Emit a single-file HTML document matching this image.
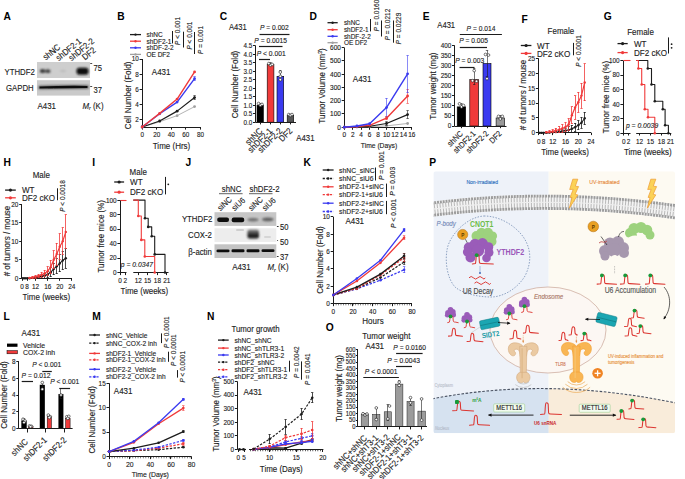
<!DOCTYPE html><html><head><meta charset="utf-8"><style>html,body{margin:0;padding:0;background:#fff;overflow:hidden;width:685px;height:479px;}svg{display:block;font-family:"Liberation Sans",sans-serif;}</style></head><body><svg width="685" height="479" viewBox="0 0 685 479" font-family="Liberation Sans, sans-serif" fill="#1c1c1c"><defs><filter id="bl" x="-20%" y="-50%" width="140%" height="200%"><feGaussianBlur stdDeviation="0.8"/></filter><filter id="bl2" x="-20%" y="-50%" width="140%" height="200%"><feGaussianBlur stdDeviation="0.5"/></filter><filter id="bl3" x="-20%" y="-50%" width="140%" height="200%"><feGaussianBlur stdDeviation="0.35"/></filter></defs>
<text font-size="11.29" font-weight="bold" fill="#000" transform="translate(3.6 19.8) scale(0.9090909090909091 1)">A</text>
<text font-size="8.78" stroke="#1c1c1c" stroke-width="0.13" transform="translate(45.8 60.6) rotate(-39) scale(0.8899521531100479 1)">shNC</text>
<text font-size="8.78" stroke="#1c1c1c" stroke-width="0.13" transform="translate(58.8 61.2) rotate(-39) scale(0.8899521531100479 1)">shDF2-1</text>
<text font-size="8.78" stroke="#1c1c1c" stroke-width="0.13" transform="translate(71.6 61.2) rotate(-39) scale(0.8899521531100479 1)">shDF2-2</text>
<text font-size="8.78" stroke="#1c1c1c" stroke-width="0.13" transform="translate(85 60.6) rotate(-39) scale(0.8899521531100479 1)">DF2</text>
<rect x="37" y="62" width="53" height="16" fill="#cecece"/>
<rect x="37" y="80.2" width="53" height="15.4" fill="#cacaca"/>
<g filter="url(#bl)"><ellipse cx="42.6" cy="71" rx="2.8" ry="2.0" fill="#3a3a3a"/><ellipse cx="47.8" cy="71.2" rx="2.6" ry="1.9" fill="#404040"/><rect x="76.5" y="67.8" width="12" height="7" rx="3" fill="#0a0a0a"/><ellipse cx="63" cy="71" rx="3" ry="1.2" fill="#bdbdbd"/></g>
<g filter="url(#bl)"><path d="M38.5,85.8 Q63,84.8 88.5,85.2 L88.5,88.8 Q63,89.2 38.5,89.2 Z" fill="#5a5a5a"/></g>
<g filter="url(#bl3)"><path d="M39.5,86.4 Q63,85.6 87.5,85.9 L87.5,88.0 Q63,88.4 39.5,88.4 Z" fill="#111"/></g>
<text font-size="8.78" stroke="#1c1c1c" stroke-width="0.13" transform="translate(4.5 74.6) scale(0.8899521531100479 1)">YTHDF2</text>
<text font-size="8.78" stroke="#1c1c1c" stroke-width="0.13" transform="translate(6 90.9) scale(0.8899521531100479 1)">GAPDH</text>
<line x1="90.2" y1="63.5" x2="92.2" y2="63.5" stroke="#1c1c1c" stroke-width="0.8"/>
<line x1="90.2" y1="86.5" x2="92.2" y2="86.5" stroke="#1c1c1c" stroke-width="0.8"/>
<text font-size="8.57" stroke="#1c1c1c" stroke-width="0.13" transform="translate(93.5 71.2) scale(0.8899521531100479 1)">75</text>
<text font-size="8.57" stroke="#1c1c1c" stroke-width="0.13" transform="translate(93.5 93) scale(0.8899521531100479 1)">37</text>
<text font-size="8.88" stroke="#1c1c1c" stroke-width="0.13" transform="translate(37.5 109) scale(0.8899521531100479 1)">A431</text>
<text font-size="8.88" stroke="#1c1c1c" stroke-width="0.13" transform="translate(82.5 108.6) scale(0.8899521531100479 1)"><tspan font-style="italic">M</tspan><tspan font-size="5.8" font-style="italic" dy="1.6">r</tspan><tspan dy="-1.6"> (K)</tspan></text>
<text font-size="11.29" font-weight="bold" fill="#000" transform="translate(117.3 19.8) scale(0.9090909090909091 1)">B</text>
<line x1="130" y1="34.6" x2="141" y2="34.6" stroke="#1c1c1c" stroke-width="1.3"/>
<circle cx="135.5" cy="34.6" r="1.2" fill="#1c1c1c"/>
<text font-size="7.31" stroke="#1c1c1c" stroke-width="0.13" transform="translate(146.5 37.1) scale(0.8899521531100479 1)">shNC</text>
<line x1="130" y1="41.2" x2="141" y2="41.2" stroke="#f03a3a" stroke-width="1.3"/>
<circle cx="135.5" cy="41.2" r="1.2" fill="#f03a3a"/>
<text font-size="7.31" stroke="#1c1c1c" stroke-width="0.13" transform="translate(146.5 43.7) scale(0.8899521531100479 1)">shDF2-1</text>
<line x1="130" y1="47.8" x2="141" y2="47.8" stroke="#3a3af0" stroke-width="1.3"/>
<circle cx="135.5" cy="47.8" r="1.2" fill="#3a3af0"/>
<text font-size="7.31" stroke="#1c1c1c" stroke-width="0.13" transform="translate(146.5 50.3) scale(0.8899521531100479 1)">shDF-2-2</text>
<line x1="130" y1="54.4" x2="141" y2="54.4" stroke="#a0a0a0" stroke-width="1.3"/>
<circle cx="135.5" cy="54.4" r="1.2" fill="#a0a0a0"/>
<text font-size="7.31" stroke="#1c1c1c" stroke-width="0.13" transform="translate(146.5 56.9) scale(0.8899521531100479 1)">OE DF2</text>
<line x1="172.5" y1="31" x2="172.5" y2="43.4" stroke="#1c1c1c" stroke-width="1"/>
<line x1="183.5" y1="31.7" x2="183.5" y2="47.5" stroke="#1c1c1c" stroke-width="1"/>
<line x1="194.5" y1="32" x2="194.5" y2="54" stroke="#1c1c1c" stroke-width="1"/>
<text font-size="7.31" text-anchor="middle" stroke="#1c1c1c" stroke-width="0.13" transform="translate(180.11 31) rotate(-90) scale(0.8899521531100479 1)"><tspan font-style="italic">P</tspan> &lt; 0.001</text>
<text font-size="7.31" text-anchor="middle" stroke="#1c1c1c" stroke-width="0.13" transform="translate(192.31 35.6) rotate(-90) scale(0.8899521531100479 1)"><tspan font-style="italic">P</tspan> &lt; 0.001</text>
<text font-size="7.31" text-anchor="middle" stroke="#1c1c1c" stroke-width="0.13" transform="translate(202.71 40) rotate(-90) scale(0.8899521531100479 1)"><tspan font-style="italic">P</tspan> = 0.001</text>
<line x1="142.5" y1="59" x2="142.5" y2="127" stroke="#1c1c1c" stroke-width="1"/>
<line x1="139.6" y1="119.5" x2="142.2" y2="119.5" stroke="#1c1c1c" stroke-width="1"/>
<text font-size="7.11" text-anchor="end" stroke="#1c1c1c" stroke-width="0.13" transform="translate(138.8 121.83) scale(0.8899521531100479 1)">2</text>
<line x1="139.6" y1="104.5" x2="142.2" y2="104.5" stroke="#1c1c1c" stroke-width="1"/>
<text font-size="7.11" text-anchor="end" stroke="#1c1c1c" stroke-width="0.13" transform="translate(138.8 106.73) scale(0.8899521531100479 1)">4</text>
<line x1="139.6" y1="89.5" x2="142.2" y2="89.5" stroke="#1c1c1c" stroke-width="1"/>
<text font-size="7.11" text-anchor="end" stroke="#1c1c1c" stroke-width="0.13" transform="translate(138.8 91.63) scale(0.8899521531100479 1)">6</text>
<line x1="139.6" y1="74.5" x2="142.2" y2="74.5" stroke="#1c1c1c" stroke-width="1"/>
<text font-size="7.11" text-anchor="end" stroke="#1c1c1c" stroke-width="0.13" transform="translate(138.8 76.53) scale(0.8899521531100479 1)">8</text>
<line x1="139.6" y1="59.5" x2="142.2" y2="59.5" stroke="#1c1c1c" stroke-width="1"/>
<text font-size="7.11" text-anchor="end" stroke="#1c1c1c" stroke-width="0.13" transform="translate(138.8 61.43) scale(0.8899521531100479 1)">10</text>
<line x1="142.2" y1="127.5" x2="200.3" y2="127.5" stroke="#1c1c1c" stroke-width="1"/>
<line x1="142.5" y1="127" x2="142.5" y2="129.6" stroke="#1c1c1c" stroke-width="1"/>
<text font-size="7.11" text-anchor="middle" stroke="#1c1c1c" stroke-width="0.13" transform="translate(142.2 136.9) scale(0.8899521531100479 1)">0</text>
<line x1="156.5" y1="127" x2="156.5" y2="129.6" stroke="#1c1c1c" stroke-width="1"/>
<text font-size="7.11" text-anchor="middle" stroke="#1c1c1c" stroke-width="0.13" transform="translate(156.75 136.9) scale(0.8899521531100479 1)">20</text>
<line x1="171.5" y1="127" x2="171.5" y2="129.6" stroke="#1c1c1c" stroke-width="1"/>
<text font-size="7.11" text-anchor="middle" stroke="#1c1c1c" stroke-width="0.13" transform="translate(171.3 136.9) scale(0.8899521531100479 1)">40</text>
<line x1="185.5" y1="127" x2="185.5" y2="129.6" stroke="#1c1c1c" stroke-width="1"/>
<text font-size="7.11" text-anchor="middle" stroke="#1c1c1c" stroke-width="0.13" transform="translate(185.85 136.9) scale(0.8899521531100479 1)">60</text>
<line x1="200.5" y1="127" x2="200.5" y2="129.6" stroke="#1c1c1c" stroke-width="1"/>
<text font-size="7.11" text-anchor="middle" stroke="#1c1c1c" stroke-width="0.13" transform="translate(200.4 136.9) scale(0.8899521531100479 1)">80</text>
<text font-size="8.99" text-anchor="middle" stroke="#1c1c1c" stroke-width="0.13" transform="translate(131.08 95.4) rotate(-90) scale(0.8899521531100479 1)">Cell Number (Fold)</text>
<text font-size="8.99" text-anchor="middle" stroke="#1c1c1c" stroke-width="0.13" transform="translate(171.5 148.5) scale(0.8899521531100479 1)">Time (Hrs)</text>
<text font-size="8.99" stroke="#1c1c1c" stroke-width="0.13" transform="translate(151.8 75) scale(0.8899521531100479 1)">A431</text>
<polyline points="142.2,127 159.66,121.72 177.12,115.67 194.58,106.61" fill="none" stroke="#a0a0a0" stroke-width="0.8" stroke-linejoin="round"/>
<circle cx="142.2" cy="127" r="1.4" fill="#a0a0a0"/>
<circle cx="159.66" cy="121.72" r="1.4" fill="#a0a0a0"/>
<circle cx="177.12" cy="115.67" r="1.4" fill="#a0a0a0"/>
<circle cx="194.58" cy="106.61" r="1.4" fill="#a0a0a0"/>
<polyline points="142.2,127 159.66,120.96 177.12,111.14 194.58,97.56" fill="none" stroke="#1c1c1c" stroke-width="1.2" stroke-linejoin="round"/>
<circle cx="142.2" cy="127" r="1.4" fill="#1c1c1c"/>
<circle cx="159.66" cy="120.96" r="1.4" fill="#1c1c1c"/>
<circle cx="177.12" cy="111.14" r="1.4" fill="#1c1c1c"/>
<circle cx="194.58" cy="97.56" r="1.4" fill="#1c1c1c"/>
<polyline points="142.2,127 159.66,113.79 177.12,102.09 194.58,78.68" fill="none" stroke="#3a3af0" stroke-width="1.4" stroke-linejoin="round"/>
<circle cx="142.2" cy="127" r="1.4" fill="#3a3af0"/>
<circle cx="159.66" cy="113.79" r="1.4" fill="#3a3af0"/>
<circle cx="177.12" cy="102.09" r="1.4" fill="#3a3af0"/>
<circle cx="194.58" cy="78.68" r="1.4" fill="#3a3af0"/>
<polyline points="142.2,127 159.66,113.41 177.12,99.06 194.58,71.88" fill="none" stroke="#f03a3a" stroke-width="1.4" stroke-linejoin="round"/>
<circle cx="142.2" cy="127" r="1.4" fill="#f03a3a"/>
<circle cx="159.66" cy="113.41" r="1.4" fill="#f03a3a"/>
<circle cx="177.12" cy="99.06" r="1.4" fill="#f03a3a"/>
<circle cx="194.58" cy="71.88" r="1.4" fill="#f03a3a"/>
<line x1="194.5" y1="99.44" x2="194.5" y2="95.67" stroke="#1c1c1c" stroke-width="0.6"/>
<line x1="193.38" y1="95.5" x2="195.78" y2="95.5" stroke="#1c1c1c" stroke-width="0.6"/>
<line x1="193.38" y1="99.5" x2="195.78" y2="99.5" stroke="#1c1c1c" stroke-width="0.6"/>
<line x1="194.5" y1="80.57" x2="194.5" y2="76.79" stroke="#3a3af0" stroke-width="0.6"/>
<line x1="193.38" y1="76.5" x2="195.78" y2="76.5" stroke="#3a3af0" stroke-width="0.6"/>
<line x1="193.38" y1="80.5" x2="195.78" y2="80.5" stroke="#3a3af0" stroke-width="0.6"/>
<text font-size="11.29" font-weight="bold" fill="#000" transform="translate(219.8 19.8) scale(0.9090909090909091 1)">C</text>
<text font-size="8.57" stroke="#1c1c1c" stroke-width="0.13" transform="translate(229 30.2) scale(0.8899521531100479 1)">A431</text>
<text font-size="7.52" text-anchor="middle" stroke="#1c1c1c" stroke-width="0.13" transform="translate(274.4 29.7) scale(0.8899521531100479 1)"><tspan font-style="italic">P</tspan> = 0.002</text>
<line x1="259.5" y1="34.5" x2="289.5" y2="34.5" stroke="#1c1c1c" stroke-width="1.2"/>
<text font-size="7.52" text-anchor="middle" stroke="#1c1c1c" stroke-width="0.13" transform="translate(270.6 42.6) scale(0.8899521531100479 1)"><tspan font-style="italic">P</tspan> = 0.0015</text>
<line x1="259" y1="46.5" x2="282.5" y2="46.5" stroke="#1c1c1c" stroke-width="1.2"/>
<text font-size="7.52" text-anchor="middle" stroke="#1c1c1c" stroke-width="0.13" transform="translate(271.2 56.3) scale(0.8899521531100479 1)"><tspan font-style="italic">P</tspan> &lt; 0.001</text>
<line x1="259" y1="59.5" x2="270" y2="59.5" stroke="#1c1c1c" stroke-width="1.2"/>
<line x1="255.5" y1="45.7" x2="255.5" y2="122.2" stroke="#1c1c1c" stroke-width="1"/>
<line x1="253" y1="122.5" x2="255.6" y2="122.5" stroke="#1c1c1c" stroke-width="1"/>
<text font-size="7.11" text-anchor="end" stroke="#1c1c1c" stroke-width="0.13" transform="translate(252.2 124.58) scale(0.8899521531100479 1)">0.0</text>
<line x1="253" y1="113.5" x2="255.6" y2="113.5" stroke="#1c1c1c" stroke-width="1"/>
<text font-size="7.11" text-anchor="end" stroke="#1c1c1c" stroke-width="0.13" transform="translate(252.2 116.08) scale(0.8899521531100479 1)">0.5</text>
<line x1="253" y1="105.5" x2="255.6" y2="105.5" stroke="#1c1c1c" stroke-width="1"/>
<text font-size="7.11" text-anchor="end" stroke="#1c1c1c" stroke-width="0.13" transform="translate(252.2 107.58) scale(0.8899521531100479 1)">1.0</text>
<line x1="253" y1="96.5" x2="255.6" y2="96.5" stroke="#1c1c1c" stroke-width="1"/>
<text font-size="7.11" text-anchor="end" stroke="#1c1c1c" stroke-width="0.13" transform="translate(252.2 99.08) scale(0.8899521531100479 1)">1.5</text>
<line x1="253" y1="88.5" x2="255.6" y2="88.5" stroke="#1c1c1c" stroke-width="1"/>
<text font-size="7.11" text-anchor="end" stroke="#1c1c1c" stroke-width="0.13" transform="translate(252.2 90.58) scale(0.8899521531100479 1)">2.0</text>
<line x1="253" y1="79.5" x2="255.6" y2="79.5" stroke="#1c1c1c" stroke-width="1"/>
<text font-size="7.11" text-anchor="end" stroke="#1c1c1c" stroke-width="0.13" transform="translate(252.2 82.08) scale(0.8899521531100479 1)">2.5</text>
<line x1="253" y1="71.5" x2="255.6" y2="71.5" stroke="#1c1c1c" stroke-width="1"/>
<text font-size="7.11" text-anchor="end" stroke="#1c1c1c" stroke-width="0.13" transform="translate(252.2 73.58) scale(0.8899521531100479 1)">3.0</text>
<line x1="253" y1="62.5" x2="255.6" y2="62.5" stroke="#1c1c1c" stroke-width="1"/>
<text font-size="7.11" text-anchor="end" stroke="#1c1c1c" stroke-width="0.13" transform="translate(252.2 65.08) scale(0.8899521531100479 1)">3.5</text>
<line x1="253" y1="54.5" x2="255.6" y2="54.5" stroke="#1c1c1c" stroke-width="1"/>
<text font-size="7.11" text-anchor="end" stroke="#1c1c1c" stroke-width="0.13" transform="translate(252.2 56.58) scale(0.8899521531100479 1)">4.0</text>
<line x1="253" y1="45.5" x2="255.6" y2="45.5" stroke="#1c1c1c" stroke-width="1"/>
<text font-size="7.11" text-anchor="end" stroke="#1c1c1c" stroke-width="0.13" transform="translate(252.2 48.08) scale(0.8899521531100479 1)">4.5</text>
<rect x="257" y="105.2" width="6.4" height="17" fill="#000" stroke="#000" stroke-width="0.6"/>
<rect x="267.2" y="64.4" width="6.7" height="57.8" fill="#f03a3a" stroke="#000" stroke-width="0.6"/>
<rect x="277" y="76.3" width="6.7" height="45.9" fill="#3a3af0" stroke="#000" stroke-width="0.6"/>
<rect x="287.2" y="115.4" width="6.5" height="6.8" fill="#555" stroke="#000" stroke-width="0.6"/>
<line x1="260.5" y1="106.05" x2="260.5" y2="103.5" stroke="#1c1c1c" stroke-width="0.6"/>
<line x1="259" y1="103.5" x2="261.4" y2="103.5" stroke="#1c1c1c" stroke-width="0.6"/>
<line x1="259" y1="106.5" x2="261.4" y2="106.5" stroke="#1c1c1c" stroke-width="0.6"/>
<line x1="270.5" y1="65.25" x2="270.5" y2="62.7" stroke="#1c1c1c" stroke-width="0.6"/>
<line x1="269.3" y1="62.5" x2="271.7" y2="62.5" stroke="#1c1c1c" stroke-width="0.6"/>
<line x1="269.3" y1="65.5" x2="271.7" y2="65.5" stroke="#1c1c1c" stroke-width="0.6"/>
<line x1="280.5" y1="80.55" x2="280.5" y2="70.35" stroke="#1c1c1c" stroke-width="0.6"/>
<line x1="279.1" y1="70.5" x2="281.5" y2="70.5" stroke="#1c1c1c" stroke-width="0.6"/>
<line x1="279.1" y1="80.5" x2="281.5" y2="80.5" stroke="#1c1c1c" stroke-width="0.6"/>
<line x1="290.5" y1="116.25" x2="290.5" y2="114.55" stroke="#1c1c1c" stroke-width="0.6"/>
<line x1="289.2" y1="114.5" x2="291.6" y2="114.5" stroke="#1c1c1c" stroke-width="0.6"/>
<line x1="289.2" y1="116.5" x2="291.6" y2="116.5" stroke="#1c1c1c" stroke-width="0.6"/>
<circle cx="258.6" cy="103.5" r="1.35" fill="#fff" stroke="#1c1c1c" stroke-width="0.6"/>
<circle cx="260.5" cy="105.2" r="1.35" fill="#fff" stroke="#1c1c1c" stroke-width="0.6"/>
<circle cx="262" cy="104.35" r="1.35" fill="#fff" stroke="#1c1c1c" stroke-width="0.6"/>
<circle cx="268.8" cy="63.55" r="1.35" fill="#fff" stroke="#1c1c1c" stroke-width="0.6"/>
<circle cx="270.6" cy="65.25" r="1.35" fill="#fff" stroke="#1c1c1c" stroke-width="0.6"/>
<circle cx="272.2" cy="64.4" r="1.35" fill="#fff" stroke="#1c1c1c" stroke-width="0.6"/>
<circle cx="280.3" cy="72.05" r="1.35" fill="#fff" stroke="#1c1c1c" stroke-width="0.6"/>
<circle cx="280.3" cy="79.7" r="1.35" fill="#fff" stroke="#1c1c1c" stroke-width="0.6"/>
<circle cx="280.3" cy="76.3" r="1.35" fill="#fff" stroke="#1c1c1c" stroke-width="0.6"/>
<circle cx="288.8" cy="114.55" r="1.35" fill="#fff" stroke="#1c1c1c" stroke-width="0.6"/>
<circle cx="290.4" cy="115.4" r="1.35" fill="#fff" stroke="#1c1c1c" stroke-width="0.6"/>
<circle cx="292" cy="114.55" r="1.35" fill="#fff" stroke="#1c1c1c" stroke-width="0.6"/>
<line x1="255.6" y1="122.5" x2="296" y2="122.5" stroke="#1c1c1c" stroke-width="1"/>
<line x1="260.5" y1="122.2" x2="260.5" y2="124.4" stroke="#1c1c1c" stroke-width="1"/>
<line x1="270.5" y1="122.2" x2="270.5" y2="124.4" stroke="#1c1c1c" stroke-width="1"/>
<line x1="280.5" y1="122.2" x2="280.5" y2="124.4" stroke="#1c1c1c" stroke-width="1"/>
<line x1="290.5" y1="122.2" x2="290.5" y2="124.4" stroke="#1c1c1c" stroke-width="1"/>
<text font-size="8.99" text-anchor="end" stroke="#1c1c1c" stroke-width="0.13" transform="translate(263 131.6) rotate(-45) scale(0.8899521531100479 1)">shNC</text>
<text font-size="8.99" text-anchor="end" stroke="#1c1c1c" stroke-width="0.13" transform="translate(273 131.6) rotate(-45) scale(0.8899521531100479 1)">shDF2-1</text>
<text font-size="8.99" text-anchor="end" stroke="#1c1c1c" stroke-width="0.13" transform="translate(283 131.6) rotate(-45) scale(0.8899521531100479 1)">shDF2-2</text>
<text font-size="8.99" text-anchor="end" stroke="#1c1c1c" stroke-width="0.13" transform="translate(293 131.6) rotate(-45) scale(0.8899521531100479 1)">DF2</text>
<text font-size="8.99" text-anchor="middle" stroke="#1c1c1c" stroke-width="0.13" transform="translate(238.08 84.5) rotate(-90) scale(0.8899521531100479 1)">Cell Number (Fold)</text>
<text font-size="8.78" stroke="#1c1c1c" stroke-width="0.13" transform="translate(296.3 141) scale(0.8899521531100479 1)">A431</text>
<text font-size="11.29" font-weight="bold" fill="#000" transform="translate(309.6 19.9) scale(0.9090909090909091 1)">D</text>
<line x1="327.5" y1="22.7" x2="337.7" y2="22.7" stroke="#1c1c1c" stroke-width="1.3"/>
<circle cx="332.6" cy="22.7" r="1.2" fill="#1c1c1c"/>
<text font-size="7.26" stroke="#1c1c1c" stroke-width="0.13" transform="translate(343.9 25.2) scale(0.8899521531100479 1)">shNC</text>
<line x1="327.5" y1="29.7" x2="337.7" y2="29.7" stroke="#f03a3a" stroke-width="1.3"/>
<circle cx="332.6" cy="29.7" r="1.2" fill="#f03a3a"/>
<text font-size="7.26" stroke="#1c1c1c" stroke-width="0.13" transform="translate(343.9 32.2) scale(0.8899521531100479 1)">shDF2-1</text>
<line x1="327.5" y1="36.3" x2="337.7" y2="36.3" stroke="#3a3af0" stroke-width="1.3"/>
<circle cx="332.6" cy="36.3" r="1.2" fill="#3a3af0"/>
<text font-size="7.26" stroke="#1c1c1c" stroke-width="0.13" transform="translate(343.9 38.8) scale(0.8899521531100479 1)">shDF-2-2</text>
<line x1="327.5" y1="42.7" x2="337.7" y2="42.7" stroke="#a0a0a0" stroke-width="1.3"/>
<circle cx="332.6" cy="42.7" r="1.2" fill="#a0a0a0"/>
<text font-size="7.26" stroke="#1c1c1c" stroke-width="0.13" transform="translate(343.9 45.2) scale(0.8899521531100479 1)">OE DF2</text>
<line x1="370.5" y1="19" x2="370.5" y2="31.4" stroke="#1c1c1c" stroke-width="1"/>
<line x1="381.5" y1="20.5" x2="381.5" y2="36.5" stroke="#1c1c1c" stroke-width="1"/>
<line x1="393.5" y1="20.5" x2="393.5" y2="42.7" stroke="#1c1c1c" stroke-width="1"/>
<text font-size="7.31" text-anchor="middle" stroke="#1c1c1c" stroke-width="0.13" transform="translate(379.11 15.5) rotate(-90) scale(0.8899521531100479 1)"><tspan font-style="italic">P</tspan> = 0.0160</text>
<text font-size="7.31" text-anchor="middle" stroke="#1c1c1c" stroke-width="0.13" transform="translate(389.51 24.5) rotate(-90) scale(0.8899521531100479 1)"><tspan font-style="italic">P</tspan> = 0.0212</text>
<text font-size="7.31" text-anchor="middle" stroke="#1c1c1c" stroke-width="0.13" transform="translate(400.51 28.5) rotate(-90) scale(0.8899521531100479 1)"><tspan font-style="italic">P</tspan> = 0.0229</text>
<line x1="344.5" y1="47.6" x2="344.5" y2="127.2" stroke="#1c1c1c" stroke-width="1"/>
<line x1="341.7" y1="127.5" x2="344.3" y2="127.5" stroke="#1c1c1c" stroke-width="1"/>
<text font-size="7.31" text-anchor="end" stroke="#1c1c1c" stroke-width="0.13" transform="translate(340.9 129.65) scale(0.8899521531100479 1)">0</text>
<line x1="341.7" y1="113.5" x2="344.3" y2="113.5" stroke="#1c1c1c" stroke-width="1"/>
<text font-size="7.31" text-anchor="end" stroke="#1c1c1c" stroke-width="0.13" transform="translate(340.9 116.38) scale(0.8899521531100479 1)">100</text>
<line x1="341.7" y1="100.5" x2="344.3" y2="100.5" stroke="#1c1c1c" stroke-width="1"/>
<text font-size="7.31" text-anchor="end" stroke="#1c1c1c" stroke-width="0.13" transform="translate(340.9 103.11) scale(0.8899521531100479 1)">200</text>
<line x1="341.7" y1="87.5" x2="344.3" y2="87.5" stroke="#1c1c1c" stroke-width="1"/>
<text font-size="7.31" text-anchor="end" stroke="#1c1c1c" stroke-width="0.13" transform="translate(340.9 89.84) scale(0.8899521531100479 1)">300</text>
<line x1="341.7" y1="74.5" x2="344.3" y2="74.5" stroke="#1c1c1c" stroke-width="1"/>
<text font-size="7.31" text-anchor="end" stroke="#1c1c1c" stroke-width="0.13" transform="translate(340.9 76.57) scale(0.8899521531100479 1)">400</text>
<line x1="341.7" y1="60.5" x2="344.3" y2="60.5" stroke="#1c1c1c" stroke-width="1"/>
<text font-size="7.31" text-anchor="end" stroke="#1c1c1c" stroke-width="0.13" transform="translate(340.9 63.3) scale(0.8899521531100479 1)">500</text>
<line x1="341.7" y1="47.5" x2="344.3" y2="47.5" stroke="#1c1c1c" stroke-width="1"/>
<text font-size="7.31" text-anchor="end" stroke="#1c1c1c" stroke-width="0.13" transform="translate(340.9 50.03) scale(0.8899521531100479 1)">600</text>
<line x1="344.3" y1="127.5" x2="412" y2="127.5" stroke="#1c1c1c" stroke-width="1"/>
<line x1="344.5" y1="127.2" x2="344.5" y2="129.8" stroke="#1c1c1c" stroke-width="1"/>
<text font-size="7.31" text-anchor="middle" stroke="#1c1c1c" stroke-width="0.13" transform="translate(344.3 137.04) scale(0.8899521531100479 1)">0</text>
<line x1="352.5" y1="127.2" x2="352.5" y2="129.8" stroke="#1c1c1c" stroke-width="1"/>
<text font-size="7.31" text-anchor="middle" stroke="#1c1c1c" stroke-width="0.13" transform="translate(352.74 137.04) scale(0.8899521531100479 1)">2</text>
<line x1="361.5" y1="127.2" x2="361.5" y2="129.8" stroke="#1c1c1c" stroke-width="1"/>
<text font-size="7.31" text-anchor="middle" stroke="#1c1c1c" stroke-width="0.13" transform="translate(361.18 137.04) scale(0.8899521531100479 1)">4</text>
<line x1="369.5" y1="127.2" x2="369.5" y2="129.8" stroke="#1c1c1c" stroke-width="1"/>
<text font-size="7.31" text-anchor="middle" stroke="#1c1c1c" stroke-width="0.13" transform="translate(369.62 137.04) scale(0.8899521531100479 1)">6</text>
<line x1="378.5" y1="127.2" x2="378.5" y2="129.8" stroke="#1c1c1c" stroke-width="1"/>
<text font-size="7.31" text-anchor="middle" stroke="#1c1c1c" stroke-width="0.13" transform="translate(378.06 137.04) scale(0.8899521531100479 1)">8</text>
<line x1="386.5" y1="127.2" x2="386.5" y2="129.8" stroke="#1c1c1c" stroke-width="1"/>
<text font-size="7.31" text-anchor="middle" stroke="#1c1c1c" stroke-width="0.13" transform="translate(386.5 137.04) scale(0.8899521531100479 1)">10</text>
<line x1="394.5" y1="127.2" x2="394.5" y2="129.8" stroke="#1c1c1c" stroke-width="1"/>
<text font-size="7.31" text-anchor="middle" stroke="#1c1c1c" stroke-width="0.13" transform="translate(394.94 137.04) scale(0.8899521531100479 1)">12</text>
<line x1="403.5" y1="127.2" x2="403.5" y2="129.8" stroke="#1c1c1c" stroke-width="1"/>
<text font-size="7.31" text-anchor="middle" stroke="#1c1c1c" stroke-width="0.13" transform="translate(403.38 137.04) scale(0.8899521531100479 1)">14</text>
<line x1="411.5" y1="127.2" x2="411.5" y2="129.8" stroke="#1c1c1c" stroke-width="1"/>
<text font-size="7.31" text-anchor="middle" stroke="#1c1c1c" stroke-width="0.13" transform="translate(411.82 137.04) scale(0.8899521531100479 1)">16</text>
<text font-size="8.99" text-anchor="middle" stroke="#1c1c1c" stroke-width="0.13" transform="translate(325.28 86) rotate(-90) scale(0.8899521531100479 1)">Tumor Volume (mm<tspan font-size="5.5" dy="-3">3</tspan><tspan dy="3">)</tspan></text>
<text font-size="7.58" text-anchor="middle" stroke="#1c1c1c" stroke-width="0.13" transform="translate(379 148.1) scale(0.8899521531100479 1)">Time (Days)</text>
<text font-size="8.99" stroke="#1c1c1c" stroke-width="0.13" transform="translate(352.8 82) scale(0.8899521531100479 1)">A431</text>
<polyline points="344.3,127.2 356.96,126.93 369.62,126.67 386.5,125.87 407.6,123.48" fill="none" stroke="#a0a0a0" stroke-width="0.8" stroke-linejoin="round"/>
<circle cx="344.3" cy="127.2" r="1.4" fill="#a0a0a0"/>
<circle cx="356.96" cy="126.93" r="1.4" fill="#a0a0a0"/>
<circle cx="369.62" cy="126.67" r="1.4" fill="#a0a0a0"/>
<circle cx="386.5" cy="125.87" r="1.4" fill="#a0a0a0"/>
<circle cx="407.6" cy="123.48" r="1.4" fill="#a0a0a0"/>
<polyline points="344.3,127.2 356.96,126.8 369.62,126.27 386.5,123.48 407.6,114.59" fill="none" stroke="#1c1c1c" stroke-width="1.2" stroke-linejoin="round"/>
<circle cx="344.3" cy="127.2" r="1.4" fill="#1c1c1c"/>
<circle cx="356.96" cy="126.8" r="1.4" fill="#1c1c1c"/>
<circle cx="369.62" cy="126.27" r="1.4" fill="#1c1c1c"/>
<circle cx="386.5" cy="123.48" r="1.4" fill="#1c1c1c"/>
<circle cx="407.6" cy="114.59" r="1.4" fill="#1c1c1c"/>
<line x1="407.5" y1="118.57" x2="407.5" y2="110.61" stroke="#1c1c1c" stroke-width="0.6"/>
<line x1="406.4" y1="110.5" x2="408.8" y2="110.5" stroke="#1c1c1c" stroke-width="0.6"/>
<line x1="406.4" y1="118.5" x2="408.8" y2="118.5" stroke="#1c1c1c" stroke-width="0.6"/>
<polyline points="344.3,127.2 356.96,126.54 369.62,125.34 386.5,118.18 407.6,96.02" fill="none" stroke="#f03a3a" stroke-width="1.4" stroke-linejoin="round"/>
<circle cx="344.3" cy="127.2" r="1.4" fill="#f03a3a"/>
<circle cx="356.96" cy="126.54" r="1.4" fill="#f03a3a"/>
<circle cx="369.62" cy="125.34" r="1.4" fill="#f03a3a"/>
<circle cx="386.5" cy="118.18" r="1.4" fill="#f03a3a"/>
<circle cx="407.6" cy="96.02" r="1.4" fill="#f03a3a"/>
<line x1="407.5" y1="103.31" x2="407.5" y2="89.38" stroke="#f03a3a" stroke-width="0.6"/>
<line x1="406.4" y1="89.5" x2="408.8" y2="89.5" stroke="#f03a3a" stroke-width="0.6"/>
<line x1="406.4" y1="103.5" x2="408.8" y2="103.5" stroke="#f03a3a" stroke-width="0.6"/>
<polyline points="344.3,127.2 356.96,126.01 369.62,123.75 386.5,107.56 407.6,73.85" fill="none" stroke="#3a3af0" stroke-width="1.4" stroke-linejoin="round"/>
<circle cx="344.3" cy="127.2" r="1.4" fill="#3a3af0"/>
<circle cx="356.96" cy="126.01" r="1.4" fill="#3a3af0"/>
<circle cx="369.62" cy="123.75" r="1.4" fill="#3a3af0"/>
<circle cx="386.5" cy="107.56" r="1.4" fill="#3a3af0"/>
<circle cx="407.6" cy="73.85" r="1.4" fill="#3a3af0"/>
<line x1="407.5" y1="92.7" x2="407.5" y2="55.54" stroke="#3a3af0" stroke-width="0.6"/>
<line x1="406.4" y1="55.5" x2="408.8" y2="55.5" stroke="#3a3af0" stroke-width="0.6"/>
<line x1="406.4" y1="92.5" x2="408.8" y2="92.5" stroke="#3a3af0" stroke-width="0.6"/>
<line x1="386.5" y1="116.58" x2="386.5" y2="98.27" stroke="#3a3af0" stroke-width="0.6"/>
<line x1="385.3" y1="98.5" x2="387.7" y2="98.5" stroke="#3a3af0" stroke-width="0.6"/>
<line x1="385.3" y1="116.5" x2="387.7" y2="116.5" stroke="#3a3af0" stroke-width="0.6"/>
<line x1="386.5" y1="119.9" x2="386.5" y2="116.58" stroke="#f03a3a" stroke-width="0.6"/>
<line x1="385.3" y1="116.5" x2="387.7" y2="116.5" stroke="#f03a3a" stroke-width="0.6"/>
<line x1="385.3" y1="119.5" x2="387.7" y2="119.5" stroke="#f03a3a" stroke-width="0.6"/>
<line x1="386.5" y1="125.21" x2="386.5" y2="121.89" stroke="#1c1c1c" stroke-width="0.6"/>
<line x1="385.3" y1="121.5" x2="387.7" y2="121.5" stroke="#1c1c1c" stroke-width="0.6"/>
<line x1="385.3" y1="125.5" x2="387.7" y2="125.5" stroke="#1c1c1c" stroke-width="0.6"/>
<text font-size="11.29" font-weight="bold" fill="#000" transform="translate(422.8 19.8) scale(0.9090909090909091 1)">E</text>
<text font-size="8.57" stroke="#1c1c1c" stroke-width="0.13" transform="translate(437.3 27.7) scale(0.8899521531100479 1)">A431</text>
<text font-size="7.52" text-anchor="middle" stroke="#1c1c1c" stroke-width="0.13" transform="translate(481 30.6) scale(0.8899521531100479 1)"><tspan font-style="italic">P</tspan> = 0.014</text>
<line x1="459.8" y1="34.5" x2="501.9" y2="34.5" stroke="#1c1c1c" stroke-width="1.2"/>
<text font-size="7.52" text-anchor="middle" stroke="#1c1c1c" stroke-width="0.13" transform="translate(473.6 43.1) scale(0.8899521531100479 1)"><tspan font-style="italic">P</tspan> = 0.005</text>
<line x1="459.8" y1="47.5" x2="487" y2="47.5" stroke="#1c1c1c" stroke-width="1.2"/>
<text font-size="7.52" text-anchor="middle" stroke="#1c1c1c" stroke-width="0.13" transform="translate(469.7 63.2) scale(0.8899521531100479 1)"><tspan font-style="italic">P</tspan> = 0.003</text>
<line x1="459.5" y1="67.5" x2="474.5" y2="67.5" stroke="#1c1c1c" stroke-width="1.2"/>
<line x1="454.5" y1="45.4" x2="454.5" y2="126" stroke="#1c1c1c" stroke-width="1"/>
<line x1="452" y1="126.5" x2="454.6" y2="126.5" stroke="#1c1c1c" stroke-width="1"/>
<text font-size="7.11" text-anchor="end" stroke="#1c1c1c" stroke-width="0.13" transform="translate(451.2 128.38) scale(0.8899521531100479 1)">0</text>
<line x1="452" y1="115.5" x2="454.6" y2="115.5" stroke="#1c1c1c" stroke-width="1"/>
<text font-size="7.11" text-anchor="end" stroke="#1c1c1c" stroke-width="0.13" transform="translate(451.2 118.3) scale(0.8899521531100479 1)">50</text>
<line x1="452" y1="105.5" x2="454.6" y2="105.5" stroke="#1c1c1c" stroke-width="1"/>
<text font-size="7.11" text-anchor="end" stroke="#1c1c1c" stroke-width="0.13" transform="translate(451.2 108.23) scale(0.8899521531100479 1)">100</text>
<line x1="452" y1="95.5" x2="454.6" y2="95.5" stroke="#1c1c1c" stroke-width="1"/>
<text font-size="7.11" text-anchor="end" stroke="#1c1c1c" stroke-width="0.13" transform="translate(451.2 98.16) scale(0.8899521531100479 1)">150</text>
<line x1="452" y1="85.5" x2="454.6" y2="85.5" stroke="#1c1c1c" stroke-width="1"/>
<text font-size="7.11" text-anchor="end" stroke="#1c1c1c" stroke-width="0.13" transform="translate(451.2 88.08) scale(0.8899521531100479 1)">200</text>
<line x1="452" y1="75.5" x2="454.6" y2="75.5" stroke="#1c1c1c" stroke-width="1"/>
<text font-size="7.11" text-anchor="end" stroke="#1c1c1c" stroke-width="0.13" transform="translate(451.2 78) scale(0.8899521531100479 1)">250</text>
<line x1="452" y1="65.5" x2="454.6" y2="65.5" stroke="#1c1c1c" stroke-width="1"/>
<text font-size="7.11" text-anchor="end" stroke="#1c1c1c" stroke-width="0.13" transform="translate(451.2 67.93) scale(0.8899521531100479 1)">300</text>
<line x1="452" y1="55.5" x2="454.6" y2="55.5" stroke="#1c1c1c" stroke-width="1"/>
<text font-size="7.11" text-anchor="end" stroke="#1c1c1c" stroke-width="0.13" transform="translate(451.2 57.85) scale(0.8899521531100479 1)">350</text>
<line x1="452" y1="45.5" x2="454.6" y2="45.5" stroke="#1c1c1c" stroke-width="1"/>
<text font-size="7.11" text-anchor="end" stroke="#1c1c1c" stroke-width="0.13" transform="translate(451.2 47.78) scale(0.8899521531100479 1)">400</text>
<rect x="457.2" y="106.86" width="8.5" height="19.14" fill="#000" stroke="#000" stroke-width="0.6"/>
<rect x="469.8" y="79.66" width="8.8" height="46.34" fill="#f03a3a" stroke="#000" stroke-width="0.6"/>
<rect x="483" y="63.53" width="8" height="62.47" fill="#3a3af0" stroke="#000" stroke-width="0.6"/>
<rect x="496.1" y="117.94" width="8.5" height="8.06" fill="#999" stroke="#000" stroke-width="0.6"/>
<line x1="461.5" y1="108.27" x2="461.5" y2="103.83" stroke="#1c1c1c" stroke-width="0.6"/>
<line x1="460.2" y1="103.5" x2="462.6" y2="103.5" stroke="#1c1c1c" stroke-width="0.6"/>
<line x1="460.2" y1="108.5" x2="462.6" y2="108.5" stroke="#1c1c1c" stroke-width="0.6"/>
<line x1="474.5" y1="84.69" x2="474.5" y2="68.57" stroke="#1c1c1c" stroke-width="0.6"/>
<line x1="473" y1="68.5" x2="475.4" y2="68.5" stroke="#1c1c1c" stroke-width="0.6"/>
<line x1="473" y1="84.5" x2="475.4" y2="84.5" stroke="#1c1c1c" stroke-width="0.6"/>
<line x1="487.5" y1="76.63" x2="487.5" y2="50.44" stroke="#1c1c1c" stroke-width="0.6"/>
<line x1="485.8" y1="50.5" x2="488.2" y2="50.5" stroke="#1c1c1c" stroke-width="0.6"/>
<line x1="485.8" y1="76.5" x2="488.2" y2="76.5" stroke="#1c1c1c" stroke-width="0.6"/>
<line x1="500.5" y1="119.95" x2="500.5" y2="115.52" stroke="#1c1c1c" stroke-width="0.6"/>
<line x1="499.1" y1="115.5" x2="501.5" y2="115.5" stroke="#1c1c1c" stroke-width="0.6"/>
<line x1="499.1" y1="119.5" x2="501.5" y2="119.5" stroke="#1c1c1c" stroke-width="0.6"/>
<circle cx="459.5" cy="103.83" r="1.35" fill="#fff" stroke="#1c1c1c" stroke-width="0.6"/>
<circle cx="461.5" cy="106.86" r="1.35" fill="#fff" stroke="#1c1c1c" stroke-width="0.6"/>
<circle cx="463.5" cy="105.45" r="1.35" fill="#fff" stroke="#1c1c1c" stroke-width="0.6"/>
<circle cx="472.5" cy="80.66" r="1.35" fill="#fff" stroke="#1c1c1c" stroke-width="0.6"/>
<circle cx="474.2" cy="70.59" r="1.35" fill="#fff" stroke="#1c1c1c" stroke-width="0.6"/>
<circle cx="476.5" cy="81.27" r="1.35" fill="#fff" stroke="#1c1c1c" stroke-width="0.6"/>
<circle cx="487" cy="78.65" r="1.35" fill="#fff" stroke="#1c1c1c" stroke-width="0.6"/>
<circle cx="485.5" cy="54.47" r="1.35" fill="#fff" stroke="#1c1c1c" stroke-width="0.6"/>
<circle cx="488.5" cy="55.07" r="1.35" fill="#fff" stroke="#1c1c1c" stroke-width="0.6"/>
<circle cx="498.5" cy="116.33" r="1.35" fill="#fff" stroke="#1c1c1c" stroke-width="0.6"/>
<circle cx="500.3" cy="118.95" r="1.35" fill="#fff" stroke="#1c1c1c" stroke-width="0.6"/>
<circle cx="502.3" cy="116.33" r="1.35" fill="#fff" stroke="#1c1c1c" stroke-width="0.6"/>
<line x1="454.6" y1="126.5" x2="506.5" y2="126.5" stroke="#1c1c1c" stroke-width="1"/>
<line x1="461.5" y1="126" x2="461.5" y2="128.2" stroke="#1c1c1c" stroke-width="1"/>
<line x1="474.5" y1="126" x2="474.5" y2="128.2" stroke="#1c1c1c" stroke-width="1"/>
<line x1="487.5" y1="126" x2="487.5" y2="128.2" stroke="#1c1c1c" stroke-width="1"/>
<line x1="500.5" y1="126" x2="500.5" y2="128.2" stroke="#1c1c1c" stroke-width="1"/>
<text font-size="8.15" text-anchor="end" stroke="#1c1c1c" stroke-width="0.13" transform="translate(463.4 134.2) rotate(-45) scale(0.8899521531100479 1)">shNC</text>
<text font-size="8.15" text-anchor="end" stroke="#1c1c1c" stroke-width="0.13" transform="translate(476.2 134.2) rotate(-45) scale(0.8899521531100479 1)">shDF2-1</text>
<text font-size="8.15" text-anchor="end" stroke="#1c1c1c" stroke-width="0.13" transform="translate(489 134.2) rotate(-45) scale(0.8899521531100479 1)">shDF2-2</text>
<text font-size="8.15" text-anchor="end" stroke="#1c1c1c" stroke-width="0.13" transform="translate(502.2 134.2) rotate(-45) scale(0.8899521531100479 1)">DF2</text>
<text font-size="8.99" text-anchor="middle" stroke="#1c1c1c" stroke-width="0.13" transform="translate(435.88 86) rotate(-90) scale(0.8899521531100479 1)">Tumor weight (mg)</text>
<text font-size="11.29" font-weight="bold" fill="#000" transform="translate(521.6 23.4) scale(0.9090909090909091 1)">F</text>
<text font-size="8.99" text-anchor="middle" stroke="#1c1c1c" stroke-width="0.13" transform="translate(560.9 33.6) scale(0.8899521531100479 1)">Female</text>
<line x1="520.8" y1="45.5" x2="531.4" y2="45.5" stroke="#1c1c1c" stroke-width="1.3"/>
<circle cx="526.1" cy="45.5" r="1.6" fill="#1c1c1c"/>
<line x1="520.8" y1="53.4" x2="531.4" y2="53.4" stroke="#f03a3a" stroke-width="1.3"/>
<circle cx="526.1" cy="53.4" r="1.6" fill="#f03a3a"/>
<text font-size="9.09" stroke="#1c1c1c" stroke-width="0.13" transform="translate(537 48.6) scale(0.8899521531100479 1)">WT</text>
<text font-size="9.09" stroke="#1c1c1c" stroke-width="0.13" transform="translate(537 56.5) scale(0.8899521531100479 1)">DF2 cKO</text>
<line x1="573.5" y1="42.9" x2="573.5" y2="55.3" stroke="#1c1c1c" stroke-width="1"/>
<text font-size="7.31" text-anchor="middle" stroke="#1c1c1c" stroke-width="0.13" transform="translate(581.11 51) rotate(-90) scale(0.8899521531100479 1)"><tspan font-style="italic">P</tspan> &lt; 0.0001</text>
<line x1="538.5" y1="58.3" x2="538.5" y2="132.9" stroke="#1c1c1c" stroke-width="1"/>
<line x1="535.9" y1="132.5" x2="538.5" y2="132.5" stroke="#1c1c1c" stroke-width="1"/>
<text font-size="7.21" text-anchor="end" stroke="#1c1c1c" stroke-width="0.13" transform="translate(535.1 135.31) scale(0.8899521531100479 1)">0</text>
<line x1="535.9" y1="117.5" x2="538.5" y2="117.5" stroke="#1c1c1c" stroke-width="1"/>
<text font-size="7.21" text-anchor="end" stroke="#1c1c1c" stroke-width="0.13" transform="translate(535.1 120.4) scale(0.8899521531100479 1)">5</text>
<line x1="535.9" y1="103.5" x2="538.5" y2="103.5" stroke="#1c1c1c" stroke-width="1"/>
<text font-size="7.21" text-anchor="end" stroke="#1c1c1c" stroke-width="0.13" transform="translate(535.1 105.48) scale(0.8899521531100479 1)">10</text>
<line x1="535.9" y1="88.5" x2="538.5" y2="88.5" stroke="#1c1c1c" stroke-width="1"/>
<text font-size="7.21" text-anchor="end" stroke="#1c1c1c" stroke-width="0.13" transform="translate(535.1 90.56) scale(0.8899521531100479 1)">15</text>
<line x1="535.9" y1="73.5" x2="538.5" y2="73.5" stroke="#1c1c1c" stroke-width="1"/>
<text font-size="7.21" text-anchor="end" stroke="#1c1c1c" stroke-width="0.13" transform="translate(535.1 75.64) scale(0.8899521531100479 1)">20</text>
<line x1="535.9" y1="58.5" x2="538.5" y2="58.5" stroke="#1c1c1c" stroke-width="1"/>
<text font-size="7.21" text-anchor="end" stroke="#1c1c1c" stroke-width="0.13" transform="translate(535.1 60.72) scale(0.8899521531100479 1)">25</text>
<line x1="538.5" y1="132.5" x2="545.5" y2="132.5" stroke="#1c1c1c" stroke-width="1"/>
<line x1="547.5" y1="132.5" x2="591.3" y2="132.5" stroke="#1c1c1c" stroke-width="1"/>
<line x1="538.5" y1="132.9" x2="538.5" y2="135.1" stroke="#1c1c1c" stroke-width="1"/>
<text font-size="7.21" text-anchor="middle" stroke="#1c1c1c" stroke-width="0.13" transform="translate(538.7 144.1) scale(0.8899521531100479 1)">0</text>
<line x1="543.5" y1="132.9" x2="543.5" y2="135.1" stroke="#1c1c1c" stroke-width="1"/>
<text font-size="7.21" text-anchor="middle" stroke="#1c1c1c" stroke-width="0.13" transform="translate(543.5 144.1) scale(0.8899521531100479 1)">8</text>
<line x1="552.5" y1="132.9" x2="552.5" y2="135.1" stroke="#1c1c1c" stroke-width="1"/>
<text font-size="7.21" text-anchor="middle" stroke="#1c1c1c" stroke-width="0.13" transform="translate(552.7 144.1) scale(0.8899521531100479 1)">12</text>
<line x1="565.5" y1="132.9" x2="565.5" y2="135.1" stroke="#1c1c1c" stroke-width="1"/>
<text font-size="7.21" text-anchor="middle" stroke="#1c1c1c" stroke-width="0.13" transform="translate(565.5 144.1) scale(0.8899521531100479 1)">16</text>
<line x1="578.5" y1="132.9" x2="578.5" y2="135.1" stroke="#1c1c1c" stroke-width="1"/>
<text font-size="7.21" text-anchor="middle" stroke="#1c1c1c" stroke-width="0.13" transform="translate(578.3 144.1) scale(0.8899521531100479 1)">20</text>
<line x1="591.5" y1="132.9" x2="591.5" y2="135.1" stroke="#1c1c1c" stroke-width="1"/>
<text font-size="7.21" text-anchor="middle" stroke="#1c1c1c" stroke-width="0.13" transform="translate(591.1 144.1) scale(0.8899521531100479 1)">24</text>
<text font-size="8.99" text-anchor="middle" stroke="#1c1c1c" stroke-width="0.13" transform="translate(565 154.6) scale(0.8899521531100479 1)">Time (weeks)</text>
<text font-size="8.99" text-anchor="middle" stroke="#1c1c1c" stroke-width="0.13" transform="translate(525.78 95) rotate(-90) scale(0.8899521531100479 1)"># of tumors / mouse</text>
<circle cx="539.5" cy="132.9" r="1.2" fill="#1c1c1c"/>
<circle cx="541.5" cy="132.9" r="1.2" fill="#1c1c1c"/>
<circle cx="543.5" cy="132.9" r="1.2" fill="#1c1c1c"/>
<line x1="539" y1="132.5" x2="545" y2="132.5" stroke="#1c1c1c" stroke-width="1.2"/>
<line x1="546.5" y1="132.9" x2="546.5" y2="132.6" stroke="#1c1c1c" stroke-width="0.8"/>
<line x1="545.2" y1="132.5" x2="547.4" y2="132.5" stroke="#1c1c1c" stroke-width="0.8"/>
<line x1="545.2" y1="132.5" x2="547.4" y2="132.5" stroke="#1c1c1c" stroke-width="0.8"/>
<line x1="549.5" y1="132.9" x2="549.5" y2="132" stroke="#1c1c1c" stroke-width="0.8"/>
<line x1="548.4" y1="132.5" x2="550.6" y2="132.5" stroke="#1c1c1c" stroke-width="0.8"/>
<line x1="548.4" y1="132.5" x2="550.6" y2="132.5" stroke="#1c1c1c" stroke-width="0.8"/>
<line x1="552.5" y1="132.9" x2="552.5" y2="131.41" stroke="#1c1c1c" stroke-width="0.8"/>
<line x1="551.6" y1="131.5" x2="553.8" y2="131.5" stroke="#1c1c1c" stroke-width="0.8"/>
<line x1="551.6" y1="132.5" x2="553.8" y2="132.5" stroke="#1c1c1c" stroke-width="0.8"/>
<line x1="555.5" y1="132.9" x2="555.5" y2="130.81" stroke="#1c1c1c" stroke-width="0.8"/>
<line x1="554.8" y1="130.5" x2="557" y2="130.5" stroke="#1c1c1c" stroke-width="0.8"/>
<line x1="554.8" y1="132.5" x2="557" y2="132.5" stroke="#1c1c1c" stroke-width="0.8"/>
<line x1="559.5" y1="132.9" x2="559.5" y2="130.21" stroke="#1c1c1c" stroke-width="0.8"/>
<line x1="558" y1="130.5" x2="560.2" y2="130.5" stroke="#1c1c1c" stroke-width="0.8"/>
<line x1="558" y1="132.5" x2="560.2" y2="132.5" stroke="#1c1c1c" stroke-width="0.8"/>
<line x1="562.5" y1="132.9" x2="562.5" y2="129.32" stroke="#1c1c1c" stroke-width="0.8"/>
<line x1="561.2" y1="129.5" x2="563.4" y2="129.5" stroke="#1c1c1c" stroke-width="0.8"/>
<line x1="561.2" y1="132.5" x2="563.4" y2="132.5" stroke="#1c1c1c" stroke-width="0.8"/>
<line x1="565.5" y1="132.9" x2="565.5" y2="128.13" stroke="#1c1c1c" stroke-width="0.8"/>
<line x1="564.4" y1="128.5" x2="566.6" y2="128.5" stroke="#1c1c1c" stroke-width="0.8"/>
<line x1="564.4" y1="132.5" x2="566.6" y2="132.5" stroke="#1c1c1c" stroke-width="0.8"/>
<line x1="568.5" y1="132.9" x2="568.5" y2="126.93" stroke="#1c1c1c" stroke-width="0.8"/>
<line x1="567.6" y1="126.5" x2="569.8" y2="126.5" stroke="#1c1c1c" stroke-width="0.8"/>
<line x1="567.6" y1="132.5" x2="569.8" y2="132.5" stroke="#1c1c1c" stroke-width="0.8"/>
<line x1="571.5" y1="132.3" x2="571.5" y2="125.14" stroke="#1c1c1c" stroke-width="0.8"/>
<line x1="570.8" y1="125.5" x2="573" y2="125.5" stroke="#1c1c1c" stroke-width="0.8"/>
<line x1="570.8" y1="132.5" x2="573" y2="132.5" stroke="#1c1c1c" stroke-width="0.8"/>
<line x1="575.5" y1="131.41" x2="575.5" y2="123.05" stroke="#1c1c1c" stroke-width="0.8"/>
<line x1="574" y1="123.5" x2="576.2" y2="123.5" stroke="#1c1c1c" stroke-width="0.8"/>
<line x1="574" y1="131.5" x2="576.2" y2="131.5" stroke="#1c1c1c" stroke-width="0.8"/>
<line x1="578.5" y1="129.92" x2="578.5" y2="120.37" stroke="#1c1c1c" stroke-width="0.8"/>
<line x1="577.2" y1="120.5" x2="579.4" y2="120.5" stroke="#1c1c1c" stroke-width="0.8"/>
<line x1="577.2" y1="129.5" x2="579.4" y2="129.5" stroke="#1c1c1c" stroke-width="0.8"/>
<line x1="581.5" y1="128.13" x2="581.5" y2="117.38" stroke="#1c1c1c" stroke-width="0.8"/>
<line x1="580.4" y1="117.5" x2="582.6" y2="117.5" stroke="#1c1c1c" stroke-width="0.8"/>
<line x1="580.4" y1="128.5" x2="582.6" y2="128.5" stroke="#1c1c1c" stroke-width="0.8"/>
<line x1="584.5" y1="124.54" x2="584.5" y2="112.01" stroke="#1c1c1c" stroke-width="0.8"/>
<line x1="583.6" y1="112.5" x2="585.8" y2="112.5" stroke="#1c1c1c" stroke-width="0.8"/>
<line x1="583.6" y1="124.5" x2="585.8" y2="124.5" stroke="#1c1c1c" stroke-width="0.8"/>
<polyline points="546.3,132.9 549.5,132.6 552.7,132.3 555.9,132 559.1,131.71 562.3,131.11 565.5,130.51 568.7,129.92 571.9,128.72 575.1,127.23 578.3,125.14 581.5,122.75 584.7,118.28" fill="none" stroke="#1c1c1c" stroke-width="1.1" stroke-linejoin="round"/>
<circle cx="546.3" cy="132.9" r="1.2" fill="#1c1c1c"/>
<circle cx="549.5" cy="132.6" r="1.2" fill="#1c1c1c"/>
<circle cx="552.7" cy="132.3" r="1.2" fill="#1c1c1c"/>
<circle cx="555.9" cy="132" r="1.2" fill="#1c1c1c"/>
<circle cx="559.1" cy="131.71" r="1.2" fill="#1c1c1c"/>
<circle cx="562.3" cy="131.11" r="1.2" fill="#1c1c1c"/>
<circle cx="565.5" cy="130.51" r="1.2" fill="#1c1c1c"/>
<circle cx="568.7" cy="129.92" r="1.2" fill="#1c1c1c"/>
<circle cx="571.9" cy="128.72" r="1.2" fill="#1c1c1c"/>
<circle cx="575.1" cy="127.23" r="1.2" fill="#1c1c1c"/>
<circle cx="578.3" cy="125.14" r="1.2" fill="#1c1c1c"/>
<circle cx="581.5" cy="122.75" r="1.2" fill="#1c1c1c"/>
<circle cx="584.7" cy="118.28" r="1.2" fill="#1c1c1c"/>
<line x1="546.5" y1="132.9" x2="546.5" y2="131.41" stroke="#f03a3a" stroke-width="0.8"/>
<line x1="545.2" y1="131.5" x2="547.4" y2="131.5" stroke="#f03a3a" stroke-width="0.8"/>
<line x1="545.2" y1="132.5" x2="547.4" y2="132.5" stroke="#f03a3a" stroke-width="0.8"/>
<line x1="549.5" y1="132.9" x2="549.5" y2="130.81" stroke="#f03a3a" stroke-width="0.8"/>
<line x1="548.4" y1="130.5" x2="550.6" y2="130.5" stroke="#f03a3a" stroke-width="0.8"/>
<line x1="548.4" y1="132.5" x2="550.6" y2="132.5" stroke="#f03a3a" stroke-width="0.8"/>
<line x1="552.5" y1="132.9" x2="552.5" y2="129.62" stroke="#f03a3a" stroke-width="0.8"/>
<line x1="551.6" y1="129.5" x2="553.8" y2="129.5" stroke="#f03a3a" stroke-width="0.8"/>
<line x1="551.6" y1="132.5" x2="553.8" y2="132.5" stroke="#f03a3a" stroke-width="0.8"/>
<line x1="555.5" y1="132.9" x2="555.5" y2="128.13" stroke="#f03a3a" stroke-width="0.8"/>
<line x1="554.8" y1="128.5" x2="557" y2="128.5" stroke="#f03a3a" stroke-width="0.8"/>
<line x1="554.8" y1="132.5" x2="557" y2="132.5" stroke="#f03a3a" stroke-width="0.8"/>
<line x1="559.5" y1="132.6" x2="559.5" y2="126.63" stroke="#f03a3a" stroke-width="0.8"/>
<line x1="558" y1="126.5" x2="560.2" y2="126.5" stroke="#f03a3a" stroke-width="0.8"/>
<line x1="558" y1="132.5" x2="560.2" y2="132.5" stroke="#f03a3a" stroke-width="0.8"/>
<line x1="562.5" y1="132.3" x2="562.5" y2="124.54" stroke="#f03a3a" stroke-width="0.8"/>
<line x1="561.2" y1="124.5" x2="563.4" y2="124.5" stroke="#f03a3a" stroke-width="0.8"/>
<line x1="561.2" y1="132.5" x2="563.4" y2="132.5" stroke="#f03a3a" stroke-width="0.8"/>
<line x1="565.5" y1="131.41" x2="565.5" y2="122.46" stroke="#f03a3a" stroke-width="0.8"/>
<line x1="564.4" y1="122.5" x2="566.6" y2="122.5" stroke="#f03a3a" stroke-width="0.8"/>
<line x1="564.4" y1="131.5" x2="566.6" y2="131.5" stroke="#f03a3a" stroke-width="0.8"/>
<line x1="568.5" y1="130.51" x2="568.5" y2="118.58" stroke="#f03a3a" stroke-width="0.8"/>
<line x1="567.6" y1="118.5" x2="569.8" y2="118.5" stroke="#f03a3a" stroke-width="0.8"/>
<line x1="567.6" y1="130.5" x2="569.8" y2="130.5" stroke="#f03a3a" stroke-width="0.8"/>
<line x1="571.5" y1="123.65" x2="571.5" y2="106.94" stroke="#f03a3a" stroke-width="0.8"/>
<line x1="570.8" y1="106.5" x2="573" y2="106.5" stroke="#f03a3a" stroke-width="0.8"/>
<line x1="570.8" y1="123.5" x2="573" y2="123.5" stroke="#f03a3a" stroke-width="0.8"/>
<line x1="575.5" y1="119.17" x2="575.5" y2="95.9" stroke="#f03a3a" stroke-width="0.8"/>
<line x1="574" y1="95.5" x2="576.2" y2="95.5" stroke="#f03a3a" stroke-width="0.8"/>
<line x1="574" y1="119.5" x2="576.2" y2="119.5" stroke="#f03a3a" stroke-width="0.8"/>
<line x1="578.5" y1="112.31" x2="578.5" y2="92.02" stroke="#f03a3a" stroke-width="0.8"/>
<line x1="577.2" y1="92.5" x2="579.4" y2="92.5" stroke="#f03a3a" stroke-width="0.8"/>
<line x1="577.2" y1="112.5" x2="579.4" y2="112.5" stroke="#f03a3a" stroke-width="0.8"/>
<line x1="581.5" y1="108.13" x2="581.5" y2="83.07" stroke="#f03a3a" stroke-width="0.8"/>
<line x1="580.4" y1="83.5" x2="582.6" y2="83.5" stroke="#f03a3a" stroke-width="0.8"/>
<line x1="580.4" y1="108.5" x2="582.6" y2="108.5" stroke="#f03a3a" stroke-width="0.8"/>
<line x1="584.5" y1="100.97" x2="584.5" y2="63.97" stroke="#f03a3a" stroke-width="0.8"/>
<line x1="583.6" y1="63.5" x2="585.8" y2="63.5" stroke="#f03a3a" stroke-width="0.8"/>
<line x1="583.6" y1="100.5" x2="585.8" y2="100.5" stroke="#f03a3a" stroke-width="0.8"/>
<polyline points="546.3,132.3 549.5,132 552.7,131.41 555.9,130.51 559.1,129.62 562.3,128.42 565.5,126.93 568.7,124.54 571.9,115.29 575.1,107.54 578.3,102.16 581.5,95.6 584.7,82.47" fill="none" stroke="#f03a3a" stroke-width="1.2" stroke-linejoin="round"/>
<circle cx="546.3" cy="132.3" r="1.2" fill="#f03a3a"/>
<circle cx="549.5" cy="132" r="1.2" fill="#f03a3a"/>
<circle cx="552.7" cy="131.41" r="1.2" fill="#f03a3a"/>
<circle cx="555.9" cy="130.51" r="1.2" fill="#f03a3a"/>
<circle cx="559.1" cy="129.62" r="1.2" fill="#f03a3a"/>
<circle cx="562.3" cy="128.42" r="1.2" fill="#f03a3a"/>
<circle cx="565.5" cy="126.93" r="1.2" fill="#f03a3a"/>
<circle cx="568.7" cy="124.54" r="1.2" fill="#f03a3a"/>
<circle cx="571.9" cy="115.29" r="1.2" fill="#f03a3a"/>
<circle cx="575.1" cy="107.54" r="1.2" fill="#f03a3a"/>
<circle cx="578.3" cy="102.16" r="1.2" fill="#f03a3a"/>
<circle cx="581.5" cy="95.6" r="1.2" fill="#f03a3a"/>
<circle cx="584.7" cy="82.47" r="1.2" fill="#f03a3a"/>
<text font-size="11.29" font-weight="bold" fill="#000" transform="translate(603.8 20.3) scale(0.9090909090909091 1)">G</text>
<text font-size="8.99" text-anchor="middle" stroke="#1c1c1c" stroke-width="0.13" transform="translate(640.5 34.7) scale(0.8899521531100479 1)">Female</text>
<line x1="617.5" y1="43.6" x2="627.7" y2="43.6" stroke="#1c1c1c" stroke-width="1.3"/>
<circle cx="622.6" cy="43.6" r="1.6" fill="#1c1c1c"/>
<line x1="617.5" y1="52.6" x2="627.7" y2="52.6" stroke="#f03a3a" stroke-width="1.3"/>
<circle cx="622.6" cy="52.6" r="1.6" fill="#f03a3a"/>
<text font-size="9.09" stroke="#1c1c1c" stroke-width="0.13" transform="translate(633.9 46.7) scale(0.8899521531100479 1)">WT</text>
<text font-size="9.09" stroke="#1c1c1c" stroke-width="0.13" transform="translate(633.9 55.7) scale(0.8899521531100479 1)">DF2 cKO</text>
<line x1="668.5" y1="37.4" x2="668.5" y2="53.5" stroke="#1c1c1c" stroke-width="1"/>
<circle cx="671.6" cy="44.2" r="0.9" fill="#1c1c1c"/>
<circle cx="671.6" cy="47.8" r="0.9" fill="#1c1c1c"/>
<line x1="623.5" y1="60.5" x2="623.5" y2="133.3" stroke="#1c1c1c" stroke-width="1"/>
<line x1="620.4" y1="133.5" x2="623" y2="133.5" stroke="#1c1c1c" stroke-width="1"/>
<text font-size="7.21" text-anchor="end" stroke="#1c1c1c" stroke-width="0.13" transform="translate(619.6 135.72) scale(0.8899521531100479 1)">0</text>
<line x1="620.4" y1="118.5" x2="623" y2="118.5" stroke="#1c1c1c" stroke-width="1"/>
<text font-size="7.21" text-anchor="end" stroke="#1c1c1c" stroke-width="0.13" transform="translate(619.6 121.16) scale(0.8899521531100479 1)">20</text>
<line x1="620.4" y1="104.5" x2="623" y2="104.5" stroke="#1c1c1c" stroke-width="1"/>
<text font-size="7.21" text-anchor="end" stroke="#1c1c1c" stroke-width="0.13" transform="translate(619.6 106.6) scale(0.8899521531100479 1)">40</text>
<line x1="620.4" y1="89.5" x2="623" y2="89.5" stroke="#1c1c1c" stroke-width="1"/>
<text font-size="7.21" text-anchor="end" stroke="#1c1c1c" stroke-width="0.13" transform="translate(619.6 92.04) scale(0.8899521531100479 1)">60</text>
<line x1="620.4" y1="75.5" x2="623" y2="75.5" stroke="#1c1c1c" stroke-width="1"/>
<text font-size="7.21" text-anchor="end" stroke="#1c1c1c" stroke-width="0.13" transform="translate(619.6 77.48) scale(0.8899521531100479 1)">80</text>
<line x1="620.4" y1="60.5" x2="623" y2="60.5" stroke="#1c1c1c" stroke-width="1"/>
<text font-size="7.21" text-anchor="end" stroke="#1c1c1c" stroke-width="0.13" transform="translate(619.6 62.92) scale(0.8899521531100479 1)">100</text>
<line x1="623" y1="133.5" x2="630.5" y2="133.5" stroke="#1c1c1c" stroke-width="1"/>
<line x1="636.2" y1="133.5" x2="671.3" y2="133.5" stroke="#1c1c1c" stroke-width="1"/>
<line x1="623.5" y1="133.3" x2="623.5" y2="135.5" stroke="#1c1c1c" stroke-width="1"/>
<text font-size="7.21" text-anchor="middle" stroke="#1c1c1c" stroke-width="0.13" transform="translate(623.7 144.3) scale(0.8899521531100479 1)">0</text>
<line x1="628.5" y1="133.3" x2="628.5" y2="135.5" stroke="#1c1c1c" stroke-width="1"/>
<text font-size="7.21" text-anchor="middle" stroke="#1c1c1c" stroke-width="0.13" transform="translate(628.5 144.3) scale(0.8899521531100479 1)">2</text>
<line x1="639.5" y1="133.3" x2="639.5" y2="135.5" stroke="#1c1c1c" stroke-width="1"/>
<text font-size="7.21" text-anchor="middle" stroke="#1c1c1c" stroke-width="0.13" transform="translate(639.5 144.3) scale(0.8899521531100479 1)">12</text>
<line x1="650.5" y1="133.3" x2="650.5" y2="135.5" stroke="#1c1c1c" stroke-width="1"/>
<text font-size="7.21" text-anchor="middle" stroke="#1c1c1c" stroke-width="0.13" transform="translate(650.4 144.3) scale(0.8899521531100479 1)">15</text>
<line x1="661.5" y1="133.3" x2="661.5" y2="135.5" stroke="#1c1c1c" stroke-width="1"/>
<text font-size="7.21" text-anchor="middle" stroke="#1c1c1c" stroke-width="0.13" transform="translate(661.4 144.3) scale(0.8899521531100479 1)">18</text>
<line x1="670.5" y1="133.3" x2="670.5" y2="135.5" stroke="#1c1c1c" stroke-width="1"/>
<text font-size="7.21" text-anchor="middle" stroke="#1c1c1c" stroke-width="0.13" transform="translate(670.6 144.3) scale(0.8899521531100479 1)">21</text>
<text font-size="8.99" text-anchor="middle" stroke="#1c1c1c" stroke-width="0.13" transform="translate(647.8 154.6) scale(0.8899521531100479 1)">Time (weeks)</text>
<text font-size="8.99" text-anchor="middle" stroke="#1c1c1c" stroke-width="0.13" transform="translate(609.18 97) rotate(-90) scale(0.8899521531100479 1)">Tumor free mice (%)</text>
<polyline points="636.2,60.5 647.8,60.5 647.8,68.51 651.5,68.51 651.5,84.52 654.8,84.52 654.8,101.27 662.8,101.27 662.8,109.28 665.1,109.28 665.1,125.29 668.4,125.29 668.4,133.3" fill="none" stroke="#1c1c1c" stroke-width="1.1" stroke-linejoin="round"/>
<circle cx="647.8" cy="68.51" r="1.3" fill="#1c1c1c"/>
<circle cx="651.5" cy="84.52" r="1.3" fill="#1c1c1c"/>
<circle cx="654.8" cy="101.27" r="1.3" fill="#1c1c1c"/>
<circle cx="662.8" cy="109.28" r="1.3" fill="#1c1c1c"/>
<circle cx="665.1" cy="125.29" r="1.3" fill="#1c1c1c"/>
<circle cx="668.4" cy="133.3" r="1.3" fill="#1c1c1c"/>
<polyline points="636.2,60.5 638.4,60.5 638.4,68.51 641.7,68.51 641.7,84.52 644.8,84.52 644.8,109.28 648,109.28 648,117.28 654.8,117.28 654.8,133.3" fill="none" stroke="#f03a3a" stroke-width="1.1" stroke-linejoin="round"/>
<circle cx="638.4" cy="68.51" r="1.3" fill="#f03a3a"/>
<circle cx="641.7" cy="84.52" r="1.3" fill="#f03a3a"/>
<circle cx="644.8" cy="109.28" r="1.3" fill="#f03a3a"/>
<circle cx="648" cy="117.28" r="1.3" fill="#f03a3a"/>
<circle cx="654.8" cy="133.3" r="1.3" fill="#f03a3a"/>
<line x1="623.5" y1="60.5" x2="630.5" y2="60.5" stroke="#f03a3a" stroke-width="1.1"/>
<text font-size="7.63" font-style="italic" stroke="#1c1c1c" stroke-width="0.13" transform="translate(625.9 128.3) scale(0.8899521531100479 1)">p = 0.0039</text>
<text font-size="11.29" font-weight="bold" fill="#000" transform="translate(3.6 165.9) scale(0.9090909090909091 1)">H</text>
<text font-size="8.99" text-anchor="middle" stroke="#1c1c1c" stroke-width="0.13" transform="translate(41.3 178.1) scale(0.8899521531100479 1)">Male</text>
<line x1="5.1" y1="190.1" x2="15.8" y2="190.1" stroke="#1c1c1c" stroke-width="1.3"/>
<circle cx="10.45" cy="190.1" r="1.6" fill="#1c1c1c"/>
<line x1="5.1" y1="197.8" x2="15.8" y2="197.8" stroke="#f03a3a" stroke-width="1.3"/>
<circle cx="10.45" cy="197.8" r="1.6" fill="#f03a3a"/>
<text font-size="9.09" stroke="#1c1c1c" stroke-width="0.13" transform="translate(21.9 193.2) scale(0.8899521531100479 1)">WT</text>
<text font-size="9.09" stroke="#1c1c1c" stroke-width="0.13" transform="translate(21.9 200.9) scale(0.8899521531100479 1)">DF2 cKO</text>
<line x1="57.5" y1="188.3" x2="57.5" y2="200.3" stroke="#1c1c1c" stroke-width="1"/>
<text font-size="7.31" text-anchor="middle" stroke="#1c1c1c" stroke-width="0.13" transform="translate(65.11 196) rotate(-90) scale(0.8899521531100479 1)"><tspan font-style="italic">P</tspan> &lt; 0.0018</text>
<line x1="21.5" y1="204.1" x2="21.5" y2="278.2" stroke="#1c1c1c" stroke-width="1"/>
<line x1="19.2" y1="278.5" x2="21.8" y2="278.5" stroke="#1c1c1c" stroke-width="1"/>
<text font-size="7.21" text-anchor="end" stroke="#1c1c1c" stroke-width="0.13" transform="translate(18.4 280.62) scale(0.8899521531100479 1)">0</text>
<line x1="19.2" y1="259.5" x2="21.8" y2="259.5" stroke="#1c1c1c" stroke-width="1"/>
<text font-size="7.21" text-anchor="end" stroke="#1c1c1c" stroke-width="0.13" transform="translate(18.4 262.09) scale(0.8899521531100479 1)">5</text>
<line x1="19.2" y1="241.5" x2="21.8" y2="241.5" stroke="#1c1c1c" stroke-width="1"/>
<text font-size="7.21" text-anchor="end" stroke="#1c1c1c" stroke-width="0.13" transform="translate(18.4 243.56) scale(0.8899521531100479 1)">10</text>
<line x1="19.2" y1="222.5" x2="21.8" y2="222.5" stroke="#1c1c1c" stroke-width="1"/>
<text font-size="7.21" text-anchor="end" stroke="#1c1c1c" stroke-width="0.13" transform="translate(18.4 225.04) scale(0.8899521531100479 1)">15</text>
<line x1="19.2" y1="204.5" x2="21.8" y2="204.5" stroke="#1c1c1c" stroke-width="1"/>
<text font-size="7.21" text-anchor="end" stroke="#1c1c1c" stroke-width="0.13" transform="translate(18.4 206.51) scale(0.8899521531100479 1)">20</text>
<line x1="21.8" y1="278.5" x2="28.6" y2="278.5" stroke="#1c1c1c" stroke-width="1"/>
<line x1="31" y1="278.5" x2="72" y2="278.5" stroke="#1c1c1c" stroke-width="1"/>
<line x1="22.5" y1="278.2" x2="22.5" y2="280.8" stroke="#1c1c1c" stroke-width="1"/>
<text font-size="7.21" text-anchor="middle" stroke="#1c1c1c" stroke-width="0.13" transform="translate(22 289.4) scale(0.8899521531100479 1)">0</text>
<line x1="27.5" y1="278.2" x2="27.5" y2="280.8" stroke="#1c1c1c" stroke-width="1"/>
<text font-size="7.21" text-anchor="middle" stroke="#1c1c1c" stroke-width="0.13" transform="translate(27.1 289.4) scale(0.8899521531100479 1)">8</text>
<line x1="35.5" y1="278.2" x2="35.5" y2="280.8" stroke="#1c1c1c" stroke-width="1"/>
<text font-size="7.21" text-anchor="middle" stroke="#1c1c1c" stroke-width="0.13" transform="translate(35.6 289.4) scale(0.8899521531100479 1)">12</text>
<line x1="47.5" y1="278.2" x2="47.5" y2="280.8" stroke="#1c1c1c" stroke-width="1"/>
<text font-size="7.21" text-anchor="middle" stroke="#1c1c1c" stroke-width="0.13" transform="translate(47.7 289.4) scale(0.8899521531100479 1)">16</text>
<line x1="59.5" y1="278.2" x2="59.5" y2="280.8" stroke="#1c1c1c" stroke-width="1"/>
<text font-size="7.21" text-anchor="middle" stroke="#1c1c1c" stroke-width="0.13" transform="translate(59.8 289.4) scale(0.8899521531100479 1)">20</text>
<line x1="71.5" y1="278.2" x2="71.5" y2="280.8" stroke="#1c1c1c" stroke-width="1"/>
<text font-size="7.21" text-anchor="middle" stroke="#1c1c1c" stroke-width="0.13" transform="translate(71.8 289.4) scale(0.8899521531100479 1)">24</text>
<text font-size="8.99" text-anchor="middle" stroke="#1c1c1c" stroke-width="0.13" transform="translate(46.3 300.3) scale(0.8899521531100479 1)">Time (weeks)</text>
<text font-size="8.99" text-anchor="middle" stroke="#1c1c1c" stroke-width="0.13" transform="translate(9.98 241) rotate(-90) scale(0.8899521531100479 1)"># of tumors / mouse</text>
<circle cx="23" cy="278.2" r="1.2" fill="#1c1c1c"/>
<circle cx="25" cy="278.2" r="1.2" fill="#1c1c1c"/>
<circle cx="27.1" cy="278.2" r="1.2" fill="#1c1c1c"/>
<line x1="22" y1="278.5" x2="28.5" y2="278.5" stroke="#1c1c1c" stroke-width="1.2"/>
<line x1="29.5" y1="278.2" x2="29.5" y2="277.83" stroke="#1c1c1c" stroke-width="0.8"/>
<line x1="28.46" y1="277.5" x2="30.66" y2="277.5" stroke="#1c1c1c" stroke-width="0.8"/>
<line x1="28.46" y1="278.5" x2="30.66" y2="278.5" stroke="#1c1c1c" stroke-width="0.8"/>
<line x1="32.5" y1="278.2" x2="32.5" y2="277.09" stroke="#1c1c1c" stroke-width="0.8"/>
<line x1="31.48" y1="277.5" x2="33.68" y2="277.5" stroke="#1c1c1c" stroke-width="0.8"/>
<line x1="31.48" y1="278.5" x2="33.68" y2="278.5" stroke="#1c1c1c" stroke-width="0.8"/>
<line x1="35.5" y1="278.2" x2="35.5" y2="276.35" stroke="#1c1c1c" stroke-width="0.8"/>
<line x1="34.5" y1="276.5" x2="36.7" y2="276.5" stroke="#1c1c1c" stroke-width="0.8"/>
<line x1="34.5" y1="278.5" x2="36.7" y2="278.5" stroke="#1c1c1c" stroke-width="0.8"/>
<line x1="38.5" y1="278.2" x2="38.5" y2="275.61" stroke="#1c1c1c" stroke-width="0.8"/>
<line x1="37.52" y1="275.5" x2="39.72" y2="275.5" stroke="#1c1c1c" stroke-width="0.8"/>
<line x1="37.52" y1="278.5" x2="39.72" y2="278.5" stroke="#1c1c1c" stroke-width="0.8"/>
<line x1="41.5" y1="278.2" x2="41.5" y2="274.5" stroke="#1c1c1c" stroke-width="0.8"/>
<line x1="40.54" y1="274.5" x2="42.74" y2="274.5" stroke="#1c1c1c" stroke-width="0.8"/>
<line x1="40.54" y1="278.5" x2="42.74" y2="278.5" stroke="#1c1c1c" stroke-width="0.8"/>
<line x1="44.5" y1="278.2" x2="44.5" y2="273.01" stroke="#1c1c1c" stroke-width="0.8"/>
<line x1="43.56" y1="273.5" x2="45.76" y2="273.5" stroke="#1c1c1c" stroke-width="0.8"/>
<line x1="43.56" y1="278.5" x2="45.76" y2="278.5" stroke="#1c1c1c" stroke-width="0.8"/>
<line x1="47.5" y1="277.83" x2="47.5" y2="271.16" stroke="#1c1c1c" stroke-width="0.8"/>
<line x1="46.58" y1="271.5" x2="48.78" y2="271.5" stroke="#1c1c1c" stroke-width="0.8"/>
<line x1="46.58" y1="277.5" x2="48.78" y2="277.5" stroke="#1c1c1c" stroke-width="0.8"/>
<line x1="50.5" y1="276.72" x2="50.5" y2="267.83" stroke="#1c1c1c" stroke-width="0.8"/>
<line x1="49.6" y1="267.5" x2="51.8" y2="267.5" stroke="#1c1c1c" stroke-width="0.8"/>
<line x1="49.6" y1="276.5" x2="51.8" y2="276.5" stroke="#1c1c1c" stroke-width="0.8"/>
<line x1="53.5" y1="274.87" x2="53.5" y2="263.01" stroke="#1c1c1c" stroke-width="0.8"/>
<line x1="52.62" y1="263.5" x2="54.82" y2="263.5" stroke="#1c1c1c" stroke-width="0.8"/>
<line x1="52.62" y1="274.5" x2="54.82" y2="274.5" stroke="#1c1c1c" stroke-width="0.8"/>
<line x1="56.5" y1="273.75" x2="56.5" y2="258.93" stroke="#1c1c1c" stroke-width="0.8"/>
<line x1="55.64" y1="258.5" x2="57.84" y2="258.5" stroke="#1c1c1c" stroke-width="0.8"/>
<line x1="55.64" y1="273.5" x2="57.84" y2="273.5" stroke="#1c1c1c" stroke-width="0.8"/>
<line x1="59.5" y1="271.9" x2="59.5" y2="254.86" stroke="#1c1c1c" stroke-width="0.8"/>
<line x1="58.66" y1="254.5" x2="60.86" y2="254.5" stroke="#1c1c1c" stroke-width="0.8"/>
<line x1="58.66" y1="271.5" x2="60.86" y2="271.5" stroke="#1c1c1c" stroke-width="0.8"/>
<line x1="62.5" y1="269.68" x2="62.5" y2="251.15" stroke="#1c1c1c" stroke-width="0.8"/>
<line x1="61.68" y1="251.5" x2="63.88" y2="251.5" stroke="#1c1c1c" stroke-width="0.8"/>
<line x1="61.68" y1="269.5" x2="63.88" y2="269.5" stroke="#1c1c1c" stroke-width="0.8"/>
<line x1="65.5" y1="268.2" x2="65.5" y2="248.19" stroke="#1c1c1c" stroke-width="0.8"/>
<line x1="64.7" y1="248.5" x2="66.9" y2="248.5" stroke="#1c1c1c" stroke-width="0.8"/>
<line x1="64.7" y1="268.5" x2="66.9" y2="268.5" stroke="#1c1c1c" stroke-width="0.8"/>
<polyline points="29.56,278.2 32.58,277.83 35.6,277.46 38.62,277.09 41.64,276.35 44.66,275.61 47.68,274.5 50.7,272.27 53.72,268.94 56.74,266.34 59.76,263.38 62.78,260.42 65.8,258.19" fill="none" stroke="#1c1c1c" stroke-width="1.1" stroke-linejoin="round"/>
<circle cx="29.56" cy="278.2" r="1.2" fill="#1c1c1c"/>
<circle cx="32.58" cy="277.83" r="1.2" fill="#1c1c1c"/>
<circle cx="35.6" cy="277.46" r="1.2" fill="#1c1c1c"/>
<circle cx="38.62" cy="277.09" r="1.2" fill="#1c1c1c"/>
<circle cx="41.64" cy="276.35" r="1.2" fill="#1c1c1c"/>
<circle cx="44.66" cy="275.61" r="1.2" fill="#1c1c1c"/>
<circle cx="47.68" cy="274.5" r="1.2" fill="#1c1c1c"/>
<circle cx="50.7" cy="272.27" r="1.2" fill="#1c1c1c"/>
<circle cx="53.72" cy="268.94" r="1.2" fill="#1c1c1c"/>
<circle cx="56.74" cy="266.34" r="1.2" fill="#1c1c1c"/>
<circle cx="59.76" cy="263.38" r="1.2" fill="#1c1c1c"/>
<circle cx="62.78" cy="260.42" r="1.2" fill="#1c1c1c"/>
<circle cx="65.8" cy="258.19" r="1.2" fill="#1c1c1c"/>
<line x1="29.5" y1="278.2" x2="29.5" y2="277.09" stroke="#f03a3a" stroke-width="0.8"/>
<line x1="28.46" y1="277.5" x2="30.66" y2="277.5" stroke="#f03a3a" stroke-width="0.8"/>
<line x1="28.46" y1="278.5" x2="30.66" y2="278.5" stroke="#f03a3a" stroke-width="0.8"/>
<line x1="32.5" y1="278.2" x2="32.5" y2="276.35" stroke="#f03a3a" stroke-width="0.8"/>
<line x1="31.48" y1="276.5" x2="33.68" y2="276.5" stroke="#f03a3a" stroke-width="0.8"/>
<line x1="31.48" y1="278.5" x2="33.68" y2="278.5" stroke="#f03a3a" stroke-width="0.8"/>
<line x1="35.5" y1="278.2" x2="35.5" y2="275.24" stroke="#f03a3a" stroke-width="0.8"/>
<line x1="34.5" y1="275.5" x2="36.7" y2="275.5" stroke="#f03a3a" stroke-width="0.8"/>
<line x1="34.5" y1="278.5" x2="36.7" y2="278.5" stroke="#f03a3a" stroke-width="0.8"/>
<line x1="38.5" y1="277.83" x2="38.5" y2="274.12" stroke="#f03a3a" stroke-width="0.8"/>
<line x1="37.52" y1="274.5" x2="39.72" y2="274.5" stroke="#f03a3a" stroke-width="0.8"/>
<line x1="37.52" y1="277.5" x2="39.72" y2="277.5" stroke="#f03a3a" stroke-width="0.8"/>
<line x1="41.5" y1="277.46" x2="41.5" y2="272.27" stroke="#f03a3a" stroke-width="0.8"/>
<line x1="40.54" y1="272.5" x2="42.74" y2="272.5" stroke="#f03a3a" stroke-width="0.8"/>
<line x1="40.54" y1="277.5" x2="42.74" y2="277.5" stroke="#f03a3a" stroke-width="0.8"/>
<line x1="44.5" y1="276.72" x2="44.5" y2="270.05" stroke="#f03a3a" stroke-width="0.8"/>
<line x1="43.56" y1="270.5" x2="45.76" y2="270.5" stroke="#f03a3a" stroke-width="0.8"/>
<line x1="43.56" y1="276.5" x2="45.76" y2="276.5" stroke="#f03a3a" stroke-width="0.8"/>
<line x1="47.5" y1="275.61" x2="47.5" y2="266.71" stroke="#f03a3a" stroke-width="0.8"/>
<line x1="46.58" y1="266.5" x2="48.78" y2="266.5" stroke="#f03a3a" stroke-width="0.8"/>
<line x1="46.58" y1="275.5" x2="48.78" y2="275.5" stroke="#f03a3a" stroke-width="0.8"/>
<line x1="50.5" y1="273.75" x2="50.5" y2="260.42" stroke="#f03a3a" stroke-width="0.8"/>
<line x1="49.6" y1="260.5" x2="51.8" y2="260.5" stroke="#f03a3a" stroke-width="0.8"/>
<line x1="49.6" y1="273.5" x2="51.8" y2="273.5" stroke="#f03a3a" stroke-width="0.8"/>
<line x1="53.5" y1="268.57" x2="53.5" y2="250.78" stroke="#f03a3a" stroke-width="0.8"/>
<line x1="52.62" y1="250.5" x2="54.82" y2="250.5" stroke="#f03a3a" stroke-width="0.8"/>
<line x1="52.62" y1="268.5" x2="54.82" y2="268.5" stroke="#f03a3a" stroke-width="0.8"/>
<line x1="56.5" y1="265.23" x2="56.5" y2="243" stroke="#f03a3a" stroke-width="0.8"/>
<line x1="55.64" y1="243.5" x2="57.84" y2="243.5" stroke="#f03a3a" stroke-width="0.8"/>
<line x1="55.64" y1="265.5" x2="57.84" y2="265.5" stroke="#f03a3a" stroke-width="0.8"/>
<line x1="59.5" y1="259.68" x2="59.5" y2="233.74" stroke="#f03a3a" stroke-width="0.8"/>
<line x1="58.66" y1="233.5" x2="60.86" y2="233.5" stroke="#f03a3a" stroke-width="0.8"/>
<line x1="58.66" y1="259.5" x2="60.86" y2="259.5" stroke="#f03a3a" stroke-width="0.8"/>
<line x1="62.5" y1="254.49" x2="62.5" y2="227.81" stroke="#f03a3a" stroke-width="0.8"/>
<line x1="61.68" y1="227.5" x2="63.88" y2="227.5" stroke="#f03a3a" stroke-width="0.8"/>
<line x1="61.68" y1="254.5" x2="63.88" y2="254.5" stroke="#f03a3a" stroke-width="0.8"/>
<line x1="65.5" y1="248.93" x2="65.5" y2="214.84" stroke="#f03a3a" stroke-width="0.8"/>
<line x1="64.7" y1="214.5" x2="66.9" y2="214.5" stroke="#f03a3a" stroke-width="0.8"/>
<line x1="64.7" y1="248.5" x2="66.9" y2="248.5" stroke="#f03a3a" stroke-width="0.8"/>
<polyline points="29.56,277.83 32.58,277.46 35.6,276.72 38.62,275.98 41.64,274.87 44.66,273.38 47.68,271.16 50.7,267.08 53.72,259.68 56.74,254.12 59.76,246.71 62.78,241.15 65.8,231.89" fill="none" stroke="#f03a3a" stroke-width="1.2" stroke-linejoin="round"/>
<circle cx="29.56" cy="277.83" r="1.2" fill="#f03a3a"/>
<circle cx="32.58" cy="277.46" r="1.2" fill="#f03a3a"/>
<circle cx="35.6" cy="276.72" r="1.2" fill="#f03a3a"/>
<circle cx="38.62" cy="275.98" r="1.2" fill="#f03a3a"/>
<circle cx="41.64" cy="274.87" r="1.2" fill="#f03a3a"/>
<circle cx="44.66" cy="273.38" r="1.2" fill="#f03a3a"/>
<circle cx="47.68" cy="271.16" r="1.2" fill="#f03a3a"/>
<circle cx="50.7" cy="267.08" r="1.2" fill="#f03a3a"/>
<circle cx="53.72" cy="259.68" r="1.2" fill="#f03a3a"/>
<circle cx="56.74" cy="254.12" r="1.2" fill="#f03a3a"/>
<circle cx="59.76" cy="246.71" r="1.2" fill="#f03a3a"/>
<circle cx="62.78" cy="241.15" r="1.2" fill="#f03a3a"/>
<circle cx="65.8" cy="231.89" r="1.2" fill="#f03a3a"/>
<text font-size="11.29" font-weight="bold" fill="#000" transform="translate(92.3 165.6) scale(0.9090909090909091 1)">I</text>
<text font-size="8.99" text-anchor="middle" stroke="#1c1c1c" stroke-width="0.13" transform="translate(138.2 175.2) scale(0.8899521531100479 1)">Male</text>
<line x1="114.2" y1="182" x2="124.1" y2="182" stroke="#1c1c1c" stroke-width="1.3"/>
<circle cx="119.15" cy="182" r="1.6" fill="#1c1c1c"/>
<line x1="114.2" y1="192.2" x2="124.1" y2="192.2" stroke="#f03a3a" stroke-width="1.3"/>
<circle cx="119.15" cy="192.2" r="1.6" fill="#f03a3a"/>
<text font-size="9.09" stroke="#1c1c1c" stroke-width="0.13" transform="translate(130 185.1) scale(0.8899521531100479 1)">WT</text>
<text font-size="9.09" stroke="#1c1c1c" stroke-width="0.13" transform="translate(130 195.3) scale(0.8899521531100479 1)">DF2 cKO</text>
<line x1="165.5" y1="176.9" x2="165.5" y2="194.4" stroke="#1c1c1c" stroke-width="1"/>
<circle cx="168.3" cy="184.3" r="0.9" fill="#1c1c1c"/>
<line x1="120.5" y1="200.1" x2="120.5" y2="272.5" stroke="#1c1c1c" stroke-width="1"/>
<line x1="117.4" y1="272.5" x2="120" y2="272.5" stroke="#1c1c1c" stroke-width="1"/>
<text font-size="7.21" text-anchor="end" stroke="#1c1c1c" stroke-width="0.13" transform="translate(116.6 274.92) scale(0.8899521531100479 1)">0</text>
<line x1="117.4" y1="258.5" x2="120" y2="258.5" stroke="#1c1c1c" stroke-width="1"/>
<text font-size="7.21" text-anchor="end" stroke="#1c1c1c" stroke-width="0.13" transform="translate(116.6 260.44) scale(0.8899521531100479 1)">20</text>
<line x1="117.4" y1="243.5" x2="120" y2="243.5" stroke="#1c1c1c" stroke-width="1"/>
<text font-size="7.21" text-anchor="end" stroke="#1c1c1c" stroke-width="0.13" transform="translate(116.6 245.95) scale(0.8899521531100479 1)">40</text>
<line x1="117.4" y1="229.5" x2="120" y2="229.5" stroke="#1c1c1c" stroke-width="1"/>
<text font-size="7.21" text-anchor="end" stroke="#1c1c1c" stroke-width="0.13" transform="translate(116.6 231.47) scale(0.8899521531100479 1)">60</text>
<line x1="117.4" y1="214.5" x2="120" y2="214.5" stroke="#1c1c1c" stroke-width="1"/>
<text font-size="7.21" text-anchor="end" stroke="#1c1c1c" stroke-width="0.13" transform="translate(116.6 216.99) scale(0.8899521531100479 1)">80</text>
<line x1="117.4" y1="200.5" x2="120" y2="200.5" stroke="#1c1c1c" stroke-width="1"/>
<text font-size="7.21" text-anchor="end" stroke="#1c1c1c" stroke-width="0.13" transform="translate(116.6 202.52) scale(0.8899521531100479 1)">100</text>
<line x1="120" y1="272.5" x2="126.5" y2="272.5" stroke="#1c1c1c" stroke-width="1"/>
<line x1="133.3" y1="272.5" x2="168.5" y2="272.5" stroke="#1c1c1c" stroke-width="1"/>
<line x1="120.5" y1="272.5" x2="120.5" y2="275.1" stroke="#1c1c1c" stroke-width="1"/>
<text font-size="7.21" text-anchor="middle" stroke="#1c1c1c" stroke-width="0.13" transform="translate(120 283.3) scale(0.8899521531100479 1)">0</text>
<line x1="125.5" y1="272.5" x2="125.5" y2="275.1" stroke="#1c1c1c" stroke-width="1"/>
<text font-size="7.21" text-anchor="middle" stroke="#1c1c1c" stroke-width="0.13" transform="translate(125.2 283.3) scale(0.8899521531100479 1)">2</text>
<line x1="138.5" y1="272.5" x2="138.5" y2="275.1" stroke="#1c1c1c" stroke-width="1"/>
<text font-size="7.21" text-anchor="middle" stroke="#1c1c1c" stroke-width="0.13" transform="translate(138.3 283.3) scale(0.8899521531100479 1)">12</text>
<line x1="147.5" y1="272.5" x2="147.5" y2="275.1" stroke="#1c1c1c" stroke-width="1"/>
<text font-size="7.21" text-anchor="middle" stroke="#1c1c1c" stroke-width="0.13" transform="translate(147.5 283.3) scale(0.8899521531100479 1)">15</text>
<line x1="157.5" y1="272.5" x2="157.5" y2="275.1" stroke="#1c1c1c" stroke-width="1"/>
<text font-size="7.21" text-anchor="middle" stroke="#1c1c1c" stroke-width="0.13" transform="translate(157.4 283.3) scale(0.8899521531100479 1)">18</text>
<line x1="166.5" y1="272.5" x2="166.5" y2="275.1" stroke="#1c1c1c" stroke-width="1"/>
<text font-size="7.21" text-anchor="middle" stroke="#1c1c1c" stroke-width="0.13" transform="translate(166.8 283.3) scale(0.8899521531100479 1)">21</text>
<text font-size="8.99" text-anchor="middle" stroke="#1c1c1c" stroke-width="0.13" transform="translate(144.4 293.5) scale(0.8899521531100479 1)">Time (weeks)</text>
<text font-size="8.99" text-anchor="middle" stroke="#1c1c1c" stroke-width="0.13" transform="translate(103.68 236.3) rotate(-90) scale(0.8899521531100479 1)">Tumor free mice (%)</text>
<polyline points="133.3,200.1 145,200.1 145,218.2 148.2,218.2 148.2,226.89 151.7,226.89 151.7,236.3 154.7,236.3 154.7,254.4 165,254.4 165,272.5" fill="none" stroke="#1c1c1c" stroke-width="1.1" stroke-linejoin="round"/>
<circle cx="145" cy="218.2" r="1.3" fill="#1c1c1c"/>
<circle cx="148.2" cy="226.89" r="1.3" fill="#1c1c1c"/>
<circle cx="151.7" cy="236.3" r="1.3" fill="#1c1c1c"/>
<circle cx="154.7" cy="254.4" r="1.3" fill="#1c1c1c"/>
<circle cx="165" cy="272.5" r="1.3" fill="#1c1c1c"/>
<polyline points="133.3,200.1 138.3,200.1 138.3,216.03 141.3,216.03 141.3,239.92 144.8,239.92 144.8,256.57 154.7,256.57 154.7,272.5" fill="none" stroke="#f03a3a" stroke-width="1.1" stroke-linejoin="round"/>
<circle cx="138.3" cy="216.03" r="1.3" fill="#f03a3a"/>
<circle cx="141.3" cy="239.92" r="1.3" fill="#f03a3a"/>
<circle cx="144.8" cy="256.57" r="1.3" fill="#f03a3a"/>
<circle cx="154.7" cy="272.5" r="1.3" fill="#f03a3a"/>
<line x1="120.5" y1="200.5" x2="126.5" y2="200.5" stroke="#f03a3a" stroke-width="1.1"/>
<text font-size="7.63" font-style="italic" stroke="#1c1c1c" stroke-width="0.13" transform="translate(120.8 267) scale(0.8899521531100479 1)">p = 0.0347</text>
<text font-size="11.29" font-weight="bold" fill="#000" transform="translate(185.5 165.9) scale(0.9090909090909091 1)">J</text>
<text font-size="8.78" text-anchor="middle" stroke="#1c1c1c" stroke-width="0.13" transform="translate(231.6 191.8) scale(0.8899521531100479 1)">shNC</text>
<line x1="219" y1="193.6" x2="242.6" y2="193.6" stroke="#808080" stroke-width="1.3"/>
<text font-size="8.78" stroke="#1c1c1c" stroke-width="0.13" transform="translate(249.6 191.8) scale(0.8899521531100479 1)">shDF2-2</text>
<line x1="249" y1="193.6" x2="272.5" y2="193.6" stroke="#808080" stroke-width="1.3"/>
<text font-size="8.36" stroke="#1c1c1c" stroke-width="0.13" transform="translate(220.6 211.2) rotate(-42) scale(0.8899521531100479 1)">siNC</text>
<text font-size="8.36" stroke="#1c1c1c" stroke-width="0.13" transform="translate(234.8 211.2) rotate(-42) scale(0.8899521531100479 1)">siU6</text>
<text font-size="8.36" stroke="#1c1c1c" stroke-width="0.13" transform="translate(251.4 211.2) rotate(-42) scale(0.8899521531100479 1)">siNC</text>
<text font-size="8.36" stroke="#1c1c1c" stroke-width="0.13" transform="translate(265.2 211.2) rotate(-42) scale(0.8899521531100479 1)">siU6</text>
<rect x="214.5" y="212.2" width="61.8" height="13.7" fill="#c6c6c6"/>
<rect x="214.5" y="228.3" width="61.8" height="13.6" fill="#ededed"/>
<rect x="214.5" y="244.3" width="61.8" height="13.7" fill="#c4c4c4"/>
<g filter="url(#bl2)"><rect x="217.2" y="217.6" width="11.8" height="4.4" rx="2" fill="#0a0a0a"/><rect x="231.7" y="217.4" width="12.5" height="4.8" rx="2" fill="#080808"/></g><g filter="url(#bl)"><ellipse cx="253" cy="219.8" rx="5.6" ry="1.7" fill="#6e6e6e"/><ellipse cx="267.8" cy="219.4" rx="5.8" ry="1.9" fill="#606060"/></g><g filter="url(#bl2)"></g><defs><linearGradient id="cg" x1="0" y1="0" x2="0" y2="1"><stop offset="0" stop-color="#8a8a8a"/><stop offset="0.55" stop-color="#2a2a2a"/><stop offset="1" stop-color="#151515"/></linearGradient></defs><g filter="url(#bl)"><rect x="247.4" y="229.6" width="11.6" height="9" rx="2.5" fill="url(#cg)"/></g><g filter="url(#bl2)"><rect x="236" y="229" width="8" height="2" rx="1" fill="#cfcfcf"/><rect x="264" y="236" width="7" height="2" rx="1" fill="#d6d6d6"/><rect x="216.5" y="249.4" width="13" height="2.8" rx="1.3" fill="#111"/><rect x="231.5" y="249.3" width="13" height="2.9" rx="1.3" fill="#111"/><rect x="246.5" y="249.3" width="13" height="2.9" rx="1.3" fill="#111"/><rect x="261.5" y="249.2" width="13" height="2.9" rx="1.3" fill="#111"/></g>
<text font-size="8.78" stroke="#1c1c1c" stroke-width="0.13" transform="translate(181.9 222.2) scale(0.8899521531100479 1)">YTHDF2</text>
<text font-size="8.78" stroke="#1c1c1c" stroke-width="0.13" transform="translate(188 237.8) scale(0.8899521531100479 1)">COX-2</text>
<text font-size="8.78" stroke="#1c1c1c" stroke-width="0.13" transform="translate(188.3 254.9) scale(0.8899521531100479 1)">&#946;-actin</text>
<line x1="276.9" y1="226.5" x2="278.6" y2="226.5" stroke="#1c1c1c" stroke-width="0.9"/>
<text font-size="8.57" stroke="#1c1c1c" stroke-width="0.13" transform="translate(280 229.8) scale(0.8899521531100479 1)">50</text>
<circle cx="277.6" cy="240.6" r="0.5" fill="#1c1c1c"/>
<text font-size="8.57" stroke="#1c1c1c" stroke-width="0.13" transform="translate(280 245.3) scale(0.8899521531100479 1)">50</text>
<line x1="276.9" y1="256.5" x2="278.6" y2="256.5" stroke="#1c1c1c" stroke-width="0.9"/>
<text font-size="8.57" stroke="#1c1c1c" stroke-width="0.13" transform="translate(280 259.8) scale(0.8899521531100479 1)">37</text>
<text font-size="8.88" stroke="#1c1c1c" stroke-width="0.13" transform="translate(232.2 270.4) scale(0.8899521531100479 1)">A431</text>
<text font-size="8.88" stroke="#1c1c1c" stroke-width="0.13" transform="translate(267.5 270.2) scale(0.8899521531100479 1)"><tspan font-style="italic">M</tspan><tspan font-size="5.8" font-style="italic" dy="1.6">r</tspan><tspan dy="-1.6"> (K)</tspan></text>
<text font-size="11.29" font-weight="bold" fill="#000" transform="translate(303.5 165.7) scale(0.9090909090909091 1)">K</text>
<line x1="322.7" y1="170" x2="333.6" y2="170" stroke="#1c1c1c" stroke-width="1.3"/>
<circle cx="328.15" cy="170" r="1.2" fill="#1c1c1c"/>
<text font-size="7.63" stroke="#1c1c1c" stroke-width="0.13" transform="translate(339.1 172.6) scale(0.8899521531100479 1)">shNC_siNC</text>
<line x1="322.7" y1="178.5" x2="333.6" y2="178.5" stroke="#1c1c1c" stroke-width="1.3" stroke-dasharray="2.2 1.4"/>
<circle cx="328.15" cy="178.5" r="1.2" fill="#1c1c1c"/>
<text font-size="7.63" stroke="#1c1c1c" stroke-width="0.13" transform="translate(339.1 181.1) scale(0.8899521531100479 1)">shNC_siU6</text>
<line x1="322.7" y1="186.8" x2="333.6" y2="186.8" stroke="#f03a3a" stroke-width="1.3"/>
<circle cx="328.15" cy="186.8" r="1.2" fill="#f03a3a"/>
<text font-size="7.63" stroke="#1c1c1c" stroke-width="0.13" transform="translate(339.1 189.4) scale(0.8899521531100479 1)">shDF2-1+siNC</text>
<line x1="322.7" y1="194.6" x2="333.6" y2="194.6" stroke="#f03a3a" stroke-width="1.3" stroke-dasharray="2.2 1.4"/>
<circle cx="328.15" cy="194.6" r="1.2" fill="#f03a3a"/>
<text font-size="7.63" stroke="#1c1c1c" stroke-width="0.13" transform="translate(339.1 197.2) scale(0.8899521531100479 1)">shDF2-1+siU6</text>
<line x1="322.7" y1="203.2" x2="333.6" y2="203.2" stroke="#3a3af0" stroke-width="1.3"/>
<circle cx="328.15" cy="203.2" r="1.2" fill="#3a3af0"/>
<text font-size="7.63" stroke="#1c1c1c" stroke-width="0.13" transform="translate(339.1 205.8) scale(0.8899521531100479 1)">shDF2-2+siNC</text>
<line x1="322.7" y1="211.5" x2="333.6" y2="211.5" stroke="#3a3af0" stroke-width="1.3" stroke-dasharray="2.2 1.4"/>
<circle cx="328.15" cy="211.5" r="1.2" fill="#3a3af0"/>
<text font-size="7.63" stroke="#1c1c1c" stroke-width="0.13" transform="translate(339.1 214.1) scale(0.8899521531100479 1)">shDF2-2+siU6</text>
<line x1="375.5" y1="167.5" x2="375.5" y2="180.5" stroke="#1c1c1c" stroke-width="1"/>
<line x1="386.5" y1="183.6" x2="386.5" y2="197" stroke="#1c1c1c" stroke-width="1"/>
<line x1="386.5" y1="200.9" x2="386.5" y2="214.2" stroke="#1c1c1c" stroke-width="1"/>
<text font-size="7.52" text-anchor="middle" stroke="#1c1c1c" stroke-width="0.13" transform="translate(383.98 165.6) rotate(-90) scale(0.8899521531100479 1)"><tspan font-style="italic">P</tspan> = 0.001</text>
<text font-size="7.52" text-anchor="middle" stroke="#1c1c1c" stroke-width="0.13" transform="translate(395.18 181.3) rotate(-90) scale(0.8899521531100479 1)"><tspan font-style="italic">P</tspan> = 0.003</text>
<text font-size="7.52" text-anchor="middle" stroke="#1c1c1c" stroke-width="0.13" transform="translate(395.68 213.5) rotate(-90) scale(0.8899521531100479 1)"><tspan font-style="italic">P</tspan> &lt; 0.001</text>
<line x1="333.5" y1="216.9" x2="333.5" y2="303.6" stroke="#1c1c1c" stroke-width="1"/>
<line x1="330.7" y1="303.5" x2="333.3" y2="303.5" stroke="#1c1c1c" stroke-width="1"/>
<text font-size="7.21" text-anchor="end" stroke="#1c1c1c" stroke-width="0.13" transform="translate(329.9 306.02) scale(0.8899521531100479 1)">0</text>
<line x1="330.7" y1="286.5" x2="333.3" y2="286.5" stroke="#1c1c1c" stroke-width="1"/>
<text font-size="7.21" text-anchor="end" stroke="#1c1c1c" stroke-width="0.13" transform="translate(329.9 288.68) scale(0.8899521531100479 1)">2</text>
<line x1="330.7" y1="268.5" x2="333.3" y2="268.5" stroke="#1c1c1c" stroke-width="1"/>
<text font-size="7.21" text-anchor="end" stroke="#1c1c1c" stroke-width="0.13" transform="translate(329.9 271.34) scale(0.8899521531100479 1)">4</text>
<line x1="330.7" y1="251.5" x2="333.3" y2="251.5" stroke="#1c1c1c" stroke-width="1"/>
<text font-size="7.21" text-anchor="end" stroke="#1c1c1c" stroke-width="0.13" transform="translate(329.9 254) scale(0.8899521531100479 1)">6</text>
<line x1="330.7" y1="234.5" x2="333.3" y2="234.5" stroke="#1c1c1c" stroke-width="1"/>
<text font-size="7.21" text-anchor="end" stroke="#1c1c1c" stroke-width="0.13" transform="translate(329.9 236.66) scale(0.8899521531100479 1)">8</text>
<line x1="330.7" y1="216.5" x2="333.3" y2="216.5" stroke="#1c1c1c" stroke-width="1"/>
<text font-size="7.21" text-anchor="end" stroke="#1c1c1c" stroke-width="0.13" transform="translate(329.9 219.32) scale(0.8899521531100479 1)">10</text>
<line x1="333.3" y1="303.5" x2="412" y2="303.5" stroke="#1c1c1c" stroke-width="1"/>
<line x1="333.5" y1="303.6" x2="333.5" y2="306.2" stroke="#1c1c1c" stroke-width="1"/>
<text font-size="7.21" text-anchor="middle" stroke="#1c1c1c" stroke-width="0.13" transform="translate(333.3 313.57) scale(0.8899521531100479 1)">0</text>
<line x1="352.5" y1="303.6" x2="352.5" y2="306.2" stroke="#1c1c1c" stroke-width="1"/>
<text font-size="7.21" text-anchor="middle" stroke="#1c1c1c" stroke-width="0.13" transform="translate(352.96 313.57) scale(0.8899521531100479 1)">20</text>
<line x1="372.5" y1="303.6" x2="372.5" y2="306.2" stroke="#1c1c1c" stroke-width="1"/>
<text font-size="7.21" text-anchor="middle" stroke="#1c1c1c" stroke-width="0.13" transform="translate(372.62 313.57) scale(0.8899521531100479 1)">40</text>
<line x1="392.5" y1="303.6" x2="392.5" y2="306.2" stroke="#1c1c1c" stroke-width="1"/>
<text font-size="7.21" text-anchor="middle" stroke="#1c1c1c" stroke-width="0.13" transform="translate(392.28 313.57) scale(0.8899521531100479 1)">60</text>
<line x1="411.5" y1="303.6" x2="411.5" y2="306.2" stroke="#1c1c1c" stroke-width="1"/>
<text font-size="7.21" text-anchor="middle" stroke="#1c1c1c" stroke-width="0.13" transform="translate(411.94 313.57) scale(0.8899521531100479 1)">80</text>
<line x1="333.3" y1="304.8" x2="412" y2="304.8" stroke="#1c1c1c" stroke-width="1.1" stroke-dasharray="0.7 1.75"/>
<text font-size="8.99" text-anchor="middle" stroke="#1c1c1c" stroke-width="0.13" transform="translate(373 324.3) scale(0.8899521531100479 1)">Hours</text>
<text font-size="8.99" stroke="#1c1c1c" stroke-width="0.13" transform="translate(345.4 223.8) scale(0.8899521531100479 1)">A431</text>
<text font-size="8.99" text-anchor="middle" stroke="#1c1c1c" stroke-width="0.13" transform="translate(322.58 260) rotate(-90) scale(0.8899521531100479 1)">Cell Number (Fold)</text>
<line x1="404.5" y1="272.82" x2="404.5" y2="266.75" stroke="#3a3af0" stroke-width="0.6"/>
<line x1="402.88" y1="266.5" x2="405.28" y2="266.5" stroke="#3a3af0" stroke-width="0.6"/>
<line x1="402.88" y1="272.5" x2="405.28" y2="272.5" stroke="#3a3af0" stroke-width="0.6"/>
<polyline points="333.3,294.93 356.89,288.86 380.48,280.19 404.08,269.79" fill="none" stroke="#3a3af0" stroke-width="1.25" stroke-linejoin="round" stroke-dasharray="2.4 1.4"/>
<circle cx="333.3" cy="294.93" r="1.3" fill="#3a3af0"/>
<circle cx="356.89" cy="288.86" r="1.3" fill="#3a3af0"/>
<circle cx="380.48" cy="280.19" r="1.3" fill="#3a3af0"/>
<circle cx="404.08" cy="269.79" r="1.3" fill="#3a3af0"/>
<line x1="404.5" y1="264.59" x2="404.5" y2="259.38" stroke="#1c1c1c" stroke-width="0.6"/>
<line x1="402.88" y1="259.5" x2="405.28" y2="259.5" stroke="#1c1c1c" stroke-width="0.6"/>
<line x1="402.88" y1="264.5" x2="405.28" y2="264.5" stroke="#1c1c1c" stroke-width="0.6"/>
<polyline points="333.3,294.93 356.89,288.43 380.48,277.59 404.08,261.98" fill="none" stroke="#1c1c1c" stroke-width="1.25" stroke-linejoin="round" stroke-dasharray="2.4 1.4"/>
<circle cx="333.3" cy="294.93" r="1.3" fill="#1c1c1c"/>
<circle cx="356.89" cy="288.43" r="1.3" fill="#1c1c1c"/>
<circle cx="380.48" cy="277.59" r="1.3" fill="#1c1c1c"/>
<circle cx="404.08" cy="261.98" r="1.3" fill="#1c1c1c"/>
<line x1="404.5" y1="261.55" x2="404.5" y2="253.75" stroke="#f03a3a" stroke-width="0.6"/>
<line x1="402.88" y1="253.5" x2="405.28" y2="253.5" stroke="#f03a3a" stroke-width="0.6"/>
<line x1="402.88" y1="261.5" x2="405.28" y2="261.5" stroke="#f03a3a" stroke-width="0.6"/>
<polyline points="333.3,294.93 356.89,288.43 380.48,274.99 404.08,257.65" fill="none" stroke="#f03a3a" stroke-width="1.25" stroke-linejoin="round" stroke-dasharray="2.4 1.4"/>
<circle cx="333.3" cy="294.93" r="1.3" fill="#f03a3a"/>
<circle cx="356.89" cy="288.43" r="1.3" fill="#f03a3a"/>
<circle cx="380.48" cy="274.99" r="1.3" fill="#f03a3a"/>
<circle cx="404.08" cy="257.65" r="1.3" fill="#f03a3a"/>
<line x1="404.5" y1="258.52" x2="404.5" y2="253.31" stroke="#1c1c1c" stroke-width="0.6"/>
<line x1="402.88" y1="253.5" x2="405.28" y2="253.5" stroke="#1c1c1c" stroke-width="0.6"/>
<line x1="402.88" y1="258.5" x2="405.28" y2="258.5" stroke="#1c1c1c" stroke-width="0.6"/>
<polyline points="333.3,294.93 356.89,287.13 380.48,274.12 404.08,255.92" fill="none" stroke="#1c1c1c" stroke-width="1.3" stroke-linejoin="round"/>
<circle cx="333.3" cy="294.93" r="1.3" fill="#1c1c1c"/>
<circle cx="356.89" cy="287.13" r="1.3" fill="#1c1c1c"/>
<circle cx="380.48" cy="274.12" r="1.3" fill="#1c1c1c"/>
<circle cx="404.08" cy="255.92" r="1.3" fill="#1c1c1c"/>
<line x1="404.5" y1="239.44" x2="404.5" y2="235.97" stroke="#f03a3a" stroke-width="0.6"/>
<line x1="402.88" y1="235.5" x2="405.28" y2="235.5" stroke="#f03a3a" stroke-width="0.6"/>
<line x1="402.88" y1="239.5" x2="405.28" y2="239.5" stroke="#f03a3a" stroke-width="0.6"/>
<polyline points="333.3,294.93 356.89,281.06 380.48,262.85 404.08,237.71" fill="none" stroke="#f03a3a" stroke-width="1.3" stroke-linejoin="round"/>
<circle cx="333.3" cy="294.93" r="1.3" fill="#f03a3a"/>
<circle cx="356.89" cy="281.06" r="1.3" fill="#f03a3a"/>
<circle cx="380.48" cy="262.85" r="1.3" fill="#f03a3a"/>
<circle cx="404.08" cy="237.71" r="1.3" fill="#f03a3a"/>
<line x1="404.5" y1="231.64" x2="404.5" y2="228.17" stroke="#3a3af0" stroke-width="0.6"/>
<line x1="402.88" y1="228.5" x2="405.28" y2="228.5" stroke="#3a3af0" stroke-width="0.6"/>
<line x1="402.88" y1="231.5" x2="405.28" y2="231.5" stroke="#3a3af0" stroke-width="0.6"/>
<polyline points="333.3,294.93 356.89,278.46 380.48,260.25 404.08,229.91" fill="none" stroke="#3a3af0" stroke-width="1.3" stroke-linejoin="round"/>
<circle cx="333.3" cy="294.93" r="1.3" fill="#3a3af0"/>
<circle cx="356.89" cy="278.46" r="1.3" fill="#3a3af0"/>
<circle cx="380.48" cy="260.25" r="1.3" fill="#3a3af0"/>
<circle cx="404.08" cy="229.91" r="1.3" fill="#3a3af0"/>
<text font-size="11.29" font-weight="bold" fill="#000" transform="translate(3.6 320.2) scale(0.9090909090909091 1)">L</text>
<text font-size="8.99" stroke="#1c1c1c" stroke-width="0.13" transform="translate(21.6 336.3) scale(0.8899521531100479 1)">A431</text>
<rect x="7" y="343.6" width="10.5" height="3.2" fill="#000"/>
<rect x="7" y="350.6" width="10.5" height="3.2" fill="#f03a3a" stroke="#000" stroke-width="0.5"/>
<text font-size="7.73" stroke="#1c1c1c" stroke-width="0.13" transform="translate(23 348) scale(0.8899521531100479 1)">Vehicle</text>
<text font-size="7.73" stroke="#1c1c1c" stroke-width="0.13" transform="translate(23 355) scale(0.8899521531100479 1)">COX-2 inh</text>
<line x1="18.5" y1="361.7" x2="18.5" y2="428.4" stroke="#1c1c1c" stroke-width="1"/>
<line x1="16.3" y1="428.5" x2="18.9" y2="428.5" stroke="#1c1c1c" stroke-width="1"/>
<text font-size="7.21" text-anchor="end" stroke="#1c1c1c" stroke-width="0.13" transform="translate(15.5 430.81) scale(0.8899521531100479 1)">0</text>
<line x1="16.3" y1="411.5" x2="18.9" y2="411.5" stroke="#1c1c1c" stroke-width="1"/>
<text font-size="7.21" text-anchor="end" stroke="#1c1c1c" stroke-width="0.13" transform="translate(15.5 414.13) scale(0.8899521531100479 1)">2</text>
<line x1="16.3" y1="395.5" x2="18.9" y2="395.5" stroke="#1c1c1c" stroke-width="1"/>
<text font-size="7.21" text-anchor="end" stroke="#1c1c1c" stroke-width="0.13" transform="translate(15.5 397.45) scale(0.8899521531100479 1)">4</text>
<line x1="16.3" y1="378.5" x2="18.9" y2="378.5" stroke="#1c1c1c" stroke-width="1"/>
<text font-size="7.21" text-anchor="end" stroke="#1c1c1c" stroke-width="0.13" transform="translate(15.5 380.77) scale(0.8899521531100479 1)">6</text>
<line x1="16.3" y1="361.5" x2="18.9" y2="361.5" stroke="#1c1c1c" stroke-width="1"/>
<text font-size="7.21" text-anchor="end" stroke="#1c1c1c" stroke-width="0.13" transform="translate(15.5 364.09) scale(0.8899521531100479 1)">8</text>
<rect x="21.7" y="420.89" width="4.7" height="7.51" fill="#000" stroke="#000" stroke-width="0.5"/>
<line x1="24.5" y1="421.73" x2="24.5" y2="418.81" stroke="#1c1c1c" stroke-width="0.6"/>
<line x1="22.85" y1="418.5" x2="25.25" y2="418.5" stroke="#1c1c1c" stroke-width="0.6"/>
<line x1="22.85" y1="421.5" x2="25.25" y2="421.5" stroke="#1c1c1c" stroke-width="0.6"/>
<rect x="28.4" y="426.31" width="4.6" height="2.08" fill="#f03a3a" stroke="#000" stroke-width="0.5"/>
<line x1="30.5" y1="426.73" x2="30.5" y2="425.48" stroke="#1c1c1c" stroke-width="0.6"/>
<line x1="29.5" y1="425.5" x2="31.9" y2="425.5" stroke="#1c1c1c" stroke-width="0.6"/>
<line x1="29.5" y1="426.5" x2="31.9" y2="426.5" stroke="#1c1c1c" stroke-width="0.6"/>
<rect x="40" y="385.03" width="4.7" height="43.37" fill="#000" stroke="#000" stroke-width="0.5"/>
<line x1="42.5" y1="386.7" x2="42.5" y2="382.53" stroke="#1c1c1c" stroke-width="0.6"/>
<line x1="41.15" y1="382.5" x2="43.55" y2="382.5" stroke="#1c1c1c" stroke-width="0.6"/>
<line x1="41.15" y1="386.5" x2="43.55" y2="386.5" stroke="#1c1c1c" stroke-width="0.6"/>
<rect x="47.2" y="416.72" width="4.2" height="11.68" fill="#f03a3a" stroke="#000" stroke-width="0.5"/>
<line x1="49.5" y1="417.97" x2="49.5" y2="415.06" stroke="#1c1c1c" stroke-width="0.6"/>
<line x1="48.1" y1="415.5" x2="50.5" y2="415.5" stroke="#1c1c1c" stroke-width="0.6"/>
<line x1="48.1" y1="417.5" x2="50.5" y2="417.5" stroke="#1c1c1c" stroke-width="0.6"/>
<rect x="58.8" y="394.21" width="4.3" height="34.19" fill="#000" stroke="#000" stroke-width="0.5"/>
<line x1="60.5" y1="398.38" x2="60.5" y2="388.37" stroke="#1c1c1c" stroke-width="0.6"/>
<line x1="59.75" y1="388.5" x2="62.15" y2="388.5" stroke="#1c1c1c" stroke-width="0.6"/>
<line x1="59.75" y1="398.5" x2="62.15" y2="398.5" stroke="#1c1c1c" stroke-width="0.6"/>
<rect x="65.6" y="418.39" width="4.5" height="10.01" fill="#f03a3a" stroke="#000" stroke-width="0.5"/>
<line x1="67.5" y1="419.64" x2="67.5" y2="416.72" stroke="#1c1c1c" stroke-width="0.6"/>
<line x1="66.65" y1="416.5" x2="69.05" y2="416.5" stroke="#1c1c1c" stroke-width="0.6"/>
<line x1="66.65" y1="419.5" x2="69.05" y2="419.5" stroke="#1c1c1c" stroke-width="0.6"/>
<circle cx="23" cy="419.23" r="1.35" fill="#fff" stroke="#1c1c1c" stroke-width="0.6"/>
<circle cx="25" cy="420.89" r="1.35" fill="#fff" stroke="#1c1c1c" stroke-width="0.6"/>
<circle cx="24" cy="422.56" r="1.35" fill="#fff" stroke="#1c1c1c" stroke-width="0.6"/>
<circle cx="29.5" cy="425.9" r="1.35" fill="#fff" stroke="#1c1c1c" stroke-width="0.6"/>
<circle cx="31.5" cy="426.31" r="1.35" fill="#fff" stroke="#1c1c1c" stroke-width="0.6"/>
<circle cx="30.5" cy="426.73" r="1.35" fill="#fff" stroke="#1c1c1c" stroke-width="0.6"/>
<circle cx="42.3" cy="382.53" r="1.35" fill="#fff" stroke="#1c1c1c" stroke-width="0.6"/>
<circle cx="42.3" cy="389.2" r="1.35" fill="#fff" stroke="#1c1c1c" stroke-width="0.6"/>
<circle cx="48.3" cy="415.06" r="1.35" fill="#fff" stroke="#1c1c1c" stroke-width="0.6"/>
<circle cx="50.3" cy="416.72" r="1.35" fill="#fff" stroke="#1c1c1c" stroke-width="0.6"/>
<circle cx="49.3" cy="417.56" r="1.35" fill="#fff" stroke="#1c1c1c" stroke-width="0.6"/>
<circle cx="61" cy="395.04" r="1.35" fill="#fff" stroke="#1c1c1c" stroke-width="0.6"/>
<circle cx="66.8" cy="416.72" r="1.35" fill="#fff" stroke="#1c1c1c" stroke-width="0.6"/>
<circle cx="68.8" cy="416.31" r="1.35" fill="#fff" stroke="#1c1c1c" stroke-width="0.6"/>
<circle cx="67.8" cy="418.39" r="1.35" fill="#fff" stroke="#1c1c1c" stroke-width="0.6"/>
<line x1="18.9" y1="428.5" x2="72.6" y2="428.5" stroke="#1c1c1c" stroke-width="1"/>
<line x1="27.5" y1="428.4" x2="27.5" y2="432.5" stroke="#1c1c1c" stroke-width="1"/>
<line x1="45.5" y1="428.4" x2="45.5" y2="432.5" stroke="#1c1c1c" stroke-width="1"/>
<line x1="64.5" y1="428.4" x2="64.5" y2="432.5" stroke="#1c1c1c" stroke-width="1"/>
<text font-size="7.52" text-anchor="middle" stroke="#1c1c1c" stroke-width="0.13" transform="translate(46.7 367.2) scale(0.8899521531100479 1)"><tspan font-style="italic">P</tspan> &lt; 0.001</text>
<line x1="42.3" y1="371.5" x2="51.8" y2="371.5" stroke="#1c1c1c" stroke-width="1.2"/>
<text font-size="7.52" text-anchor="middle" stroke="#1c1c1c" stroke-width="0.13" transform="translate(36 378.4) scale(0.8899521531100479 1)"><tspan font-style="italic">P</tspan> = 0.012</text>
<line x1="21.7" y1="381.5" x2="33" y2="381.5" stroke="#1c1c1c" stroke-width="1.2"/>
<text font-size="7.52" text-anchor="middle" stroke="#1c1c1c" stroke-width="0.13" transform="translate(64.7 383.9) scale(0.8899521531100479 1)"><tspan font-style="italic">P</tspan> &lt; 0.001</text>
<line x1="59.3" y1="388.5" x2="70.1" y2="388.5" stroke="#1c1c1c" stroke-width="1.2"/>
<text font-size="8.78" text-anchor="end" stroke="#1c1c1c" stroke-width="0.13" transform="translate(28.4 442.6) rotate(-45) scale(0.8899521531100479 1)">shNC</text>
<text font-size="8.78" text-anchor="end" stroke="#1c1c1c" stroke-width="0.13" transform="translate(47.6 440.6) rotate(-45) scale(0.8899521531100479 1)">shDF2-1</text>
<text font-size="8.78" text-anchor="end" stroke="#1c1c1c" stroke-width="0.13" transform="translate(67.2 440.6) rotate(-45) scale(0.8899521531100479 1)">shDF2-2</text>
<text font-size="8.99" text-anchor="middle" stroke="#1c1c1c" stroke-width="0.13" transform="translate(6.68 395) rotate(-90) scale(0.8899521531100479 1)">Cell Number (Fold)</text>
<text font-size="11.29" font-weight="bold" fill="#000" transform="translate(92.2 320.1) scale(0.9090909090909091 1)">M</text>
<line x1="89.2" y1="335" x2="100" y2="335" stroke="#1c1c1c" stroke-width="1.3"/>
<circle cx="94.6" cy="335" r="1.2" fill="#1c1c1c"/>
<text font-size="7.42" stroke="#1c1c1c" stroke-width="0.13" transform="translate(105.9 337.5) scale(0.8899521531100479 1)">shNC_Vehicle</text>
<line x1="89.2" y1="343.1" x2="100" y2="343.1" stroke="#1c1c1c" stroke-width="1.3" stroke-dasharray="2.2 1.4"/>
<circle cx="94.6" cy="343.1" r="1.2" fill="#1c1c1c"/>
<text font-size="7.42" stroke="#1c1c1c" stroke-width="0.13" transform="translate(105.9 345.6) scale(0.8899521531100479 1)">shNC_COX-2 inh</text>
<line x1="89.2" y1="353.4" x2="100" y2="353.4" stroke="#f03a3a" stroke-width="1.3"/>
<circle cx="94.6" cy="353.4" r="1.2" fill="#f03a3a"/>
<text font-size="7.42" stroke="#1c1c1c" stroke-width="0.13" transform="translate(105.9 355.9) scale(0.8899521531100479 1)">shDF2-1_Vehicle</text>
<line x1="89.2" y1="359.8" x2="100" y2="359.8" stroke="#f03a3a" stroke-width="1.3" stroke-dasharray="2.2 1.4"/>
<circle cx="94.6" cy="359.8" r="1.2" fill="#f03a3a"/>
<text font-size="7.42" stroke="#1c1c1c" stroke-width="0.13" transform="translate(105.9 362.3) scale(0.8899521531100479 1)">shDF2-1_COX-2 inh</text>
<line x1="89.2" y1="369.3" x2="100" y2="369.3" stroke="#3a3af0" stroke-width="1.3"/>
<circle cx="94.6" cy="369.3" r="1.2" fill="#3a3af0"/>
<text font-size="7.42" stroke="#1c1c1c" stroke-width="0.13" transform="translate(105.9 371.8) scale(0.8899521531100479 1)">shDF2-2_Vehicle</text>
<line x1="89.2" y1="376.8" x2="100" y2="376.8" stroke="#3a3af0" stroke-width="1.3" stroke-dasharray="2.2 1.4"/>
<circle cx="94.6" cy="376.8" r="1.2" fill="#3a3af0"/>
<text font-size="7.42" stroke="#1c1c1c" stroke-width="0.13" transform="translate(105.9 379.3) scale(0.8899521531100479 1)">shDF2-2_COX-2 inh</text>
<line x1="161.5" y1="333.4" x2="161.5" y2="343.1" stroke="#1c1c1c" stroke-width="1"/>
<line x1="168.5" y1="351.7" x2="168.5" y2="361.8" stroke="#1c1c1c" stroke-width="1"/>
<line x1="177.5" y1="370.1" x2="177.5" y2="377.6" stroke="#1c1c1c" stroke-width="1"/>
<text font-size="7.31" text-anchor="middle" stroke="#1c1c1c" stroke-width="0.13" transform="translate(168.51 332.2) rotate(-90) scale(0.8899521531100479 1)"><tspan font-style="italic">P</tspan> &lt; 0.0001</text>
<text font-size="7.31" text-anchor="middle" stroke="#1c1c1c" stroke-width="0.13" transform="translate(176.01 350.1) rotate(-90) scale(0.8899521531100479 1)"><tspan font-style="italic">P</tspan> &lt; 0.0001</text>
<text font-size="7.31" text-anchor="middle" stroke="#1c1c1c" stroke-width="0.13" transform="translate(185.21 366.8) rotate(-90) scale(0.8899521531100479 1)"><tspan font-style="italic">P</tspan> &lt; 0.0001</text>
<line x1="109.5" y1="383.2" x2="109.5" y2="456.5" stroke="#1c1c1c" stroke-width="1"/>
<line x1="106.5" y1="456.5" x2="109.1" y2="456.5" stroke="#1c1c1c" stroke-width="1"/>
<text font-size="7.21" text-anchor="end" stroke="#1c1c1c" stroke-width="0.13" transform="translate(105.7 458.92) scale(0.8899521531100479 1)">0</text>
<line x1="106.5" y1="432.5" x2="109.1" y2="432.5" stroke="#1c1c1c" stroke-width="1"/>
<text font-size="7.21" text-anchor="end" stroke="#1c1c1c" stroke-width="0.13" transform="translate(105.7 434.48) scale(0.8899521531100479 1)">5</text>
<line x1="106.5" y1="407.5" x2="109.1" y2="407.5" stroke="#1c1c1c" stroke-width="1"/>
<text font-size="7.21" text-anchor="end" stroke="#1c1c1c" stroke-width="0.13" transform="translate(105.7 410.05) scale(0.8899521531100479 1)">10</text>
<line x1="106.5" y1="383.5" x2="109.1" y2="383.5" stroke="#1c1c1c" stroke-width="1"/>
<text font-size="7.21" text-anchor="end" stroke="#1c1c1c" stroke-width="0.13" transform="translate(105.7 385.61) scale(0.8899521531100479 1)">15</text>
<line x1="109.1" y1="456.5" x2="191.6" y2="456.5" stroke="#1c1c1c" stroke-width="1"/>
<line x1="109.5" y1="456.5" x2="109.5" y2="459.1" stroke="#1c1c1c" stroke-width="1"/>
<text font-size="7.73" text-anchor="middle" stroke="#1c1c1c" stroke-width="0.13" transform="translate(109.1 467.43) scale(0.8899521531100479 1)">0</text>
<line x1="129.5" y1="456.5" x2="129.5" y2="459.1" stroke="#1c1c1c" stroke-width="1"/>
<text font-size="7.73" text-anchor="middle" stroke="#1c1c1c" stroke-width="0.13" transform="translate(129.72 467.43) scale(0.8899521531100479 1)">20</text>
<line x1="150.5" y1="456.5" x2="150.5" y2="459.1" stroke="#1c1c1c" stroke-width="1"/>
<text font-size="7.73" text-anchor="middle" stroke="#1c1c1c" stroke-width="0.13" transform="translate(150.34 467.43) scale(0.8899521531100479 1)">40</text>
<line x1="170.5" y1="456.5" x2="170.5" y2="459.1" stroke="#1c1c1c" stroke-width="1"/>
<text font-size="7.73" text-anchor="middle" stroke="#1c1c1c" stroke-width="0.13" transform="translate(170.96 467.43) scale(0.8899521531100479 1)">60</text>
<line x1="191.5" y1="456.5" x2="191.5" y2="459.1" stroke="#1c1c1c" stroke-width="1"/>
<text font-size="7.73" text-anchor="middle" stroke="#1c1c1c" stroke-width="0.13" transform="translate(191.58 467.43) scale(0.8899521531100479 1)">80</text>
<line x1="109.1" y1="457.7" x2="191.6" y2="457.7" stroke="#1c1c1c" stroke-width="1.1" stroke-dasharray="0.7 1.90"/>
<text font-size="8.99" stroke="#1c1c1c" stroke-width="0.13" transform="translate(113.8 393.8) scale(0.8899521531100479 1)">A431</text>
<text font-size="7.73" text-anchor="middle" stroke="#1c1c1c" stroke-width="0.13" transform="translate(150.3 477.4) scale(0.8899521531100479 1)">Time (Days)</text>
<text font-size="8.99" text-anchor="middle" stroke="#1c1c1c" stroke-width="0.13" transform="translate(95.28 419.8) rotate(-90) scale(0.8899521531100479 1)">Cell Number (Fold)</text>
<line x1="183.5" y1="447.95" x2="183.5" y2="446.48" stroke="#1c1c1c" stroke-width="0.6"/>
<line x1="182.13" y1="446.5" x2="184.53" y2="446.5" stroke="#1c1c1c" stroke-width="0.6"/>
<line x1="182.13" y1="447.5" x2="184.53" y2="447.5" stroke="#1c1c1c" stroke-width="0.6"/>
<polyline points="109.1,451.61 133.84,450.64 158.59,449.66 183.33,447.21" fill="none" stroke="#1c1c1c" stroke-width="1.25" stroke-linejoin="round" stroke-dasharray="2.4 1.4"/>
<circle cx="109.1" cy="451.61" r="1.3" fill="#1c1c1c"/>
<circle cx="133.84" cy="450.64" r="1.3" fill="#1c1c1c"/>
<circle cx="158.59" cy="449.66" r="1.3" fill="#1c1c1c"/>
<circle cx="183.33" cy="447.21" r="1.3" fill="#1c1c1c"/>
<line x1="183.5" y1="445.26" x2="183.5" y2="442.33" stroke="#f03a3a" stroke-width="0.6"/>
<line x1="182.13" y1="442.5" x2="184.53" y2="442.5" stroke="#f03a3a" stroke-width="0.6"/>
<line x1="182.13" y1="445.5" x2="184.53" y2="445.5" stroke="#f03a3a" stroke-width="0.6"/>
<polyline points="109.1,451.61 133.84,450.64 158.59,448.19 183.33,443.79" fill="none" stroke="#f03a3a" stroke-width="1.25" stroke-linejoin="round" stroke-dasharray="2.4 1.4"/>
<circle cx="109.1" cy="451.61" r="1.3" fill="#f03a3a"/>
<circle cx="133.84" cy="450.64" r="1.3" fill="#f03a3a"/>
<circle cx="158.59" cy="448.19" r="1.3" fill="#f03a3a"/>
<circle cx="183.33" cy="443.79" r="1.3" fill="#f03a3a"/>
<line x1="183.5" y1="441.35" x2="183.5" y2="439.4" stroke="#3a3af0" stroke-width="0.6"/>
<line x1="182.13" y1="439.5" x2="184.53" y2="439.5" stroke="#3a3af0" stroke-width="0.6"/>
<line x1="182.13" y1="441.5" x2="184.53" y2="441.5" stroke="#3a3af0" stroke-width="0.6"/>
<polyline points="109.1,451.61 133.84,450.15 158.59,447.21 183.33,440.37" fill="none" stroke="#3a3af0" stroke-width="1.25" stroke-linejoin="round" stroke-dasharray="2.4 1.4"/>
<circle cx="109.1" cy="451.61" r="1.3" fill="#3a3af0"/>
<circle cx="133.84" cy="450.15" r="1.3" fill="#3a3af0"/>
<circle cx="158.59" cy="447.21" r="1.3" fill="#3a3af0"/>
<circle cx="183.33" cy="440.37" r="1.3" fill="#3a3af0"/>
<line x1="183.5" y1="432.55" x2="183.5" y2="430.6" stroke="#1c1c1c" stroke-width="0.6"/>
<line x1="182.13" y1="430.5" x2="184.53" y2="430.5" stroke="#1c1c1c" stroke-width="0.6"/>
<line x1="182.13" y1="432.5" x2="184.53" y2="432.5" stroke="#1c1c1c" stroke-width="0.6"/>
<polyline points="109.1,451.61 133.84,448.19 158.59,442.82 183.33,431.58" fill="none" stroke="#1c1c1c" stroke-width="1.3" stroke-linejoin="round"/>
<circle cx="109.1" cy="451.61" r="1.3" fill="#1c1c1c"/>
<circle cx="133.84" cy="448.19" r="1.3" fill="#1c1c1c"/>
<circle cx="158.59" cy="442.82" r="1.3" fill="#1c1c1c"/>
<circle cx="183.33" cy="431.58" r="1.3" fill="#1c1c1c"/>
<line x1="183.5" y1="410.32" x2="183.5" y2="405.92" stroke="#f03a3a" stroke-width="0.6"/>
<line x1="182.13" y1="405.5" x2="184.53" y2="405.5" stroke="#f03a3a" stroke-width="0.6"/>
<line x1="182.13" y1="410.5" x2="184.53" y2="410.5" stroke="#f03a3a" stroke-width="0.6"/>
<polyline points="109.1,451.61 133.84,442.33 158.59,423.76 183.33,408.12" fill="none" stroke="#f03a3a" stroke-width="1.3" stroke-linejoin="round"/>
<circle cx="109.1" cy="451.61" r="1.3" fill="#f03a3a"/>
<circle cx="133.84" cy="442.33" r="1.3" fill="#f03a3a"/>
<circle cx="158.59" cy="423.76" r="1.3" fill="#f03a3a"/>
<circle cx="183.33" cy="408.12" r="1.3" fill="#f03a3a"/>
<line x1="183.5" y1="400.3" x2="183.5" y2="398.34" stroke="#3a3af0" stroke-width="0.6"/>
<line x1="182.13" y1="398.5" x2="184.53" y2="398.5" stroke="#3a3af0" stroke-width="0.6"/>
<line x1="182.13" y1="400.5" x2="184.53" y2="400.5" stroke="#3a3af0" stroke-width="0.6"/>
<polyline points="109.1,451.61 133.84,441.35 158.59,422.78 183.33,399.32" fill="none" stroke="#3a3af0" stroke-width="1.3" stroke-linejoin="round"/>
<circle cx="109.1" cy="451.61" r="1.3" fill="#3a3af0"/>
<circle cx="133.84" cy="441.35" r="1.3" fill="#3a3af0"/>
<circle cx="158.59" cy="422.78" r="1.3" fill="#3a3af0"/>
<circle cx="183.33" cy="399.32" r="1.3" fill="#3a3af0"/>
<text font-size="11.29" font-weight="bold" fill="#000" transform="translate(206.9 320.1) scale(0.9090909090909091 1)">N</text>
<text font-size="8.83" text-anchor="middle" stroke="#1c1c1c" stroke-width="0.13" transform="translate(255.5 332) scale(0.8899521531100479 1)">Tumor growth</text>
<line x1="218" y1="340.1" x2="228.7" y2="340.1" stroke="#1c1c1c" stroke-width="1.3"/>
<circle cx="223.35" cy="340.1" r="1.2" fill="#1c1c1c"/>
<text font-size="7.52" stroke="#1c1c1c" stroke-width="0.13" transform="translate(234.4 342.65) scale(0.8899521531100479 1)">shNC_shNC</text>
<line x1="218" y1="348.1" x2="228.7" y2="348.1" stroke="#f03a3a" stroke-width="1.3"/>
<circle cx="223.35" cy="348.1" r="1.2" fill="#f03a3a"/>
<text font-size="7.52" stroke="#1c1c1c" stroke-width="0.13" transform="translate(234.4 350.65) scale(0.8899521531100479 1)">shNC_shTLR3-1</text>
<line x1="218" y1="355" x2="228.7" y2="355" stroke="#3a3af0" stroke-width="1.3"/>
<circle cx="223.35" cy="355" r="1.2" fill="#3a3af0"/>
<text font-size="7.52" stroke="#1c1c1c" stroke-width="0.13" transform="translate(234.4 357.55) scale(0.8899521531100479 1)">shNC_shTLR3-2</text>
<line x1="218" y1="362.1" x2="228.7" y2="362.1" stroke="#1c1c1c" stroke-width="1.3" stroke-dasharray="2.2 1.4"/>
<circle cx="223.35" cy="362.1" r="1.2" fill="#1c1c1c"/>
<text font-size="7.52" stroke="#1c1c1c" stroke-width="0.13" transform="translate(234.4 364.65) scale(0.8899521531100479 1)">shDF2_shNC</text>
<line x1="218" y1="369.7" x2="228.7" y2="369.7" stroke="#f03a3a" stroke-width="1.3" stroke-dasharray="2.2 1.4"/>
<circle cx="223.35" cy="369.7" r="1.2" fill="#f03a3a"/>
<text font-size="7.52" stroke="#1c1c1c" stroke-width="0.13" transform="translate(234.4 372.25) scale(0.8899521531100479 1)">shDF2_shTLR3-1</text>
<line x1="218" y1="376.8" x2="228.7" y2="376.8" stroke="#3a3af0" stroke-width="1.3" stroke-dasharray="2.2 1.4"/>
<circle cx="223.35" cy="376.8" r="1.2" fill="#3a3af0"/>
<text font-size="7.52" stroke="#1c1c1c" stroke-width="0.13" transform="translate(234.4 379.35) scale(0.8899521531100479 1)">shDF2_shTLR3-2</text>
<line x1="289.5" y1="360.7" x2="289.5" y2="371.7" stroke="#1c1c1c" stroke-width="1"/>
<text font-size="7.31" text-anchor="middle" stroke="#1c1c1c" stroke-width="0.13" transform="translate(298.51 362.2) rotate(-90) scale(0.8899521531100479 1)"><tspan font-style="italic">P</tspan> = 0.0042</text>
<line x1="301.5" y1="361.4" x2="301.5" y2="379.7" stroke="#1c1c1c" stroke-width="1"/>
<text font-size="7.31" text-anchor="middle" stroke="#1c1c1c" stroke-width="0.13" transform="translate(309.81 369.2) rotate(-90) scale(0.8899521531100479 1)"><tspan font-style="italic">P</tspan> = 0.0041</text>
<line x1="237.5" y1="381.5" x2="237.5" y2="449.4" stroke="#1c1c1c" stroke-width="1"/>
<line x1="234.9" y1="449.5" x2="237.5" y2="449.5" stroke="#1c1c1c" stroke-width="1"/>
<text font-size="7.21" text-anchor="end" stroke="#1c1c1c" stroke-width="0.13" transform="translate(234.1 451.81) scale(0.8899521531100479 1)">0</text>
<line x1="234.9" y1="435.5" x2="237.5" y2="435.5" stroke="#1c1c1c" stroke-width="1"/>
<text font-size="7.21" text-anchor="end" stroke="#1c1c1c" stroke-width="0.13" transform="translate(234.1 438.21) scale(0.8899521531100479 1)">100</text>
<line x1="234.9" y1="422.5" x2="237.5" y2="422.5" stroke="#1c1c1c" stroke-width="1"/>
<text font-size="7.21" text-anchor="end" stroke="#1c1c1c" stroke-width="0.13" transform="translate(234.1 424.62) scale(0.8899521531100479 1)">200</text>
<line x1="234.9" y1="408.5" x2="237.5" y2="408.5" stroke="#1c1c1c" stroke-width="1"/>
<text font-size="7.21" text-anchor="end" stroke="#1c1c1c" stroke-width="0.13" transform="translate(234.1 411.01) scale(0.8899521531100479 1)">300</text>
<line x1="234.9" y1="395.5" x2="237.5" y2="395.5" stroke="#1c1c1c" stroke-width="1"/>
<text font-size="7.21" text-anchor="end" stroke="#1c1c1c" stroke-width="0.13" transform="translate(234.1 397.42) scale(0.8899521531100479 1)">400</text>
<line x1="234.9" y1="381.5" x2="237.5" y2="381.5" stroke="#1c1c1c" stroke-width="1"/>
<text font-size="7.21" text-anchor="end" stroke="#1c1c1c" stroke-width="0.13" transform="translate(234.1 383.81) scale(0.8899521531100479 1)">500</text>
<line x1="237.5" y1="449.5" x2="246" y2="449.5" stroke="#1c1c1c" stroke-width="1"/>
<line x1="249" y1="449.5" x2="323.4" y2="449.5" stroke="#1c1c1c" stroke-width="1"/>
<line x1="238.5" y1="449.4" x2="238.5" y2="452" stroke="#1c1c1c" stroke-width="1"/>
<text font-size="7.21" text-anchor="middle" stroke="#1c1c1c" stroke-width="0.13" transform="translate(238.3 460.3) scale(0.8899521531100479 1)">0</text>
<line x1="244.5" y1="449.4" x2="244.5" y2="452" stroke="#1c1c1c" stroke-width="1"/>
<text font-size="7.21" text-anchor="middle" stroke="#1c1c1c" stroke-width="0.13" transform="translate(244 460.3) scale(0.8899521531100479 1)">5</text>
<line x1="269.5" y1="449.4" x2="269.5" y2="452" stroke="#1c1c1c" stroke-width="1"/>
<text font-size="7.21" text-anchor="middle" stroke="#1c1c1c" stroke-width="0.13" transform="translate(269.6 460.3) scale(0.8899521531100479 1)">10</text>
<line x1="296.5" y1="449.4" x2="296.5" y2="452" stroke="#1c1c1c" stroke-width="1"/>
<text font-size="7.21" text-anchor="middle" stroke="#1c1c1c" stroke-width="0.13" transform="translate(296.2 460.3) scale(0.8899521531100479 1)">15</text>
<line x1="322.5" y1="449.4" x2="322.5" y2="452" stroke="#1c1c1c" stroke-width="1"/>
<text font-size="7.21" text-anchor="middle" stroke="#1c1c1c" stroke-width="0.13" transform="translate(322.8 460.3) scale(0.8899521531100479 1)">20</text>
<line x1="250" y1="450.6" x2="323" y2="450.6" stroke="#1c1c1c" stroke-width="1.1" stroke-dasharray="0.7 1.80"/>
<text font-size="8.99" stroke="#1c1c1c" stroke-width="0.13" transform="translate(243.4 395.1) scale(0.8899521531100479 1)">A431</text>
<text font-size="8.93" text-anchor="middle" stroke="#1c1c1c" stroke-width="0.13" transform="translate(281.3 471.5) scale(0.8899521531100479 1)">Time (Days)</text>
<text font-size="8.99" text-anchor="middle" stroke="#1c1c1c" stroke-width="0.13" transform="translate(219.38 414) rotate(-90) scale(0.8899521531100479 1)">Tumor Volume (mm<tspan font-size="5.5" dy="-3">3</tspan><tspan dy="3">)</tspan></text>
<line x1="269.5" y1="448.18" x2="269.5" y2="447.36" stroke="#1c1c1c" stroke-width="0.8"/>
<line x1="268.5" y1="447.5" x2="270.7" y2="447.5" stroke="#1c1c1c" stroke-width="0.8"/>
<line x1="268.5" y1="448.5" x2="270.7" y2="448.5" stroke="#1c1c1c" stroke-width="0.8"/>
<line x1="285.5" y1="448.72" x2="285.5" y2="447.63" stroke="#1c1c1c" stroke-width="0.8"/>
<line x1="284.49" y1="447.5" x2="286.69" y2="447.5" stroke="#1c1c1c" stroke-width="0.8"/>
<line x1="284.49" y1="448.5" x2="286.69" y2="448.5" stroke="#1c1c1c" stroke-width="0.8"/>
<line x1="301.5" y1="444.23" x2="301.5" y2="442.06" stroke="#1c1c1c" stroke-width="0.8"/>
<line x1="300.48" y1="442.5" x2="302.68" y2="442.5" stroke="#1c1c1c" stroke-width="0.8"/>
<line x1="300.48" y1="444.5" x2="302.68" y2="444.5" stroke="#1c1c1c" stroke-width="0.8"/>
<line x1="312.5" y1="441.1" x2="312.5" y2="438.38" stroke="#1c1c1c" stroke-width="0.8"/>
<line x1="311.14" y1="438.5" x2="313.34" y2="438.5" stroke="#1c1c1c" stroke-width="0.8"/>
<line x1="311.14" y1="441.5" x2="313.34" y2="441.5" stroke="#1c1c1c" stroke-width="0.8"/>
<polyline points="253.61,449.26 269.6,447.77 285.59,448.18 301.58,443.14 312.24,439.74" fill="none" stroke="#1c1c1c" stroke-width="1.3" stroke-linejoin="round"/>
<circle cx="253.61" cy="449.26" r="1.3" fill="#1c1c1c"/>
<circle cx="269.6" cy="447.77" r="1.3" fill="#1c1c1c"/>
<circle cx="285.59" cy="448.18" r="1.3" fill="#1c1c1c"/>
<circle cx="301.58" cy="443.14" r="1.3" fill="#1c1c1c"/>
<circle cx="312.24" cy="439.74" r="1.3" fill="#1c1c1c"/>
<polyline points="253.61,449.26 269.6,447.5 285.59,444.64 301.58,441.92 312.24,440.56" fill="none" stroke="#f03a3a" stroke-width="1.3" stroke-linejoin="round"/>
<circle cx="253.61" cy="449.26" r="1.3" fill="#f03a3a"/>
<circle cx="269.6" cy="447.5" r="1.3" fill="#f03a3a"/>
<circle cx="285.59" cy="444.64" r="1.3" fill="#f03a3a"/>
<circle cx="301.58" cy="441.92" r="1.3" fill="#f03a3a"/>
<circle cx="312.24" cy="440.56" r="1.3" fill="#f03a3a"/>
<line x1="269.5" y1="447.9" x2="269.5" y2="446.82" stroke="#3a3af0" stroke-width="0.8"/>
<line x1="268.5" y1="446.5" x2="270.7" y2="446.5" stroke="#3a3af0" stroke-width="0.8"/>
<line x1="268.5" y1="447.5" x2="270.7" y2="447.5" stroke="#3a3af0" stroke-width="0.8"/>
<line x1="285.5" y1="444.91" x2="285.5" y2="442.74" stroke="#3a3af0" stroke-width="0.8"/>
<line x1="284.49" y1="442.5" x2="286.69" y2="442.5" stroke="#3a3af0" stroke-width="0.8"/>
<line x1="284.49" y1="444.5" x2="286.69" y2="444.5" stroke="#3a3af0" stroke-width="0.8"/>
<line x1="301.5" y1="443.96" x2="301.5" y2="441.24" stroke="#3a3af0" stroke-width="0.8"/>
<line x1="300.48" y1="441.5" x2="302.68" y2="441.5" stroke="#3a3af0" stroke-width="0.8"/>
<line x1="300.48" y1="443.5" x2="302.68" y2="443.5" stroke="#3a3af0" stroke-width="0.8"/>
<line x1="312.5" y1="442.87" x2="312.5" y2="439.61" stroke="#3a3af0" stroke-width="0.8"/>
<line x1="311.14" y1="439.5" x2="313.34" y2="439.5" stroke="#3a3af0" stroke-width="0.8"/>
<line x1="311.14" y1="442.5" x2="313.34" y2="442.5" stroke="#3a3af0" stroke-width="0.8"/>
<polyline points="253.61,449.26 269.6,447.36 285.59,443.82 301.58,442.6 312.24,441.24" fill="none" stroke="#3a3af0" stroke-width="1.3" stroke-linejoin="round"/>
<circle cx="253.61" cy="449.26" r="1.3" fill="#3a3af0"/>
<circle cx="269.6" cy="447.36" r="1.3" fill="#3a3af0"/>
<circle cx="285.59" cy="443.82" r="1.3" fill="#3a3af0"/>
<circle cx="301.58" cy="442.6" r="1.3" fill="#3a3af0"/>
<circle cx="312.24" cy="441.24" r="1.3" fill="#3a3af0"/>
<line x1="269.5" y1="447.63" x2="269.5" y2="446.27" stroke="#3a3af0" stroke-width="0.8"/>
<line x1="268.5" y1="446.5" x2="270.7" y2="446.5" stroke="#3a3af0" stroke-width="0.8"/>
<line x1="268.5" y1="447.5" x2="270.7" y2="447.5" stroke="#3a3af0" stroke-width="0.8"/>
<line x1="285.5" y1="443.28" x2="285.5" y2="440.56" stroke="#3a3af0" stroke-width="0.8"/>
<line x1="284.49" y1="440.5" x2="286.69" y2="440.5" stroke="#3a3af0" stroke-width="0.8"/>
<line x1="284.49" y1="443.5" x2="286.69" y2="443.5" stroke="#3a3af0" stroke-width="0.8"/>
<line x1="301.5" y1="440.29" x2="301.5" y2="436.21" stroke="#3a3af0" stroke-width="0.8"/>
<line x1="300.48" y1="436.5" x2="302.68" y2="436.5" stroke="#3a3af0" stroke-width="0.8"/>
<line x1="300.48" y1="440.5" x2="302.68" y2="440.5" stroke="#3a3af0" stroke-width="0.8"/>
<line x1="312.5" y1="438.52" x2="312.5" y2="433.08" stroke="#3a3af0" stroke-width="0.8"/>
<line x1="311.14" y1="433.5" x2="313.34" y2="433.5" stroke="#3a3af0" stroke-width="0.8"/>
<line x1="311.14" y1="438.5" x2="313.34" y2="438.5" stroke="#3a3af0" stroke-width="0.8"/>
<polyline points="253.61,449.26 269.6,446.95 285.59,441.92 301.58,438.25 312.24,435.8" fill="none" stroke="#3a3af0" stroke-width="1.2" stroke-linejoin="round" stroke-dasharray="2.4 1.4"/>
<circle cx="253.61" cy="449.26" r="1.3" fill="#3a3af0"/>
<circle cx="269.6" cy="446.95" r="1.3" fill="#3a3af0"/>
<circle cx="285.59" cy="441.92" r="1.3" fill="#3a3af0"/>
<circle cx="301.58" cy="438.25" r="1.3" fill="#3a3af0"/>
<circle cx="312.24" cy="435.8" r="1.3" fill="#3a3af0"/>
<line x1="269.5" y1="447.36" x2="269.5" y2="445.18" stroke="#f03a3a" stroke-width="0.8"/>
<line x1="268.5" y1="445.5" x2="270.7" y2="445.5" stroke="#f03a3a" stroke-width="0.8"/>
<line x1="268.5" y1="447.5" x2="270.7" y2="447.5" stroke="#f03a3a" stroke-width="0.8"/>
<line x1="285.5" y1="440.02" x2="285.5" y2="435.12" stroke="#f03a3a" stroke-width="0.8"/>
<line x1="284.49" y1="435.5" x2="286.69" y2="435.5" stroke="#f03a3a" stroke-width="0.8"/>
<line x1="284.49" y1="440.5" x2="286.69" y2="440.5" stroke="#f03a3a" stroke-width="0.8"/>
<line x1="301.5" y1="439.2" x2="301.5" y2="428.32" stroke="#f03a3a" stroke-width="0.8"/>
<line x1="300.48" y1="428.5" x2="302.68" y2="428.5" stroke="#f03a3a" stroke-width="0.8"/>
<line x1="300.48" y1="439.5" x2="302.68" y2="439.5" stroke="#f03a3a" stroke-width="0.8"/>
<line x1="312.5" y1="438.11" x2="312.5" y2="421.79" stroke="#f03a3a" stroke-width="0.8"/>
<line x1="311.14" y1="421.5" x2="313.34" y2="421.5" stroke="#f03a3a" stroke-width="0.8"/>
<line x1="311.14" y1="438.5" x2="313.34" y2="438.5" stroke="#f03a3a" stroke-width="0.8"/>
<polyline points="253.61,449.13 269.6,446.27 285.59,437.57 301.58,433.76 312.24,429.95" fill="none" stroke="#f03a3a" stroke-width="1.2" stroke-linejoin="round" stroke-dasharray="2.4 1.4"/>
<circle cx="253.61" cy="449.13" r="1.3" fill="#f03a3a"/>
<circle cx="269.6" cy="446.27" r="1.3" fill="#f03a3a"/>
<circle cx="285.59" cy="437.57" r="1.3" fill="#f03a3a"/>
<circle cx="301.58" cy="433.76" r="1.3" fill="#f03a3a"/>
<circle cx="312.24" cy="429.95" r="1.3" fill="#f03a3a"/>
<line x1="269.5" y1="443.69" x2="269.5" y2="434.44" stroke="#1c1c1c" stroke-width="0.8"/>
<line x1="268.5" y1="434.5" x2="270.7" y2="434.5" stroke="#1c1c1c" stroke-width="0.8"/>
<line x1="268.5" y1="443.5" x2="270.7" y2="443.5" stroke="#1c1c1c" stroke-width="0.8"/>
<line x1="285.5" y1="434.03" x2="285.5" y2="419.89" stroke="#1c1c1c" stroke-width="0.8"/>
<line x1="284.49" y1="419.5" x2="286.69" y2="419.5" stroke="#1c1c1c" stroke-width="0.8"/>
<line x1="284.49" y1="434.5" x2="286.69" y2="434.5" stroke="#1c1c1c" stroke-width="0.8"/>
<line x1="301.5" y1="419.48" x2="301.5" y2="408.6" stroke="#1c1c1c" stroke-width="0.8"/>
<line x1="300.48" y1="408.5" x2="302.68" y2="408.5" stroke="#1c1c1c" stroke-width="0.8"/>
<line x1="300.48" y1="419.5" x2="302.68" y2="419.5" stroke="#1c1c1c" stroke-width="0.8"/>
<line x1="312.5" y1="402.48" x2="312.5" y2="392.96" stroke="#1c1c1c" stroke-width="0.8"/>
<line x1="311.14" y1="392.5" x2="313.34" y2="392.5" stroke="#1c1c1c" stroke-width="0.8"/>
<line x1="311.14" y1="402.5" x2="313.34" y2="402.5" stroke="#1c1c1c" stroke-width="0.8"/>
<polyline points="253.61,448.99 269.6,439.06 285.59,426.96 301.58,414.04 312.24,397.72" fill="none" stroke="#1c1c1c" stroke-width="1.2" stroke-linejoin="round" stroke-dasharray="2.4 1.4"/>
<circle cx="253.61" cy="448.99" r="1.3" fill="#1c1c1c"/>
<circle cx="269.6" cy="439.06" r="1.3" fill="#1c1c1c"/>
<circle cx="285.59" cy="426.96" r="1.3" fill="#1c1c1c"/>
<circle cx="301.58" cy="414.04" r="1.3" fill="#1c1c1c"/>
<circle cx="312.24" cy="397.72" r="1.3" fill="#1c1c1c"/>
<line x1="238.5" y1="449.5" x2="246" y2="449.5" stroke="#1c1c1c" stroke-width="1.2"/>
<circle cx="239.5" cy="449.4" r="1.3" fill="#1c1c1c"/>
<circle cx="243.5" cy="449.4" r="1.3" fill="#1c1c1c"/>
<text font-size="11.29" font-weight="bold" fill="#000" transform="translate(325.8 330.6) scale(0.9090909090909091 1)">O</text>
<text font-size="8.99" text-anchor="middle" stroke="#1c1c1c" stroke-width="0.13" transform="translate(386.3 338.7) scale(0.8899521531100479 1)">Tumor weight</text>
<text font-size="8.99" stroke="#1c1c1c" stroke-width="0.13" transform="translate(365.4 349.3) scale(0.8899521531100479 1)">A431</text>
<text font-size="7.52" text-anchor="middle" stroke="#1c1c1c" stroke-width="0.13" transform="translate(409.6 350.2) scale(0.8899521531100479 1)"><tspan font-style="italic">P</tspan> = 0.0160</text>
<line x1="396.1" y1="353.5" x2="422.6" y2="353.5" stroke="#1c1c1c" stroke-width="1.2"/>
<text font-size="7.52" text-anchor="middle" stroke="#1c1c1c" stroke-width="0.13" transform="translate(403.6 362.7) scale(0.8899521531100479 1)"><tspan font-style="italic">P</tspan> = 0.0043</text>
<line x1="396" y1="366.5" x2="412" y2="366.5" stroke="#1c1c1c" stroke-width="1.2"/>
<text font-size="7.52" text-anchor="middle" stroke="#1c1c1c" stroke-width="0.13" transform="translate(381.1 373.8) scale(0.8899521531100479 1)"><tspan font-style="italic">P</tspan> &lt; 0.0001</text>
<line x1="363.3" y1="377.5" x2="398.9" y2="377.5" stroke="#1c1c1c" stroke-width="1.2"/>
<line x1="357.5" y1="349.3" x2="357.5" y2="426.6" stroke="#1c1c1c" stroke-width="1"/>
<line x1="355.9" y1="426.5" x2="357.9" y2="426.5" stroke="#1c1c1c" stroke-width="1"/>
<text font-size="6.58" text-anchor="end" stroke="#1c1c1c" stroke-width="0.13" transform="translate(355.6 428.81) scale(0.8899521531100479 1)">0</text>
<line x1="355.9" y1="420.5" x2="357.9" y2="420.5" stroke="#1c1c1c" stroke-width="1"/>
<text font-size="6.58" text-anchor="end" stroke="#1c1c1c" stroke-width="0.13" transform="translate(355.6 422.37) scale(0.8899521531100479 1)">50</text>
<line x1="355.9" y1="413.5" x2="357.9" y2="413.5" stroke="#1c1c1c" stroke-width="1"/>
<text font-size="6.58" text-anchor="end" stroke="#1c1c1c" stroke-width="0.13" transform="translate(355.6 415.93) scale(0.8899521531100479 1)">100</text>
<line x1="355.9" y1="407.5" x2="357.9" y2="407.5" stroke="#1c1c1c" stroke-width="1"/>
<text font-size="6.58" text-anchor="end" stroke="#1c1c1c" stroke-width="0.13" transform="translate(355.6 409.49) scale(0.8899521531100479 1)">150</text>
<line x1="355.9" y1="400.5" x2="357.9" y2="400.5" stroke="#1c1c1c" stroke-width="1"/>
<text font-size="6.58" text-anchor="end" stroke="#1c1c1c" stroke-width="0.13" transform="translate(355.6 403.05) scale(0.8899521531100479 1)">200</text>
<line x1="355.9" y1="394.5" x2="357.9" y2="394.5" stroke="#1c1c1c" stroke-width="1"/>
<text font-size="6.58" text-anchor="end" stroke="#1c1c1c" stroke-width="0.13" transform="translate(355.6 396.61) scale(0.8899521531100479 1)">250</text>
<line x1="355.9" y1="387.5" x2="357.9" y2="387.5" stroke="#1c1c1c" stroke-width="1"/>
<text font-size="6.58" text-anchor="end" stroke="#1c1c1c" stroke-width="0.13" transform="translate(355.6 390.17) scale(0.8899521531100479 1)">300</text>
<line x1="355.9" y1="381.5" x2="357.9" y2="381.5" stroke="#1c1c1c" stroke-width="1"/>
<text font-size="6.58" text-anchor="end" stroke="#1c1c1c" stroke-width="0.13" transform="translate(355.6 383.73) scale(0.8899521531100479 1)">350</text>
<line x1="355.9" y1="375.5" x2="357.9" y2="375.5" stroke="#1c1c1c" stroke-width="1"/>
<text font-size="6.58" text-anchor="end" stroke="#1c1c1c" stroke-width="0.13" transform="translate(355.6 377.29) scale(0.8899521531100479 1)">400</text>
<line x1="355.9" y1="368.5" x2="357.9" y2="368.5" stroke="#1c1c1c" stroke-width="1"/>
<text font-size="6.58" text-anchor="end" stroke="#1c1c1c" stroke-width="0.13" transform="translate(355.6 370.85) scale(0.8899521531100479 1)">450</text>
<line x1="355.9" y1="362.5" x2="357.9" y2="362.5" stroke="#1c1c1c" stroke-width="1"/>
<text font-size="6.58" text-anchor="end" stroke="#1c1c1c" stroke-width="0.13" transform="translate(355.6 364.41) scale(0.8899521531100479 1)">500</text>
<line x1="355.9" y1="355.5" x2="357.9" y2="355.5" stroke="#1c1c1c" stroke-width="1"/>
<text font-size="6.58" text-anchor="end" stroke="#1c1c1c" stroke-width="0.13" transform="translate(355.6 357.96) scale(0.8899521531100479 1)">550</text>
<line x1="355.9" y1="349.5" x2="357.9" y2="349.5" stroke="#1c1c1c" stroke-width="1"/>
<text font-size="6.58" text-anchor="end" stroke="#1c1c1c" stroke-width="0.13" transform="translate(355.6 351.53) scale(0.8899521531100479 1)">600</text>
<rect x="361.2" y="414.36" width="7.5" height="12.24" fill="#9b9b9b" stroke="#222" stroke-width="0.5"/>
<line x1="364.5" y1="415.65" x2="364.5" y2="413.08" stroke="#1c1c1c" stroke-width="0.6"/>
<line x1="363.75" y1="413.5" x2="366.15" y2="413.5" stroke="#1c1c1c" stroke-width="0.6"/>
<line x1="363.75" y1="415.5" x2="366.15" y2="415.5" stroke="#1c1c1c" stroke-width="0.6"/>
<rect x="372.7" y="414.36" width="7.2" height="12.24" fill="#9b9b9b" stroke="#222" stroke-width="0.5"/>
<line x1="376.5" y1="418.87" x2="376.5" y2="407.28" stroke="#1c1c1c" stroke-width="0.6"/>
<line x1="375.1" y1="407.5" x2="377.5" y2="407.5" stroke="#1c1c1c" stroke-width="0.6"/>
<line x1="375.1" y1="418.5" x2="377.5" y2="418.5" stroke="#1c1c1c" stroke-width="0.6"/>
<rect x="384.2" y="411.79" width="7.2" height="14.81" fill="#9b9b9b" stroke="#222" stroke-width="0.5"/>
<line x1="387.5" y1="420.16" x2="387.5" y2="404.7" stroke="#1c1c1c" stroke-width="0.6"/>
<line x1="386.6" y1="404.5" x2="389" y2="404.5" stroke="#1c1c1c" stroke-width="0.6"/>
<line x1="386.6" y1="420.5" x2="389" y2="420.5" stroke="#1c1c1c" stroke-width="0.6"/>
<rect x="395.5" y="384.1" width="7.4" height="42.5" fill="#9b9b9b" stroke="#222" stroke-width="0.5"/>
<line x1="399.5" y1="386.03" x2="399.5" y2="380.88" stroke="#1c1c1c" stroke-width="0.6"/>
<line x1="398" y1="380.5" x2="400.4" y2="380.5" stroke="#1c1c1c" stroke-width="0.6"/>
<line x1="398" y1="386.5" x2="400.4" y2="386.5" stroke="#1c1c1c" stroke-width="0.6"/>
<rect x="407" y="401.48" width="7.1" height="25.12" fill="#9b9b9b" stroke="#222" stroke-width="0.5"/>
<line x1="410.5" y1="405.35" x2="410.5" y2="397.62" stroke="#1c1c1c" stroke-width="0.6"/>
<line x1="409.35" y1="397.5" x2="411.75" y2="397.5" stroke="#1c1c1c" stroke-width="0.6"/>
<line x1="409.35" y1="405.5" x2="411.75" y2="405.5" stroke="#1c1c1c" stroke-width="0.6"/>
<rect x="417.9" y="411.14" width="7.5" height="15.46" fill="#9b9b9b" stroke="#222" stroke-width="0.5"/>
<line x1="421.5" y1="420.16" x2="421.5" y2="398.91" stroke="#1c1c1c" stroke-width="0.6"/>
<line x1="420.45" y1="398.5" x2="422.85" y2="398.5" stroke="#1c1c1c" stroke-width="0.6"/>
<line x1="420.45" y1="420.5" x2="422.85" y2="420.5" stroke="#1c1c1c" stroke-width="0.6"/>
<circle cx="363" cy="413.72" r="1.35" fill="#fff" stroke="#1c1c1c" stroke-width="0.6"/>
<circle cx="365" cy="415.01" r="1.35" fill="#fff" stroke="#1c1c1c" stroke-width="0.6"/>
<circle cx="367" cy="413.98" r="1.35" fill="#fff" stroke="#1c1c1c" stroke-width="0.6"/>
<circle cx="376.3" cy="419.52" r="1.35" fill="#fff" stroke="#1c1c1c" stroke-width="0.6"/>
<circle cx="376.3" cy="407.92" r="1.35" fill="#fff" stroke="#1c1c1c" stroke-width="0.6"/>
<circle cx="387.8" cy="418.87" r="1.35" fill="#fff" stroke="#1c1c1c" stroke-width="0.6"/>
<circle cx="389.5" cy="405.99" r="1.35" fill="#fff" stroke="#1c1c1c" stroke-width="0.6"/>
<circle cx="399.2" cy="382.16" r="1.35" fill="#fff" stroke="#1c1c1c" stroke-width="0.6"/>
<circle cx="399.2" cy="385.38" r="1.35" fill="#fff" stroke="#1c1c1c" stroke-width="0.6"/>
<circle cx="410.5" cy="397.62" r="1.35" fill="#fff" stroke="#1c1c1c" stroke-width="0.6"/>
<circle cx="410.5" cy="402.77" r="1.35" fill="#fff" stroke="#1c1c1c" stroke-width="0.6"/>
<circle cx="421.6" cy="420.16" r="1.35" fill="#fff" stroke="#1c1c1c" stroke-width="0.6"/>
<circle cx="421.6" cy="398.91" r="1.35" fill="#fff" stroke="#1c1c1c" stroke-width="0.6"/>
<line x1="357.9" y1="426.5" x2="427" y2="426.5" stroke="#1c1c1c" stroke-width="1"/>
<line x1="364.5" y1="426.6" x2="364.5" y2="429.4" stroke="#1c1c1c" stroke-width="1"/>
<line x1="376.5" y1="426.6" x2="376.5" y2="429.4" stroke="#1c1c1c" stroke-width="1"/>
<line x1="387.5" y1="426.6" x2="387.5" y2="429.4" stroke="#1c1c1c" stroke-width="1"/>
<line x1="399.5" y1="426.6" x2="399.5" y2="429.4" stroke="#1c1c1c" stroke-width="1"/>
<line x1="410.5" y1="426.6" x2="410.5" y2="429.4" stroke="#1c1c1c" stroke-width="1"/>
<line x1="421.5" y1="426.6" x2="421.5" y2="429.4" stroke="#1c1c1c" stroke-width="1"/>
<text font-size="8.88" text-anchor="end" stroke="#1c1c1c" stroke-width="0.13" transform="translate(367.6 438.8) rotate(-45) scale(0.8899521531100479 1)">shNC+shNC</text>
<text font-size="8.88" text-anchor="end" stroke="#1c1c1c" stroke-width="0.13" transform="translate(378.8 438.3) rotate(-45) scale(0.8899521531100479 1)">shNC+shT3-1</text>
<text font-size="8.88" text-anchor="end" stroke="#1c1c1c" stroke-width="0.13" transform="translate(390 438) rotate(-45) scale(0.8899521531100479 1)">shNC+shT3-2</text>
<text font-size="8.88" text-anchor="end" stroke="#1c1c1c" stroke-width="0.13" transform="translate(401.2 437.6) rotate(-45) scale(0.8899521531100479 1)">shDF2-1+shNC</text>
<text font-size="8.88" text-anchor="end" stroke="#1c1c1c" stroke-width="0.13" transform="translate(412.5 437.6) rotate(-45) scale(0.8899521531100479 1)">shDF2-1+shT3-1</text>
<text font-size="8.88" text-anchor="end" stroke="#1c1c1c" stroke-width="0.13" transform="translate(424 438.3) rotate(-45) scale(0.8899521531100479 1)">shDF2-1+shT3-2</text>
<text font-size="8.99" text-anchor="middle" stroke="#1c1c1c" stroke-width="0.13" transform="translate(341.68 388.4) rotate(-90) scale(0.8899521531100479 1)">Tumor weight (mg)</text>
<text font-size="11.29" font-weight="bold" fill="#000" transform="translate(429.2 165.6) scale(0.9090909090909091 1)">P</text>
<defs><clipPath id="pc"><rect x="433.4" y="171.3" width="241.6" height="261.9" rx="2.5"/></clipPath><clipPath id="pcl"><rect x="433.4" y="171.3" width="115.3" height="261.9"/></clipPath><clipPath id="pcr"><rect x="548.7" y="171.3" width="126.3" height="261.9"/></clipPath></defs>
<g clip-path="url(#pc)">
<rect x="433.4" y="171.3" width="115.3" height="261.9" fill="#eef2f9"/>
<rect x="548.7" y="171.3" width="126.3" height="261.9" fill="#fdfaf2"/>
<path d="M432.4,398.8 Q548,376.4 676.0,403 L676.0,434.2 L432.4,434.2 Z" fill="#d6e2f0" clip-path="url(#pcl)"/>
<path d="M432.4,398.8 Q548,376.4 676.0,403 L676.0,434.2 L432.4,434.2 Z" fill="#f9ecda" clip-path="url(#pcr)"/>
<path d="M432.4,398.8 Q548,376.4 676.0,403" fill="none" stroke="#4a5262" stroke-width="1.1" stroke-dasharray="2.6 1.6"/>
<path d="M431.4,209.3 Q554,194 677.0,212" fill="none" stroke="#f4f4f4" stroke-width="15.2"/>
<path d="M431.4,209.3 Q554,194 677.0,212" fill="none" stroke="#b9b9b9" stroke-width="10.6" stroke-dasharray="1.05 1.8"/>
<path d="M431.4,209.3 Q554,194 677.0,212" fill="none" stroke="#eeeeee" stroke-width="1.1"/>
<path d="M431.4,203.1 Q554,187.8 677.0,205.8" fill="none" stroke="#9c9c9c" stroke-width="2.8" stroke-dasharray="1.95 0.9"/>
<path d="M431.4,215.5 Q554,200.2 677.0,218.2" fill="none" stroke="#9c9c9c" stroke-width="2.8" stroke-dasharray="1.95 0.9"/>
<ellipse cx="548" cy="330" rx="58" ry="43" fill="#fcf7f3" stroke="#c9a597" stroke-width="0.7"/>
</g>
<text font-size="6.06" text-anchor="middle" fill="#2a6fbd" stroke="#2a6fbd" stroke-width="0.13" transform="translate(482.2 184) scale(0.8229665071770336 1)" stroke="#2a6fbd" stroke-width="0.25">Non-irradiated</text>
<text font-size="6.06" text-anchor="middle" fill="#e78a3c" stroke="#e78a3c" stroke-width="0.13" transform="translate(604.4 184) scale(0.861244019138756 1)">UV-irradiated</text>
<polygon points="572.8,179.2 577.8,179.2 575.3,186.2 578.6,186.6 575.1,194.3 577.8,194.9 569.3,208.2 572,197.4 570.1,197.4 573.2,189.3 569.7,189.5" fill="#fbd257" stroke="#eea03a" stroke-width="0.75" stroke-linejoin="round"/>
<polygon points="650.8,179.2 655.8,179.2 653.3,186.2 656.6,186.6 653.1,194.3 655.8,194.9 647.3,208.2 650,197.4 648.1,197.4 651.2,189.3 647.7,189.5" fill="#fbd257" stroke="#eea03a" stroke-width="0.75" stroke-linejoin="round"/>
<path d="M484,216 C500,216 516,226 524,238 C531,249 532,262 525,276 C517,289 503,297 491,297 C477,297 462,293 455,287 C447,278 445,262 447,250 C449,236 466,217 484,216 Z" fill="none" stroke="#7b92b7" stroke-width="0.85" stroke-dasharray="1.5 1.4"/>
<text font-size="6.9" font-style="italic" fill="#6f87b6" stroke="#6f87b6" stroke-width="0.13" transform="translate(436.4 226) scale(0.8899521531100479 1)">P-body</text>
<text font-size="8.78" font-weight="bold" fill="#6cbd4a" transform="translate(470 227.1) scale(0.784688995215311 1)">CNOT1</text>
<g fill="#9dd27e"><circle cx="476.5" cy="236" r="5"/><circle cx="481.5" cy="233" r="5.2"/><circle cx="488" cy="232.8" r="5"/><circle cx="492.5" cy="236" r="4.6"/><circle cx="491.5" cy="241.5" r="5"/><circle cx="484" cy="240" r="6.2"/><circle cx="477" cy="241" r="4.5"/></g>
<line x1="465.4" y1="239.2" x2="469.5" y2="247" stroke="#333" stroke-width="0.7"/>
<circle cx="462.7" cy="234.5" r="5.1" fill="#e9a022" stroke="#b06d10" stroke-width="0.5"/>
<text font-size="5.22" text-anchor="middle" font-weight="bold" fill="#5a3a00" transform="translate(462.7 236.5) scale(0.8899521531100479 1)">P</text>
<g fill="#9a5cb9"><circle cx="469" cy="247.5" r="5.3"/><circle cx="475" cy="244" r="5.3"/><circle cx="482.5" cy="243.5" r="5.4"/><circle cx="488.5" cy="247" r="4.8"/><circle cx="489" cy="252.5" r="4.5"/><circle cx="486.5" cy="258" r="4.3"/><circle cx="470.5" cy="257.5" r="5"/><circle cx="467.5" cy="252" r="4.6"/><circle cx="478" cy="250.5" r="6.2"/></g>
<path d="M475.5,264 C475.2,256.5 482.5,256 482.8,264 Z" fill="#eef2f9"/>
<text font-size="8.78" font-weight="bold" fill="#9a58b9" transform="translate(496.4 255) scale(0.8133971291866029 1)">YTHDF2</text>
<path d="M472.3,263.92 L475.4,263.52 C476.1,262.52 475.8,256.1 476.7,254.8 C477.5,254 478.9,254.4 479,256 L479.4,262.32 C479.6,263.32 480.3,263.42 481.3,263.42 L493.3,264.02" fill="none" stroke="#dc3530" stroke-width="1.05" stroke-linecap="round" stroke-linejoin="round"/>
<circle cx="476.6" cy="255.2" r="1.9" fill="#189a3a"/>
<line x1="480" y1="266.5" x2="480" y2="271.5" stroke="#3a6ab8" stroke-width="0.8" stroke-dasharray="1 1"/>
<circle cx="480" cy="273" r="0.9" fill="#2a5ab0"/>
<path d="M469,277.8 q2.2,-2.6 4.4,0 t4.4,0 t4.4,0 t3,0" fill="none" stroke="#dc3530" stroke-width="0.95"/>
<path d="M474.5,283.2 q2.2,-2.6 4.4,0 t4.4,0 t4.4,0 t3,0" fill="none" stroke="#dc3530" stroke-width="0.95"/>
<text font-size="8.46" text-anchor="middle" fill="#4a4a4a" stroke="#4a4a4a" stroke-width="0.13" transform="translate(478 293.8) scale(0.8229665071770336 1)">U6 Decay</text>
<circle cx="593.3" cy="226.5" r="5.3" fill="#e9a022" stroke="#b06d10" stroke-width="0.5"/>
<text font-size="5.22" text-anchor="middle" font-weight="bold" fill="#5a3a00" transform="translate(593.3 228.5) scale(0.8899521531100479 1)">P</text>
<g fill="#a697ae"><circle cx="605" cy="251" r="6"/><circle cx="610" cy="243.5" r="6"/><circle cx="618" cy="242" r="6"/><circle cx="623" cy="248" r="6"/><circle cx="624" cy="253" r="5"/><circle cx="605" cy="256" r="4.5"/><circle cx="614" cy="250" r="7"/></g>
<path d="M609.5,263 C609.5,252.5 619.5,252 619.5,263 Z" fill="#fdfaf2"/>
<g fill="#9dd27e"><circle cx="630" cy="233" r="5"/><circle cx="634" cy="228.5" r="5.5"/><circle cx="641" cy="227.5" r="5.5"/><circle cx="647" cy="230" r="5.3"/><circle cx="650" cy="235" r="4.5"/><circle cx="633" cy="236" r="4"/></g>
<path d="M626,240 C630,234 640,234 645,240 Z" fill="#fdfaf2"/>
<line x1="601" y1="236.5" x2="607" y2="245" stroke="#222" stroke-width="0.7"/>
<path d="M599,243 q2,-2 4,-1 t4,-1" fill="none" stroke="#c05050" stroke-width="0.9"/>
<path d="M618.5,237 C619.5,233 621.5,231.5 624,231.5" fill="none" stroke="#222" stroke-width="0.7"/>
<line x1="614.6" y1="266" x2="614.6" y2="273.5" stroke="#888" stroke-width="0.6" stroke-dasharray="0.8 0.8"/>
<path d="M597.1,284.12 L600.7,283.73 C601.4,282.73 601.1,276.3 602,275 C602.8,274.2 604.2,274.6 604.3,276.2 L604.7,282.53 C604.9,283.53 605.6,283.62 606.6,283.62 L616.6,284.23" fill="none" stroke="#dc3530" stroke-width="1.05" stroke-linecap="round" stroke-linejoin="round"/>
<circle cx="601.9" cy="275.4" r="1.9" fill="#189a3a"/>
<path d="M620.4,284.12 L624,283.73 C624.7,282.73 624.4,276.3 625.3,275 C626.1,274.2 627.5,274.6 627.6,276.2 L628,282.53 C628.2,283.53 628.9,283.62 629.9,283.62 L639.9,284.23" fill="none" stroke="#dc3530" stroke-width="1.05" stroke-linecap="round" stroke-linejoin="round"/>
<circle cx="625.2" cy="275.4" r="1.9" fill="#189a3a"/>
<path d="M645.5,284.12 L649.1,283.73 C649.8,282.73 649.5,276.3 650.4,275 C651.2,274.2 652.6,274.6 652.7,276.2 L653.1,282.53 C653.3,283.53 654,283.62 655,283.62 L665,284.23" fill="none" stroke="#dc3530" stroke-width="1.05" stroke-linecap="round" stroke-linejoin="round"/>
<circle cx="650.3" cy="275.4" r="1.9" fill="#189a3a"/>
<text font-size="8.36" text-anchor="middle" fill="#555" stroke="#555" stroke-width="0.13" transform="translate(630.4 293.3) scale(0.8229665071770336 1)">U6 Accumulation</text>
<path d="M664,287 C672,296 671,310 664,318.5" fill="none" stroke="#222" stroke-width="0.7"/>
<line x1="665.5" y1="316" x2="664" y2="319" stroke="#111" stroke-width="0.7"/>
<polygon points="663.78,319.45 666.25,317.44 663.89,316.26" fill="#111"/>
<text font-size="7.11" font-style="italic" fill="#a97563" stroke="#a97563" stroke-width="0.13" transform="translate(533.9 298.6) scale(0.861244019138756 1)">Endosome</text>
<g fill="#9a5cb9"><circle cx="448.1" cy="313.1" r="3"/><circle cx="452.7" cy="312.1" r="3"/><circle cx="450.5" cy="309.8" r="2.8"/><circle cx="453.7" cy="315" r="2.4"/><circle cx="447.3" cy="315.2" r="2.4"/><circle cx="450.5" cy="314.1" r="3"/></g>
<path d="M447.7,322.57 L449.3,322.18 C450,321.18 449.7,317.3 450.6,316 C451.4,315.2 452.8,315.6 452.9,317.2 L453.3,320.98 C453.5,321.98 454.2,322.07 455.2,322.07 L458.2,322.68" fill="none" stroke="#dc3530" stroke-width="0.9" stroke-linecap="round" stroke-linejoin="round"/>
<circle cx="450.5" cy="316.4" r="1.9" fill="#189a3a"/>
<g fill="#9a5cb9"><circle cx="464.6" cy="318.2" r="3"/><circle cx="469.2" cy="317.2" r="3"/><circle cx="467" cy="314.9" r="2.8"/><circle cx="470.2" cy="320.1" r="2.4"/><circle cx="463.8" cy="320.3" r="2.4"/><circle cx="467" cy="319.2" r="3"/></g>
<path d="M464.2,327.67 L465.8,327.27 C466.5,326.27 466.2,322.4 467.1,321.1 C467.9,320.3 469.3,320.7 469.4,322.3 L469.8,326.07 C470,327.07 470.7,327.17 471.7,327.17 L474.7,327.77" fill="none" stroke="#dc3530" stroke-width="0.9" stroke-linecap="round" stroke-linejoin="round"/>
<circle cx="467" cy="321.5" r="1.9" fill="#189a3a"/>
<g fill="#9a5cb9"><circle cx="506.9" cy="310.2" r="3"/><circle cx="511.5" cy="309.2" r="3"/><circle cx="509.3" cy="306.9" r="2.8"/><circle cx="512.5" cy="312.1" r="2.4"/><circle cx="506.1" cy="312.3" r="2.4"/><circle cx="509.3" cy="311.2" r="3"/></g>
<path d="M506.5,319.67 L508.1,319.27 C508.8,318.27 508.5,314.4 509.4,313.1 C510.2,312.3 511.6,312.7 511.7,314.3 L512.1,318.07 C512.3,319.07 513,319.17 514,319.17 L517,319.77" fill="none" stroke="#dc3530" stroke-width="0.9" stroke-linecap="round" stroke-linejoin="round"/>
<circle cx="509.3" cy="313.5" r="1.9" fill="#189a3a"/>
<g fill="#9a5cb9"><circle cx="522" cy="302.9" r="3"/><circle cx="526.6" cy="301.9" r="3"/><circle cx="524.4" cy="299.6" r="2.8"/><circle cx="527.6" cy="304.8" r="2.4"/><circle cx="521.2" cy="305" r="2.4"/><circle cx="524.4" cy="303.9" r="3"/></g>
<path d="M521.6,312.37 L523.2,311.97 C523.9,310.97 523.6,307.1 524.5,305.8 C525.3,305 526.7,305.4 526.8,307 L527.2,310.77 C527.4,311.77 528.1,311.87 529.1,311.87 L532.1,312.47" fill="none" stroke="#dc3530" stroke-width="0.9" stroke-linecap="round" stroke-linejoin="round"/>
<circle cx="524.4" cy="306.2" r="1.9" fill="#189a3a"/>
<path d="M448.5,336.12 L451.6,335.73 C452.3,334.73 452,330 452.9,328.7 C453.7,327.9 455.1,328.3 455.2,329.9 L455.6,334.53 C455.8,335.53 456.5,335.62 457.5,335.62 L462.5,336.23" fill="none" stroke="#dc3530" stroke-width="1.05" stroke-linecap="round" stroke-linejoin="round"/>
<path d="M467,341.55 L470.1,341.15 C470.8,340.15 470.5,335 471.4,333.7 C472.2,332.9 473.6,333.3 473.7,334.9 L474.1,339.95 C474.3,340.95 475,341.05 476,341.05 L483,341.65" fill="none" stroke="#dc3530" stroke-width="1.05" stroke-linecap="round" stroke-linejoin="round"/>
<path d="M509.8,338.97 L512.9,338.57 C513.6,337.57 513.3,332 514.2,330.7 C515,329.9 516.4,330.3 516.5,331.9 L516.9,337.38 C517.1,338.38 517.8,338.47 518.8,338.47 L520.8,339.07" fill="none" stroke="#dc3530" stroke-width="1.05" stroke-linecap="round" stroke-linejoin="round"/>
<path d="M523.4,333.12 L525.5,332.73 C526.2,331.73 525.9,327 526.8,325.7 C527.6,324.9 529,325.3 529.1,326.9 L529.5,331.53 C529.7,332.53 530.4,332.62 531.4,332.62 L538.4,333.23" fill="none" stroke="#dc3530" stroke-width="1.05" stroke-linecap="round" stroke-linejoin="round"/>
<g transform="rotate(-12 489.7 323.5)"><rect x="480" y="319" width="19.5" height="9" rx="1.5" fill="#1ba6b2" stroke="#127f88" stroke-width="0.5"/><line x1="480" y1="323.6" x2="499.5" y2="323.6" stroke="#0e6f77" stroke-width="0.5"/></g>
<path d="M471,333 L480,327" stroke="#bbb" stroke-width="0.5"/>
<line x1="498" y1="322.5" x2="510" y2="323.3" stroke="#111" stroke-width="0.8"/>
<polygon points="510.5,323.33 507.31,321.58 507.1,324.65" fill="#111"/>
<text font-size="7.31" text-anchor="middle" font-weight="bold" fill="#1a9ba6" transform="translate(491 337) rotate(-8) scale(0.861244019138756 1)">SIDT2</text>
<line x1="523.2" y1="335.5" x2="523.2" y2="341" stroke="#e0904a" stroke-width="0.6" stroke-dasharray="0.8 0.7"/>
<line x1="523.2" y1="339.5" x2="523.2" y2="342.5" stroke="#e0904a" stroke-width="0.6"/>
<polygon points="523.2,343 524.19,340.7 522.21,340.7" fill="#e0904a"/>
<path d="M559,340.55 L561.1,340.15 C561.8,339.15 561.5,334 562.4,332.7 C563.2,331.9 564.6,332.3 564.7,333.9 L565.1,338.95 C565.3,339.95 566,340.05 567,340.05 L568,340.65" fill="none" stroke="#dc3530" stroke-width="1.05" stroke-linecap="round" stroke-linejoin="round"/>
<path d="M569,335.05 L571.1,334.65 C571.8,333.65 571.5,328.5 572.4,327.2 C573.2,326.4 574.6,326.8 574.7,328.4 L575.1,333.45 C575.3,334.45 576,334.55 577,334.55 L577,335.15" fill="none" stroke="#dc3530" stroke-width="1.05" stroke-linecap="round" stroke-linejoin="round"/>
<path d="M581,340.62 L583.1,340.23 C583.8,339.23 583.5,334.5 584.4,333.2 C585.2,332.4 586.6,332.8 586.7,334.4 L587.1,339.03 C587.3,340.03 588,340.12 589,340.12 L591,340.73" fill="none" stroke="#dc3530" stroke-width="1.05" stroke-linecap="round" stroke-linejoin="round"/>
<circle cx="584.3" cy="333.6" r="1.9" fill="#189a3a"/>
<line x1="576.4" y1="335.5" x2="576.4" y2="341" stroke="#e0904a" stroke-width="0.6" stroke-dasharray="0.8 0.7"/>
<line x1="576.4" y1="339.5" x2="576.4" y2="342.5" stroke="#e0904a" stroke-width="0.6"/>
<polygon points="576.4,343 577.39,340.7 575.41,340.7" fill="#e0904a"/>
<g transform="rotate(14 606.5 319.5)"><rect x="596.5" y="314.5" width="20" height="10" rx="1.5" fill="#1ba6b2" stroke="#127f88" stroke-width="0.5"/><line x1="596.5" y1="319.5" x2="616.5" y2="319.5" stroke="#0e6f77" stroke-width="0.5"/></g>
<line x1="600" y1="319.5" x2="585.5" y2="319.2" stroke="#111" stroke-width="0.8"/>
<polygon points="585,319.19 588.27,320.8 588.33,317.72" fill="#111"/>
<path d="M631.2,318.05 L633.3,317.65 C634,316.65 633.7,311.5 634.6,310.2 C635.4,309.4 636.8,309.8 636.9,311.4 L637.3,316.45 C637.5,317.45 638.2,317.55 639.2,317.55 L644.2,318.15" fill="none" stroke="#dc3530" stroke-width="1.05" stroke-linecap="round" stroke-linejoin="round"/>
<circle cx="634.5" cy="310.6" r="1.9" fill="#189a3a"/>
<path d="M624.5,326.55 L627.6,326.15 C628.3,325.15 628,320 628.9,318.7 C629.7,317.9 631.1,318.3 631.2,319.9 L631.6,324.95 C631.8,325.95 632.5,326.05 633.5,326.05 L636.5,326.65" fill="none" stroke="#dc3530" stroke-width="1.05" stroke-linecap="round" stroke-linejoin="round"/>
<path d="M637,333.55 L639.1,333.15 C639.8,332.15 639.5,327 640.4,325.7 C641.2,324.9 642.6,325.3 642.7,326.9 L643.1,331.95 C643.3,332.95 644,333.05 645,333.05 L651,333.65" fill="none" stroke="#dc3530" stroke-width="1.05" stroke-linecap="round" stroke-linejoin="round"/>
<circle cx="640.3" cy="326.1" r="1.9" fill="#189a3a"/>
<path d="M625,336.05 L628.1,335.65 C628.8,334.65 628.5,329.5 629.4,328.2 C630.2,327.4 631.6,327.8 631.7,329.4 L632.1,334.45 C632.3,335.45 633,335.55 634,335.55 L637,336.15" fill="none" stroke="#dc3530" stroke-width="1.05" stroke-linecap="round" stroke-linejoin="round"/>
<g fill="#ebcaa2" stroke="#d3ab80" stroke-width="0.6"><path d="M522.3,345.3 C517.3,341.3 508.3,341.8 508.3,348.8 C508.3,353.3 511.3,356.3 513.8,355.8 C515.8,355.3 516.3,352.3 514.3,351.3 C513.8,349.8 515.8,348.3 518.3,349.8 C519.8,350.8 519.8,354.3 520.3,356.3 Z"/><path d="M524.3,345.3 C529.3,341.3 538.3,341.8 538.3,348.8 C538.3,353.3 535.3,356.3 532.8,355.8 C530.8,355.3 530.3,352.3 532.3,351.3 C532.8,349.8 530.8,348.3 528.3,349.8 C526.8,350.8 526.8,354.3 526.3,356.3 Z"/><path d="M519.7,346.3 L526.9,346.3 L526.3,373.3 L520.3,373.3 Z"/><path d="M520.7,372.3 C515.8,372.8 515.5,379.8 518.8,382.1 C520.8,383.3 522.5,382.8 523.3,381.8 C524.1,382.8 525.8,383.3 527.8,382.1 C531.1,379.8 530.8,372.8 525.9,372.3 Z"/></g>
<path d="M522.1,348.3 L522.1,378.3" stroke="#d9b080" stroke-width="1.3" opacity="0.7"/>
<g fill="#f9b654" stroke="#f0a030" stroke-width="0.6"><path d="M575.4,345 C570.4,341 561.4,341.5 561.4,348.5 C561.4,353 564.4,356 566.9,355.5 C568.9,355 569.4,352 567.4,351 C566.9,349.5 568.9,348 571.4,349.5 C572.9,350.5 572.9,354 573.4,356 Z"/><path d="M577.4,345 C582.4,341 591.4,341.5 591.4,348.5 C591.4,353 588.4,356 585.9,355.5 C583.9,355 583.4,352 585.4,351 C585.9,349.5 583.9,348 581.4,349.5 C579.9,350.5 579.9,354 579.4,356 Z"/><path d="M572.8,346 L580,346 L579.4,373 L573.4,373 Z"/><path d="M573.8,372 C568.9,372.5 568.6,379.5 571.9,381.8 C573.9,383 575.6,382.5 576.4,381.5 C577.2,382.5 578.9,383 580.9,381.8 C584.2,379.5 583.9,372.5 579,372 Z"/></g>
<path d="M575.2,348 L575.2,378" stroke="#f7c878" stroke-width="1.3" opacity="0.7"/>
<text font-size="4.81" text-anchor="middle" fill="#d07a5a" stroke="#d07a5a" stroke-width="0.13" transform="translate(560.5 366.3) scale(0.8899521531100479 1)">TLR8</text>
<path d="M529.09,381.89 A9,9 0 0 1 517.51,381.89" fill="none" stroke="#a8a8a8" stroke-width="0.5"/>
<path d="M531.33,384.58 A12.5,12.5 0 0 1 515.27,384.58" fill="none" stroke="#a8a8a8" stroke-width="0.5"/>
<path d="M585.1,381.66 A13,13 0 0 1 567.7,381.66" fill="none" stroke="#eaa040" stroke-width="0.6"/>
<path d="M587.44,384.26 A16.5,16.5 0 0 1 565.36,384.26" fill="none" stroke="#eaa040" stroke-width="0.6"/>
<path d="M590.12,387.23 A20.5,20.5 0 0 1 562.68,387.23" fill="none" stroke="#eaa040" stroke-width="0.6"/>
<circle cx="597.6" cy="373.3" r="5.3" fill="#f08424"/>
<line x1="594.6" y1="373.3" x2="600.6" y2="373.3" stroke="#fff" stroke-width="1.3"/>
<line x1="597.6" y1="370.3" x2="597.6" y2="376.3" stroke="#fff" stroke-width="1.3"/>
<text font-size="5.22" fill="#e8913a" stroke="#e8913a" stroke-width="0.13" transform="translate(608 358.2) scale(0.8133971291866029 1)">UV-induced inflammation and</text>
<text font-size="5.22" fill="#e8913a" stroke="#e8913a" stroke-width="0.13" transform="translate(608 364) scale(0.8133971291866029 1)">tumorigenesis</text>
<text font-size="4.81" fill="#bcc3ce" stroke="#bcc3ce" stroke-width="0.13" transform="translate(434.5 387.4) scale(0.8133971291866029 1)">Cytoplasm</text>
<text font-size="4.81" font-style="italic" fill="#b4bccb" stroke="#b4bccb" stroke-width="0.13" transform="translate(435 429.6) scale(0.8133971291866029 1)">Nucleus</text>
<path d="M452.6,410.82 L456.7,410.43 C457.4,409.43 457.1,403 458,401.7 C458.8,400.9 460.2,401.3 460.3,402.9 L460.7,409.23 C460.9,410.23 461.6,410.32 462.6,410.32 L473.6,410.93" fill="none" stroke="#dc3530" stroke-width="1.05" stroke-linecap="round" stroke-linejoin="round"/>
<rect x="455" y="400" width="3.9" height="3.9" fill="#189a3a" rx="0.9"/>
<text font-size="5.43" font-weight="bold" fill="#2e9e40" transform="translate(472.2 402) scale(0.8899521531100479 1)">m<tspan font-size="3" dy="-1.6">6</tspan><tspan dy="1.6">A</tspan></text>
<path d="M469.5,425.25 L473.6,424.85 C474.3,423.85 474,417 474.9,415.7 C475.7,414.9 477.1,415.3 477.2,416.9 L477.6,423.65 C477.8,424.65 478.5,424.75 479.5,424.75 L489.5,425.35" fill="none" stroke="#dc3530" stroke-width="1.05" stroke-linecap="round" stroke-linejoin="round"/>
<rect x="493.7" y="403.9" width="31" height="8.1" fill="#f2fbef" stroke="#9fd094" stroke-width="0.6" rx="1"/>
<text font-size="6.58" text-anchor="middle" fill="#222" stroke="#222" stroke-width="0.13" transform="translate(509.2 410.1) scale(0.8899521531100479 1)">METTL16</text>
<rect x="579.2" y="404.2" width="31" height="8.1" fill="#f2fbef" stroke="#9fd094" stroke-width="0.6" rx="1"/>
<text font-size="6.58" text-anchor="middle" fill="#222" stroke="#222" stroke-width="0.13" transform="translate(594.7 410.4) scale(0.8899521531100479 1)">METTL16</text>
<line x1="533.5" y1="415.1" x2="488.5" y2="415.1" stroke="#111" stroke-width="0.9"/>
<polygon points="488,415.1 491.5,416.75 491.5,413.45" fill="#111"/>
<line x1="569.8" y1="415.2" x2="615.8" y2="415.2" stroke="#111" stroke-width="0.9"/>
<polygon points="616.3,415.2 612.8,413.55 612.8,416.85" fill="#111"/>
<path d="M540.5,414.45 L544.6,414.05 C545.3,413.05 545,404.5 545.9,403.2 C546.7,402.4 548.1,402.8 548.2,404.4 L548.6,412.85 C548.8,413.85 549.5,413.95 550.5,413.95 L561.5,414.55" fill="none" stroke="#dc3530" stroke-width="1.05" stroke-linecap="round" stroke-linejoin="round"/>
<text font-size="5.64" text-anchor="middle" font-weight="bold" fill="#c8282a" transform="translate(545.2 424.6) scale(0.8133971291866029 1)">U6 snRNA</text>
<path d="M617,419.3 L620.1,418.9 C620.8,417.9 620.5,411.9 621.4,410.6 C622.2,409.8 623.6,410.2 623.7,411.8 L624.1,417.7 C624.3,418.7 625,418.8 626,418.8 L634,419.4" fill="none" stroke="#dc3530" stroke-width="1.05" stroke-linecap="round" stroke-linejoin="round"/>
<circle cx="621.3" cy="411" r="1.9" fill="#189a3a"/>
<path d="M628.8,408.9 L630.9,408.5 C631.6,407.5 631.3,401.5 632.2,400.2 C633,399.4 634.4,399.8 634.5,401.4 L634.9,407.3 C635.1,408.3 635.8,408.4 636.8,408.4 L643.8,409" fill="none" stroke="#dc3530" stroke-width="1.05" stroke-linecap="round" stroke-linejoin="round"/>
<circle cx="632.1" cy="400.6" r="1.9" fill="#189a3a"/>
<path d="M638.9,427.6 L642,427.2 C642.7,426.2 642.4,420.2 643.3,418.9 C644.1,418.1 645.5,418.5 645.6,420.1 L646,426 C646.2,427 646.9,427.1 647.9,427.1 L655.9,427.7" fill="none" stroke="#dc3530" stroke-width="1.05" stroke-linecap="round" stroke-linejoin="round"/>
<circle cx="643.2" cy="419.3" r="1.9" fill="#189a3a"/></svg></body></html>
